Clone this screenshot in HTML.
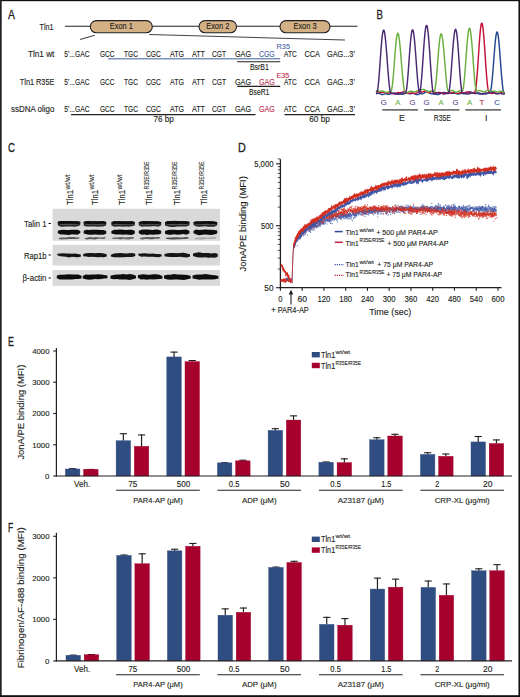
<!DOCTYPE html>
<html><head><meta charset="utf-8"><style>
html,body{margin:0;padding:0;background:#fff;}
svg{display:block;}
text{font-family:"Liberation Sans",sans-serif;}
</style></head><body>
<svg width="520" height="697" viewBox="0 0 520 697">
<rect x="0" y="0" width="520" height="697" fill="#fff"/>
<text x="8.10" y="18.50" font-size="12.5" text-anchor="start" fill="#231f20" stroke="#231f20" stroke-width="0.3" textLength="6.90" lengthAdjust="spacingAndGlyphs" >A</text>
<text x="376.40" y="18.60" font-size="12" text-anchor="start" fill="#231f20" stroke="#231f20" stroke-width="0.3" textLength="6.40" lengthAdjust="spacingAndGlyphs" >B</text>
<text x="8.00" y="152.40" font-size="12.5" text-anchor="start" fill="#231f20" stroke="#231f20" stroke-width="0.3" textLength="7.00" lengthAdjust="spacingAndGlyphs" >C</text>
<text x="238.00" y="151.50" font-size="12" text-anchor="start" fill="#231f20" stroke="#231f20" stroke-width="0.3" textLength="7.80" lengthAdjust="spacingAndGlyphs" >D</text>
<text x="8.00" y="346.30" font-size="12" text-anchor="start" fill="#231f20" stroke="#231f20" stroke-width="0.3" textLength="5.80" lengthAdjust="spacingAndGlyphs" >E</text>
<text x="8.10" y="531.60" font-size="12" text-anchor="start" fill="#231f20" stroke="#231f20" stroke-width="0.35" textLength="5.20" lengthAdjust="spacingAndGlyphs" >F</text>
<text x="53.50" y="29.50" font-size="8.7" text-anchor="end" fill="#231f20" stroke="#231f20" stroke-width="0.13" textLength="14.00" lengthAdjust="spacingAndGlyphs" >Tln1</text>
<line x1="65.00" y1="26.30" x2="357.50" y2="26.30" stroke="#231f20" stroke-width="1.1" />
<rect x="90.3" y="20.6" width="62.000000000000014" height="12.2" rx="6.1" fill="#d4b185" stroke="#231f20" stroke-width="1.1"/>
<text x="121.30" y="29.40" font-size="8.6" text-anchor="middle" fill="#231f20" stroke="#231f20" stroke-width="0.13" textLength="23.00" lengthAdjust="spacingAndGlyphs" >Exon 1</text>
<rect x="199" y="20.6" width="37.5" height="12.2" rx="6.1" fill="#d4b185" stroke="#231f20" stroke-width="1.1"/>
<text x="217.75" y="29.40" font-size="8.6" text-anchor="middle" fill="#231f20" stroke="#231f20" stroke-width="0.13" textLength="23.00" lengthAdjust="spacingAndGlyphs" >Exon 2</text>
<rect x="280" y="20.6" width="50" height="12.2" rx="6.1" fill="#d4b185" stroke="#231f20" stroke-width="1.1"/>
<text x="305.00" y="29.40" font-size="8.6" text-anchor="middle" fill="#231f20" stroke="#231f20" stroke-width="0.13" textLength="23.00" lengthAdjust="spacingAndGlyphs" >Exon 3</text>
<line x1="80.00" y1="39.50" x2="94.80" y2="35.20" stroke="#444" stroke-width="1.1" />
<line x1="149.20" y1="34.50" x2="345.00" y2="40.00" stroke="#444" stroke-width="1.1" />
<text x="54.40" y="57.10" font-size="8.7" text-anchor="end" fill="#231f20" stroke="#231f20" stroke-width="0.13" textLength="26.50" lengthAdjust="spacingAndGlyphs" >Tln1 wt</text>
<text x="54.40" y="84.60" font-size="8.7" text-anchor="end" fill="#231f20" stroke="#231f20" stroke-width="0.13" textLength="34.60" lengthAdjust="spacingAndGlyphs" >Tln1 R35E</text>
<text x="54.40" y="112.30" font-size="8.7" text-anchor="end" fill="#231f20" stroke="#231f20" stroke-width="0.13" textLength="43.40" lengthAdjust="spacingAndGlyphs" >ssDNA oligo</text>
<text x="64.20" y="57.10" font-size="8.7" text-anchor="start" fill="#231f20" stroke="#231f20" stroke-width="0.13" textLength="25.30" lengthAdjust="spacingAndGlyphs" >5&#8217;...GAC</text>
<text x="100.00" y="57.10" font-size="8.7" text-anchor="start" fill="#231f20" stroke="#231f20" stroke-width="0.13" textLength="14.50" lengthAdjust="spacingAndGlyphs" >GCC</text>
<text x="124.00" y="57.10" font-size="8.7" text-anchor="start" fill="#231f20" stroke="#231f20" stroke-width="0.13" textLength="14.00" lengthAdjust="spacingAndGlyphs" >TGC</text>
<text x="146.00" y="57.10" font-size="8.7" text-anchor="start" fill="#231f20" stroke="#231f20" stroke-width="0.13" textLength="15.00" lengthAdjust="spacingAndGlyphs" >CGC</text>
<text x="170.00" y="57.10" font-size="8.7" text-anchor="start" fill="#231f20" stroke="#231f20" stroke-width="0.13" textLength="14.00" lengthAdjust="spacingAndGlyphs" >ATG</text>
<text x="192.00" y="57.10" font-size="8.7" text-anchor="start" fill="#231f20" stroke="#231f20" stroke-width="0.13" textLength="13.00" lengthAdjust="spacingAndGlyphs" >ATT</text>
<text x="212.00" y="57.10" font-size="8.7" text-anchor="start" fill="#231f20" stroke="#231f20" stroke-width="0.13" textLength="14.00" lengthAdjust="spacingAndGlyphs" >CGT</text>
<text x="234.90" y="57.10" font-size="8.7" text-anchor="start" fill="#231f20" stroke="#231f20" stroke-width="0.13" textLength="16.20" lengthAdjust="spacingAndGlyphs" >GAG</text>
<text x="258.90" y="57.10" font-size="8.7" text-anchor="start" fill="#4a6aa5" stroke="#4a6aa5" stroke-width="0.13" textLength="15.90" lengthAdjust="spacingAndGlyphs" >CGG</text>
<text x="284.10" y="57.10" font-size="8.7" text-anchor="start" fill="#231f20" stroke="#231f20" stroke-width="0.13" textLength="12.60" lengthAdjust="spacingAndGlyphs" >ATC</text>
<text x="304.50" y="57.10" font-size="8.7" text-anchor="start" fill="#231f20" stroke="#231f20" stroke-width="0.13" textLength="15.50" lengthAdjust="spacingAndGlyphs" >CCA</text>
<text x="327.00" y="57.10" font-size="8.7" text-anchor="start" fill="#231f20" stroke="#231f20" stroke-width="0.13" textLength="28.00" lengthAdjust="spacingAndGlyphs" >GAG...3&#8217;</text>
<text x="64.20" y="84.60" font-size="8.7" text-anchor="start" fill="#231f20" stroke="#231f20" stroke-width="0.13" textLength="25.30" lengthAdjust="spacingAndGlyphs" >5&#8217;...GAC</text>
<text x="100.00" y="84.60" font-size="8.7" text-anchor="start" fill="#231f20" stroke="#231f20" stroke-width="0.13" textLength="14.50" lengthAdjust="spacingAndGlyphs" >GCC</text>
<text x="124.00" y="84.60" font-size="8.7" text-anchor="start" fill="#231f20" stroke="#231f20" stroke-width="0.13" textLength="14.00" lengthAdjust="spacingAndGlyphs" >TGC</text>
<text x="146.00" y="84.60" font-size="8.7" text-anchor="start" fill="#231f20" stroke="#231f20" stroke-width="0.13" textLength="15.00" lengthAdjust="spacingAndGlyphs" >CGC</text>
<text x="170.00" y="84.60" font-size="8.7" text-anchor="start" fill="#231f20" stroke="#231f20" stroke-width="0.13" textLength="14.00" lengthAdjust="spacingAndGlyphs" >ATG</text>
<text x="192.00" y="84.60" font-size="8.7" text-anchor="start" fill="#231f20" stroke="#231f20" stroke-width="0.13" textLength="13.00" lengthAdjust="spacingAndGlyphs" >ATT</text>
<text x="212.00" y="84.60" font-size="8.7" text-anchor="start" fill="#231f20" stroke="#231f20" stroke-width="0.13" textLength="14.00" lengthAdjust="spacingAndGlyphs" >CGT</text>
<text x="234.90" y="84.60" font-size="8.7" text-anchor="start" fill="#231f20" stroke="#231f20" stroke-width="0.13" textLength="16.20" lengthAdjust="spacingAndGlyphs" >GAG</text>
<text x="258.90" y="84.60" font-size="8.7" text-anchor="start" fill="#c0304f" stroke="#c0304f" stroke-width="0.13" textLength="15.90" lengthAdjust="spacingAndGlyphs" >GAG</text>
<text x="284.10" y="84.60" font-size="8.7" text-anchor="start" fill="#231f20" stroke="#231f20" stroke-width="0.13" textLength="12.60" lengthAdjust="spacingAndGlyphs" >ATC</text>
<text x="304.50" y="84.60" font-size="8.7" text-anchor="start" fill="#231f20" stroke="#231f20" stroke-width="0.13" textLength="15.50" lengthAdjust="spacingAndGlyphs" >CCA</text>
<text x="327.00" y="84.60" font-size="8.7" text-anchor="start" fill="#231f20" stroke="#231f20" stroke-width="0.13" textLength="28.00" lengthAdjust="spacingAndGlyphs" >GAG...3&#8217;</text>
<text x="64.20" y="112.30" font-size="8.7" text-anchor="start" fill="#231f20" stroke="#231f20" stroke-width="0.13" textLength="25.30" lengthAdjust="spacingAndGlyphs" >5&#8217;...GAC</text>
<text x="100.00" y="112.30" font-size="8.7" text-anchor="start" fill="#231f20" stroke="#231f20" stroke-width="0.13" textLength="14.50" lengthAdjust="spacingAndGlyphs" >GCC</text>
<text x="124.00" y="112.30" font-size="8.7" text-anchor="start" fill="#231f20" stroke="#231f20" stroke-width="0.13" textLength="14.00" lengthAdjust="spacingAndGlyphs" >TGC</text>
<text x="146.00" y="112.30" font-size="8.7" text-anchor="start" fill="#231f20" stroke="#231f20" stroke-width="0.13" textLength="15.00" lengthAdjust="spacingAndGlyphs" >CGC</text>
<text x="170.00" y="112.30" font-size="8.7" text-anchor="start" fill="#231f20" stroke="#231f20" stroke-width="0.13" textLength="14.00" lengthAdjust="spacingAndGlyphs" >ATG</text>
<text x="192.00" y="112.30" font-size="8.7" text-anchor="start" fill="#231f20" stroke="#231f20" stroke-width="0.13" textLength="13.00" lengthAdjust="spacingAndGlyphs" >ATT</text>
<text x="212.00" y="112.30" font-size="8.7" text-anchor="start" fill="#231f20" stroke="#231f20" stroke-width="0.13" textLength="14.00" lengthAdjust="spacingAndGlyphs" >CGT</text>
<text x="234.90" y="112.30" font-size="8.7" text-anchor="start" fill="#231f20" stroke="#231f20" stroke-width="0.13" textLength="16.20" lengthAdjust="spacingAndGlyphs" >GAG</text>
<text x="258.90" y="112.30" font-size="8.7" text-anchor="start" fill="#c0304f" stroke="#c0304f" stroke-width="0.13" textLength="15.90" lengthAdjust="spacingAndGlyphs" >GAG</text>
<text x="284.10" y="112.30" font-size="8.7" text-anchor="start" fill="#231f20" stroke="#231f20" stroke-width="0.13" textLength="12.60" lengthAdjust="spacingAndGlyphs" >ATC</text>
<text x="304.50" y="112.30" font-size="8.7" text-anchor="start" fill="#231f20" stroke="#231f20" stroke-width="0.13" textLength="15.50" lengthAdjust="spacingAndGlyphs" >CCA</text>
<text x="327.00" y="112.30" font-size="8.7" text-anchor="start" fill="#231f20" stroke="#231f20" stroke-width="0.13" textLength="28.00" lengthAdjust="spacingAndGlyphs" >GAG...3&#8217;</text>
<text x="276.60" y="49.40" font-size="7.8" text-anchor="start" fill="#4a6aa5" stroke="#4a6aa5" stroke-width="0.13" textLength="13.40" lengthAdjust="spacingAndGlyphs" >R35</text>
<text x="276.60" y="77.80" font-size="7.8" text-anchor="start" fill="#c0304f" stroke="#c0304f" stroke-width="0.13" textLength="12.60" lengthAdjust="spacingAndGlyphs" >E35</text>
<line x1="108.00" y1="58.70" x2="280.20" y2="58.70" stroke="#7d92bb" stroke-width="1.4" />
<line x1="237.20" y1="61.70" x2="280.20" y2="61.70" stroke="#231f20" stroke-width="1.1" />
<text x="249.90" y="70.10" font-size="8.7" text-anchor="start" fill="#231f20" stroke="#231f20" stroke-width="0.13" textLength="18.90" lengthAdjust="spacingAndGlyphs" >BsrB1</text>
<line x1="237.20" y1="86.40" x2="280.20" y2="86.40" stroke="#231f20" stroke-width="1.1" />
<text x="249.10" y="94.60" font-size="8.7" text-anchor="start" fill="#231f20" stroke="#231f20" stroke-width="0.13" textLength="20.20" lengthAdjust="spacingAndGlyphs" >BseR1</text>
<line x1="71.10" y1="114.50" x2="255.50" y2="114.50" stroke="#231f20" stroke-width="1.25" />
<line x1="284.50" y1="114.50" x2="355.00" y2="114.50" stroke="#231f20" stroke-width="1.25" />
<text x="153.50" y="122.00" font-size="8.7" text-anchor="start" fill="#231f20" stroke="#231f20" stroke-width="0.13" textLength="20.20" lengthAdjust="spacingAndGlyphs" >76 bp</text>
<text x="309.20" y="122.00" font-size="8.7" text-anchor="start" fill="#231f20" stroke="#231f20" stroke-width="0.13" textLength="20.60" lengthAdjust="spacingAndGlyphs" >60 bp</text>
<polyline points="376.0,93.80 376.4,93.65 376.8,93.50 377.2,93.36 377.6,93.26 378.0,93.20 378.4,93.21 378.8,93.28 379.2,93.40 379.6,93.58 380.0,93.78 380.4,93.99 380.8,94.19 381.2,94.36 381.6,94.48 382.0,94.54 382.4,94.53 382.8,94.47 383.2,94.37 383.6,94.24 384.0,94.09 384.4,93.96 384.8,93.86 385.2,93.80 385.6,93.79 386.0,93.83 386.4,93.91 386.8,94.02 387.2,94.14 387.6,94.25 388.0,94.34 388.4,94.38 388.8,94.37 389.2,94.30 389.6,94.17 390.0,94.01 390.4,93.81 390.8,93.61 391.2,93.42 391.6,93.26 392.0,93.16 392.4,93.12 392.8,93.14 393.2,93.22 393.6,93.35 394.0,93.52 394.4,93.70 394.8,93.87 395.2,94.02 395.6,94.12 396.0,94.17 396.4,94.16 396.8,94.11 397.2,94.02 397.6,93.92 398.0,93.81 398.4,93.71 398.8,93.65 399.2,93.64 399.6,93.67 400.0,93.75 400.4,93.87 400.8,94.01 401.2,94.14 401.6,94.26 402.0,94.33 402.4,94.35 402.8,94.30 403.2,94.18 403.6,93.99 404.0,93.76 404.4,93.50 404.8,93.24 405.2,92.99 405.6,92.80 406.0,92.66 406.4,92.60 406.8,92.62 407.2,92.70 407.6,92.85 408.0,93.03 408.4,93.23 408.8,93.42 409.2,93.58 409.6,93.69 410.0,93.75 410.4,93.75 410.8,93.70 411.2,93.61 411.6,93.50 412.0,93.40 412.4,93.32 412.8,93.27 413.2,93.28 413.6,93.35 414.0,93.47 414.4,93.64 414.8,93.84 415.2,94.06 415.6,94.26 416.0,94.43 416.4,94.55 416.8,94.62 417.2,94.62 417.6,94.56 418.0,94.45 418.4,94.30 418.8,94.13 419.2,93.97 419.6,93.83 420.0,93.72 420.4,93.65 420.8,93.63 421.2,93.63 421.6,93.66 422.0,93.69 422.4,93.69 422.8,93.66 423.2,93.57 423.6,93.41 424.0,93.18 424.4,92.89 424.8,92.55 425.2,92.20 425.6,91.85 426.0,91.54 426.4,91.30 426.8,91.15 427.2,91.11 427.6,91.18 428.0,91.35 428.4,91.62 428.8,91.95 429.2,92.32 429.6,92.70 430.0,93.05 430.4,93.35 430.8,93.58 431.2,93.75 431.6,93.83 432.0,93.86 432.4,93.84 432.8,93.79 433.2,93.74 433.6,93.70 434.0,93.69 434.4,93.73 434.8,93.81 435.2,93.93 435.6,94.08 436.0,94.24 436.4,94.39 436.8,94.51 437.2,94.59 437.6,94.61 438.0,94.56 438.4,94.46 438.8,94.30 439.2,94.11 439.6,93.89 440.0,93.69 440.4,93.51 440.8,93.37 441.2,93.29 441.6,93.27 442.0,93.30 442.4,93.39 442.8,93.51 443.2,93.64 443.6,93.77 444.0,93.87 444.4,93.93 444.8,93.93 445.2,93.87 445.6,93.76 446.0,93.59 446.4,93.40 446.8,93.19 447.2,93.00 447.6,92.82 448.0,92.69 448.4,92.61 448.8,92.58 449.2,92.62 449.6,92.70 450.0,92.81 450.4,92.95 450.8,93.08 451.2,93.21 451.6,93.31 452.0,93.37 452.4,93.40 452.8,93.40 453.2,93.36 453.6,93.32 454.0,93.27 454.4,93.24 454.8,93.24 455.2,93.27 455.6,93.35 456.0,93.45 456.4,93.59 456.8,93.74 457.2,93.88 457.6,94.00 458.0,94.09 458.4,94.12 458.8,94.10 459.2,94.03 459.6,93.90 460.0,93.75 460.4,93.57 460.8,93.40 461.2,93.26 461.6,93.15 462.0,93.10 462.4,93.12 462.8,93.19 463.2,93.30 463.6,93.45 464.0,93.61 464.4,93.75 464.8,93.85 465.2,93.89 465.6,93.85 466.0,93.74 466.4,93.54 466.8,93.28 467.2,92.97 467.6,92.65 468.0,92.33 468.4,92.05 468.8,91.83 469.2,91.70 469.6,91.66 470.0,91.72 470.4,91.86 470.8,92.08 471.2,92.33 471.6,92.60 472.0,92.86 472.4,93.08 472.8,93.25 473.2,93.35 473.6,93.39 474.0,93.37 474.4,93.30 474.8,93.22 475.2,93.14 475.6,93.08 476.0,93.05 476.4,93.07 476.8,93.14 477.2,93.26 477.6,93.41 478.0,93.58 478.4,93.74 478.8,93.88 479.2,93.99 479.6,94.05 480.0,94.05 480.4,94.01 480.8,93.92 481.2,93.81 481.6,93.69 482.0,93.58 482.4,93.50 482.8,93.45 483.2,93.45 483.6,93.50 484.0,93.58 484.4,93.68 484.8,93.80 485.2,93.89 485.6,93.95 486.0,93.96 486.4,93.90 486.8,93.78 487.2,93.61 487.6,93.39 488.0,93.14 488.4,92.89 488.8,92.67 489.2,92.49 489.6,92.39 490.0,92.21 490.4,91.48 490.8,90.07 491.2,87.93 491.6,85.08 492.0,81.56 492.4,77.42 492.8,72.78 493.2,67.76 493.6,62.50 494.0,57.18 494.4,51.95 494.8,47.01 495.2,42.53 495.6,38.67 496.0,35.58 496.4,33.38 496.8,32.14 497.2,31.93 497.6,32.74 498.0,34.55 498.4,37.30 498.8,40.87 499.2,45.14 499.6,49.95 500.0,55.14 500.4,60.52 500.8,65.92 501.2,71.18 501.6,76.12 502.0,80.62 502.4,84.56 502.8,87.84 503.2,90.42 503.6,92.25 504.0,93.36 504.4,93.79 504.8,93.86" fill="none" stroke="#24498f" stroke-width="1.45" stroke-linejoin="round"/>
<polyline points="376.0,91.80 376.4,91.60 376.8,91.46 377.2,91.40 377.6,91.41 378.0,91.50 378.4,91.65 378.8,91.84 379.2,92.05 379.6,92.25 380.0,92.41 380.4,92.53 380.8,92.59 381.2,92.60 381.6,92.55 382.0,92.47 382.4,92.36 382.8,92.26 383.2,92.19 383.6,92.15 384.0,92.16 384.4,92.22 384.8,92.33 385.2,92.47 385.6,92.64 386.0,92.81 386.4,92.96 386.8,93.08 387.2,93.15 387.6,93.17 388.0,93.14 388.4,93.07 388.8,92.97 389.2,92.86 389.6,92.76 390.0,92.68 390.4,92.65 390.8,92.67 391.2,92.74 391.6,92.87 392.0,93.03 392.4,93.22 392.8,93.41 393.2,93.58 393.6,93.71 394.0,93.78 394.4,93.80 394.8,93.74 395.2,93.63 395.6,93.47 396.0,93.28 396.4,93.08 396.8,92.89 397.2,92.73 397.6,92.61 398.0,92.54 398.4,92.52 398.8,92.55 399.2,92.60 399.6,92.66 400.0,92.71 400.4,92.73 400.8,92.71 401.2,92.64 401.6,92.52 402.0,92.35 402.4,92.15 402.8,91.93 403.2,91.73 403.6,91.56 404.0,91.45 404.4,91.41 404.8,91.45 405.2,91.57 405.6,91.77 406.0,92.02 406.4,92.31 406.8,92.60 407.2,92.88 407.6,93.12 408.0,93.31 408.4,93.42 408.8,93.47 409.2,93.44 409.6,93.37 410.0,93.26 410.4,93.14 410.8,93.02 411.2,92.94 411.6,92.89 412.0,92.88 412.4,92.93 412.8,93.02 413.2,93.13 413.6,93.25 414.0,93.36 414.4,93.44 414.8,93.48 415.2,93.46 415.6,93.39 416.0,93.25 416.4,93.07 416.8,92.86 417.2,92.64 417.6,92.43 418.0,92.24 418.4,92.10 418.8,92.00 419.2,91.95 419.6,91.95 420.0,91.98 420.4,92.02 420.8,92.06 421.2,92.09 421.6,92.08 422.0,92.03 422.4,91.94 422.8,91.82 423.2,91.68 423.6,91.53 424.0,91.40 424.4,91.30 424.8,91.26 425.2,91.28 425.6,91.37 426.0,91.53 426.4,91.73 426.8,91.97 427.2,92.22 427.6,92.45 428.0,92.64 428.4,92.77 428.8,92.81 429.2,92.77 429.6,92.65 430.0,92.45 430.4,92.21 430.8,91.94 431.2,91.67 431.6,91.44 432.0,91.26 432.4,91.17 432.8,91.15 433.2,91.22 433.6,91.37 434.0,91.58 434.4,91.83 434.8,92.08 435.2,92.32 435.6,92.52 436.0,92.67 436.4,92.76 436.8,92.78 437.2,92.75 437.6,92.67 438.0,92.57 438.4,92.48 438.8,92.40 439.2,92.36 439.6,92.38 440.0,92.45 440.4,92.58 440.8,92.75 441.2,92.96 441.6,93.17 442.0,93.37 442.4,93.54 442.8,93.66 443.2,93.72 443.6,93.72 444.0,93.65 444.4,93.54 444.8,93.39 445.2,93.24 445.6,93.08 446.0,92.96 446.4,92.87 446.8,92.83 447.2,92.85 447.6,92.91 448.0,93.00 448.4,93.11 448.8,93.22 449.2,93.31 449.6,93.36 450.0,93.36 450.4,93.30 450.8,93.19 451.2,93.04 451.6,92.86 452.0,92.66 452.4,92.48 452.8,92.34 453.2,92.24 453.6,92.20 454.0,92.23 454.4,92.32 454.8,92.46 455.2,92.64 455.6,92.83 456.0,93.02 456.4,93.18 456.8,93.30 457.2,93.36 457.6,93.37 458.0,93.32 458.4,93.23 458.8,93.11 459.2,92.98 459.6,92.85 460.0,92.75 460.4,92.68 460.8,92.65 461.2,92.67 461.6,92.72 462.0,92.79 462.4,92.87 462.8,92.95 463.2,93.00 463.6,93.00 464.0,92.97 464.4,92.88 464.8,92.75 465.2,92.59 465.6,92.41 466.0,92.24 466.4,92.08 466.8,91.97 467.2,91.91 467.6,91.90 468.0,91.96 468.4,92.07 468.8,92.23 469.2,92.41 469.6,92.60 470.0,92.78 470.4,92.92 470.8,93.02 471.2,93.06 471.6,93.05 472.0,92.99 472.4,92.89 472.8,92.77 473.2,92.66 473.6,92.56 474.0,92.51 474.4,92.51 474.8,92.25 475.2,91.27 475.6,89.47 476.0,86.81 476.4,83.32 476.8,79.06 477.2,74.13 477.6,68.65 478.0,62.77 478.4,56.68 478.8,50.58 479.2,44.65 479.6,39.10 480.0,34.14 480.4,29.93 480.8,26.63 481.2,24.35 481.6,23.19 482.0,23.18 482.4,24.32 482.8,26.56 483.2,29.81 483.6,33.95 484.0,38.84 484.4,44.29 484.8,50.12 485.2,56.13 485.6,62.13 486.0,67.94 486.4,73.38 486.8,78.30 487.2,82.59 487.6,86.15 488.0,88.90 488.4,90.83 488.8,91.94 489.2,92.34 489.6,92.49 490.0,92.67 490.4,92.87 490.8,93.08 491.2,93.25 491.6,93.39 492.0,93.48 492.4,93.51 492.8,93.48 493.2,93.40 493.6,93.29 494.0,93.17 494.4,93.05 494.8,92.96 495.2,92.90 495.6,92.90 496.0,92.94 496.4,93.03 496.8,93.15 497.2,93.29 497.6,93.42 498.0,93.53 498.4,93.60 498.8,93.62 499.2,93.58 499.6,93.47 500.0,93.32 500.4,93.13 500.8,92.92 501.2,92.71 501.6,92.53 502.0,92.39 502.4,92.30 502.8,92.28 503.2,92.32 503.6,92.42 504.0,92.55 504.4,92.71 504.8,92.86" fill="none" stroke="#c5113a" stroke-width="1.45" stroke-linejoin="round"/>
<polyline points="376.0,90.66 376.4,90.64 376.8,90.67 377.2,90.75 377.6,90.85 378.0,90.96 378.4,91.06 378.8,91.13 379.2,91.17 379.6,91.18 380.0,91.15 380.4,91.10 380.8,91.05 381.2,90.99 381.6,90.97 382.0,90.98 382.4,91.04 382.8,91.15 383.2,91.30 383.6,91.50 384.0,91.73 384.4,91.95 384.8,92.17 385.2,92.34 385.6,92.47 386.0,92.53 386.4,92.53 386.8,92.47 387.2,92.35 387.6,92.20 388.0,92.04 388.4,91.88 388.8,91.75 389.2,91.66 389.6,91.61 390.0,91.62 390.4,91.68 390.8,91.63 391.2,91.01 391.6,89.66 392.0,87.55 392.4,84.69 392.8,81.12 393.2,76.93 393.6,72.24 394.0,67.19 394.4,61.95 394.8,56.69 395.2,51.60 395.6,46.85 396.0,42.62 396.4,39.04 396.8,36.25 397.2,34.33 397.6,33.33 398.0,33.28 398.4,34.16 398.8,35.94 399.2,38.54 399.6,41.86 400.0,45.78 400.4,50.19 400.8,54.93 401.2,59.86 401.6,64.84 402.0,69.73 402.4,74.38 402.8,78.69 403.2,82.52 403.6,85.79 404.0,88.42 404.4,90.35 404.8,91.58 405.2,92.14 405.6,92.29 406.0,92.41 406.4,92.48 406.8,92.49 407.2,92.44 407.6,92.33 408.0,92.17 408.4,91.97 408.8,91.76 409.2,91.55 409.6,91.37 410.0,91.24 410.4,91.16 410.8,91.15 411.2,91.19 411.6,91.28 412.0,91.41 412.4,91.55 412.8,91.69 413.2,91.80 413.6,91.87 414.0,91.89 414.4,91.86 414.8,91.77 415.2,91.64 415.6,91.48 416.0,91.30 416.4,91.12 416.8,90.96 417.2,90.83 417.6,90.72 418.0,90.64 418.4,90.58 418.8,90.53 419.2,90.47 419.6,90.41 420.0,90.32 420.4,90.21 420.8,90.07 421.2,89.91 421.6,89.74 422.0,89.59 422.4,89.46 422.8,89.38 423.2,89.36 423.6,89.40 424.0,89.51 424.4,89.70 424.8,89.95 425.2,90.24 425.6,90.55 426.0,90.87 426.4,91.17 426.8,91.43 427.2,91.62 427.6,91.75 428.0,91.80 428.4,91.78 428.8,91.70 429.2,91.57 429.6,91.42 430.0,91.27 430.4,91.15 430.8,91.06 431.2,91.03 431.6,91.06 432.0,91.15 432.4,91.30 432.8,91.49 433.2,91.69 433.6,91.90 434.0,92.02 434.4,91.60 434.8,90.41 435.2,88.41 435.6,85.63 436.0,82.13 436.4,77.99 436.8,73.35 437.2,68.37 437.6,63.21 438.0,58.03 438.4,53.03 438.8,48.34 439.2,44.14 439.6,40.53 440.0,37.64 440.4,35.53 440.8,34.27 441.2,33.88 441.6,34.36 442.0,35.69 442.4,37.82 442.8,40.69 443.2,44.22 443.6,48.30 444.0,52.81 444.4,57.61 444.8,62.58 445.2,67.55 445.6,72.37 446.0,76.90 446.4,81.00 446.8,84.53 447.2,87.40 447.6,89.52 448.0,90.87 448.4,91.47 448.8,91.50 449.2,91.42 449.6,91.28 450.0,91.11 450.4,90.92 450.8,90.74 451.2,90.59 451.6,90.49 452.0,90.45 452.4,90.50 452.8,90.62 453.2,90.81 453.6,91.05 454.0,91.32 454.4,91.59 454.8,91.84 455.2,92.04 455.6,92.17 456.0,92.23 456.4,92.20 456.8,92.10 457.2,91.94 457.6,91.74 458.0,91.52 458.4,91.31 458.8,91.11 459.2,90.96 459.6,90.86 460.0,90.81 460.4,90.81 460.8,90.86 461.2,90.93 461.6,91.01 462.0,91.09 462.4,91.00 462.8,90.21 463.2,88.61 463.6,86.15 464.0,82.87 464.4,78.86 464.8,74.23 465.2,69.12 465.6,63.70 466.0,58.15 466.4,52.64 466.8,47.36 467.2,42.48 467.6,38.13 468.0,34.46 468.4,31.57 468.8,29.55 469.2,28.43 469.6,28.26 470.0,29.04 470.4,30.73 470.8,33.28 471.2,36.63 471.6,40.66 472.0,45.26 472.4,50.30 472.8,55.62 473.2,61.06 473.6,66.45 474.0,71.63 474.4,76.44 474.8,80.72 475.2,84.35 475.6,87.23 476.0,89.30 476.4,90.54 476.8,90.99 477.2,90.99 477.6,90.94 478.0,90.87 478.4,90.79 478.8,90.71 479.2,90.65 479.6,90.62 480.0,90.63 480.4,90.70 480.8,90.81 481.2,90.97 481.6,91.15 482.0,91.35 482.4,91.54 482.8,91.70 483.2,91.80 483.6,91.85 484.0,91.83 484.4,91.74 484.8,91.58 485.2,91.38 485.6,91.15 486.0,90.91 486.4,90.70 486.8,90.52 487.2,90.40 487.6,90.34 488.0,90.36 488.4,90.44 488.8,90.58 489.2,90.75 489.6,90.93 490.0,91.11 490.4,91.27 490.8,91.38 491.2,91.44 491.6,91.45 492.0,91.42 492.4,91.35 492.8,91.27 493.2,91.19 493.6,91.12 494.0,91.09 494.4,91.10 494.8,91.16 495.2,91.26 495.6,91.38 496.0,91.53 496.4,91.66 496.8,91.78 497.2,91.86 497.6,91.90 498.0,91.88 498.4,91.81 498.8,91.71 499.2,91.58 499.6,91.44 500.0,91.32 500.4,91.23 500.8,91.20 501.2,91.22 501.6,91.30 502.0,91.43 502.4,91.61 502.8,91.82 503.2,92.03 503.6,92.22 504.0,92.38 504.4,92.49 504.8,92.53" fill="none" stroke="#6aaf3d" stroke-width="1.45" stroke-linejoin="round"/>
<polyline points="376.0,93.31 376.4,93.51 376.8,93.25 377.2,92.20 377.6,90.29 378.0,87.51 378.4,83.92 378.8,79.60 379.2,74.69 379.6,69.34 380.0,63.73 380.4,58.05 380.8,52.48 381.2,47.23 381.6,42.45 382.0,38.30 382.4,34.90 382.8,32.37 383.2,30.76 383.6,30.11 384.0,30.43 384.4,31.70 384.8,33.87 385.2,36.86 385.6,40.59 386.0,44.94 386.4,49.77 386.8,54.96 387.2,60.33 387.6,65.75 388.0,71.04 388.4,76.05 388.8,80.63 389.2,84.64 389.6,87.98 390.0,90.55 390.4,92.31 390.8,93.26 391.2,93.52 391.6,93.59 392.0,93.60 392.4,93.56 392.8,93.49 393.2,93.38 393.6,93.27 394.0,93.18 394.4,93.11 394.8,93.09 395.2,93.11 395.6,93.20 396.0,93.33 396.4,93.50 396.8,93.68 397.2,93.86 397.6,94.02 398.0,94.13 398.4,94.19 398.8,94.18 399.2,94.11 399.6,93.98 400.0,93.81 400.4,93.62 400.8,93.42 401.2,93.24 401.6,93.10 402.0,93.00 402.4,92.96 402.8,92.98 403.2,93.05 403.6,93.15 404.0,93.26 404.4,93.38 404.8,93.47 405.2,93.52 405.6,93.24 406.0,92.19 406.4,90.29 406.8,87.53 407.2,83.98 407.6,79.72 408.0,74.89 408.4,69.63 408.8,64.12 409.2,58.54 409.6,53.05 410.0,47.83 410.4,43.05 410.8,38.84 411.2,35.32 411.6,32.61 412.0,30.77 412.4,29.85 412.8,29.88 413.2,30.86 413.6,32.76 414.0,35.53 414.4,39.09 414.8,43.33 415.2,48.14 415.6,53.35 416.0,58.82 416.4,64.37 416.8,69.83 417.2,75.01 417.6,79.76 418.0,83.91 418.4,87.36 418.8,90.00 419.2,91.80 419.6,92.73 420.0,91.56 420.4,89.51 420.8,86.56 421.2,82.78 421.6,78.27 422.0,73.15 422.4,67.59 422.8,61.76 423.2,55.84 423.6,50.02 424.0,44.49 424.4,39.40 424.8,34.92 425.2,31.18 425.6,28.29 426.0,26.33 426.4,25.36 426.8,25.41 427.2,26.49 427.6,28.55 428.0,31.55 428.4,35.40 428.8,40.00 429.2,45.21 429.6,50.87 430.0,56.80 430.4,62.83 430.8,68.77 431.2,74.41 431.6,79.58 432.0,84.12 432.4,87.89 432.8,90.80 433.2,92.78 433.6,93.85 434.0,94.08 434.4,93.95 434.8,93.77 435.2,93.57 435.6,93.36 436.0,93.17 436.4,93.01 436.8,92.90 437.2,92.85 437.6,92.85 438.0,92.91 438.4,93.01 438.8,93.14 439.2,93.26 439.6,93.37 440.0,93.45 440.4,93.47 440.8,93.45 441.2,93.37 441.6,93.25 442.0,93.10 442.4,92.94 442.8,92.78 443.2,92.66 443.6,92.57 444.0,92.54 444.4,92.56 444.8,92.64 445.2,92.77 445.6,92.92 446.0,93.09 446.4,93.26 446.8,93.40 447.2,93.51 447.6,93.56 448.0,93.57 448.4,93.38 448.8,92.49 449.2,90.78 449.6,88.25 450.0,84.95 450.4,80.94 450.8,76.35 451.2,71.32 451.6,65.98 452.0,60.49 452.4,55.03 452.8,49.75 453.2,44.80 453.6,40.33 454.0,36.48 454.4,33.37 454.8,31.08 455.2,29.71 455.6,29.30 456.0,29.88 456.4,31.44 456.8,33.95 457.2,37.34 457.6,41.50 458.0,46.31 458.4,51.62 458.8,57.25 459.2,63.01 459.6,68.71 460.0,74.15 460.4,79.16 460.8,83.58 461.2,87.27 461.6,90.15 462.0,92.16 462.4,93.31 462.8,93.67 463.2,93.57 463.6,93.45 464.0,93.35 464.4,93.29 464.8,93.27 465.2,93.29 465.6,93.37 466.0,93.49 466.4,93.63 466.8,93.78 467.2,93.92 467.6,94.03 468.0,94.08 468.4,94.08 468.8,94.01 469.2,93.88 469.6,93.71 470.0,93.51 470.4,93.30 470.8,93.10 471.2,92.93 471.6,92.81 472.0,92.75 472.4,92.75 472.8,92.80 473.2,92.91 473.6,93.05 474.0,93.19 474.4,93.33 474.8,93.44 475.2,93.50 475.6,93.52 476.0,93.49 476.4,93.41 476.8,93.31 477.2,93.19 477.6,93.07 478.0,92.99 478.4,92.94 478.8,92.95 479.2,93.02 479.6,93.14 480.0,93.30 480.4,93.50 480.8,93.70 481.2,93.89 481.6,94.04 482.0,94.14 482.4,94.18 482.8,94.16 483.2,94.07 483.6,93.92 484.0,93.74 484.4,93.54 484.8,93.34 485.2,93.17 485.6,93.03 486.0,92.93 486.4,92.88 486.8,92.88 487.2,92.91 487.6,92.96 488.0,93.01 488.4,93.05 488.8,93.07 489.2,93.04 489.6,92.98 490.0,92.88 490.4,92.76 490.8,92.62 491.2,92.48 491.6,92.36 492.0,92.29 492.4,92.26 492.8,92.30 493.2,92.40 493.6,92.56 494.0,92.77 494.4,93.00 494.8,93.24 495.2,93.47 495.6,93.67 496.0,93.81 496.4,93.90 496.8,93.92 497.2,93.89 497.6,93.81 498.0,93.69 498.4,93.57 498.8,93.45 499.2,93.36 499.6,93.31 500.0,93.30 500.4,93.35 500.8,93.44 501.2,93.56 501.6,93.70 502.0,93.82 502.4,93.92 502.8,93.98 503.2,93.98 503.6,93.92 504.0,93.81 504.4,93.64 504.8,93.44" fill="none" stroke="#4b2873" stroke-width="1.45" stroke-linejoin="round"/>
<text x="383.70" y="104.50" font-size="7.8" text-anchor="middle" fill="#6b4a93" stroke="#6b4a93" stroke-width="0.13" >G</text>
<text x="397.90" y="104.50" font-size="7.8" text-anchor="middle" fill="#72b44c" stroke="#72b44c" stroke-width="0.13" >A</text>
<text x="412.60" y="104.50" font-size="7.8" text-anchor="middle" fill="#6b4a93" stroke="#6b4a93" stroke-width="0.13" >G</text>
<text x="426.60" y="104.50" font-size="7.8" text-anchor="middle" fill="#6b4a93" stroke="#6b4a93" stroke-width="0.13" >G</text>
<text x="441.20" y="104.50" font-size="7.8" text-anchor="middle" fill="#72b44c" stroke="#72b44c" stroke-width="0.13" >A</text>
<text x="455.50" y="104.50" font-size="7.8" text-anchor="middle" fill="#6b4a93" stroke="#6b4a93" stroke-width="0.13" >G</text>
<text x="469.50" y="104.50" font-size="7.8" text-anchor="middle" fill="#72b44c" stroke="#72b44c" stroke-width="0.13" >A</text>
<text x="481.80" y="104.50" font-size="7.8" text-anchor="middle" fill="#b8304e" stroke="#b8304e" stroke-width="0.13" >T</text>
<text x="497.10" y="104.50" font-size="7.8" text-anchor="middle" fill="#43609e" stroke="#43609e" stroke-width="0.13" >C</text>
<line x1="382.30" y1="109.80" x2="417.90" y2="109.80" stroke="#707070" stroke-width="1.7" />
<line x1="424.10" y1="109.80" x2="459.50" y2="109.80" stroke="#707070" stroke-width="1.7" />
<line x1="465.40" y1="109.80" x2="500.90" y2="109.80" stroke="#707070" stroke-width="1.7" />
<text x="401.90" y="120.80" font-size="8.8" text-anchor="middle" fill="#231f20" stroke="#231f20" stroke-width="0.12" >E</text>
<text x="442.30" y="120.80" font-size="8.8" text-anchor="middle" fill="#231f20" stroke="#231f20" stroke-width="0.12" textLength="17.20" lengthAdjust="spacingAndGlyphs" >R35E</text>
<text x="486.20" y="120.80" font-size="8.8" text-anchor="middle" fill="#231f20" stroke="#231f20" stroke-width="0.12" >I</text>
<g transform="translate(73,205) rotate(-90)">
<text x="0.00" y="0.00" font-size="9.2" text-anchor="start" fill="#231f20" stroke="#231f20" stroke-width="0.13" textLength="15.00" lengthAdjust="spacingAndGlyphs" >Tln1</text>
<text x="15.60" y="-3.30" font-size="7.0" text-anchor="start" fill="#231f20" stroke="#231f20" stroke-width="0.08" textLength="15.00" lengthAdjust="spacingAndGlyphs" >wt/wt</text>
</g>
<g transform="translate(97.5,205) rotate(-90)">
<text x="0.00" y="0.00" font-size="9.2" text-anchor="start" fill="#231f20" stroke="#231f20" stroke-width="0.13" textLength="15.00" lengthAdjust="spacingAndGlyphs" >Tln1</text>
<text x="15.60" y="-3.30" font-size="7.0" text-anchor="start" fill="#231f20" stroke="#231f20" stroke-width="0.08" textLength="15.00" lengthAdjust="spacingAndGlyphs" >wt/wt</text>
</g>
<g transform="translate(125.4,205) rotate(-90)">
<text x="0.00" y="0.00" font-size="9.2" text-anchor="start" fill="#231f20" stroke="#231f20" stroke-width="0.13" textLength="15.00" lengthAdjust="spacingAndGlyphs" >Tln1</text>
<text x="15.60" y="-3.30" font-size="7.0" text-anchor="start" fill="#231f20" stroke="#231f20" stroke-width="0.08" textLength="15.00" lengthAdjust="spacingAndGlyphs" >wt/wt</text>
</g>
<g transform="translate(152.3,205) rotate(-90)">
<text x="0.00" y="0.00" font-size="9.2" text-anchor="start" fill="#231f20" stroke="#231f20" stroke-width="0.13" textLength="15.00" lengthAdjust="spacingAndGlyphs" >Tln1</text>
<text x="15.60" y="-3.30" font-size="7.0" text-anchor="start" fill="#231f20" stroke="#231f20" stroke-width="0.08" textLength="28.00" lengthAdjust="spacingAndGlyphs" >R35E/R35E</text>
</g>
<g transform="translate(179.9,205) rotate(-90)">
<text x="0.00" y="0.00" font-size="9.2" text-anchor="start" fill="#231f20" stroke="#231f20" stroke-width="0.13" textLength="15.00" lengthAdjust="spacingAndGlyphs" >Tln1</text>
<text x="15.60" y="-3.30" font-size="7.0" text-anchor="start" fill="#231f20" stroke="#231f20" stroke-width="0.08" textLength="28.00" lengthAdjust="spacingAndGlyphs" >R35E/R35E</text>
</g>
<g transform="translate(207.3,205) rotate(-90)">
<text x="0.00" y="0.00" font-size="9.2" text-anchor="start" fill="#231f20" stroke="#231f20" stroke-width="0.13" textLength="15.00" lengthAdjust="spacingAndGlyphs" >Tln1</text>
<text x="15.60" y="-3.30" font-size="7.0" text-anchor="start" fill="#231f20" stroke="#231f20" stroke-width="0.08" textLength="28.00" lengthAdjust="spacingAndGlyphs" >R35E/R35E</text>
</g>
<text x="46.50" y="226.50" font-size="8.7" text-anchor="end" fill="#231f20" stroke="#231f20" stroke-width="0.13" textLength="22.50" lengthAdjust="spacingAndGlyphs" >Talin 1</text>
<text x="46.50" y="258.50" font-size="8.7" text-anchor="end" fill="#231f20" stroke="#231f20" stroke-width="0.13" textLength="22.50" lengthAdjust="spacingAndGlyphs" >Rap1b</text>
<text x="46.50" y="281.00" font-size="8.7" text-anchor="end" fill="#231f20" stroke="#231f20" stroke-width="0.13" textLength="24.00" lengthAdjust="spacingAndGlyphs" >&#946;-actin</text>
<line x1="48.50" y1="223.50" x2="51.00" y2="223.50" stroke="#231f20" stroke-width="1" />
<line x1="48.50" y1="255.00" x2="51.00" y2="255.00" stroke="#231f20" stroke-width="1" />
<line x1="48.50" y1="278.00" x2="51.00" y2="278.00" stroke="#231f20" stroke-width="1" />
<rect x="52.60" y="208.80" width="167.40" height="32.00" fill="#d9d9d9" />
<rect x="52.60" y="244.80" width="167.40" height="20.70" fill="#d9d9d9" />
<rect x="52.60" y="270.00" width="167.40" height="15.80" fill="#d9d9d9" />
<defs><filter id="bl" x="-20%" y="-80%" width="140%" height="260%"><feGaussianBlur stdDeviation="0.55"/></filter></defs>
<g filter="url(#bl)">
<polygon points="57.8,222.4 60.6,221.3 63.4,221.1 66.2,221.0 69.0,221.1 71.9,221.0 74.7,221.2 77.5,221.5 80.3,222.3 80.3,225.3 77.5,226.3 74.7,226.8 71.9,226.6 69.0,226.4 66.2,226.6 63.4,226.7 60.6,226.7 57.8,225.2" fill="#2a2a2a" opacity="1.0"/>
<polygon points="57.8,221.6 60.6,221.1 63.4,221.0 66.2,221.3 69.0,221.1 71.9,221.3 74.7,221.3 77.5,221.3 80.3,221.5 80.3,223.2 77.5,224.1 74.7,223.8 71.9,223.8 69.0,223.8 66.2,223.7 63.4,223.9 60.6,223.9 57.8,223.2" fill="#0e0e0e" opacity="1.0"/>
<polygon points="59.3,224.3 61.7,224.2 64.2,224.1 66.6,224.1 69.0,224.2 71.5,224.2 73.9,224.0 76.4,224.2 78.8,224.4 78.8,224.8 76.4,224.9 73.9,224.7 71.5,224.9 69.0,225.1 66.6,224.8 64.2,224.9 61.7,224.9 59.3,224.5" fill="#5a5a5a" opacity="1.0"/>
<polygon points="57.8,230.8 60.6,230.0 63.4,229.8 66.2,229.9 69.0,230.1 71.9,229.7 74.7,229.8 77.5,229.7 80.3,230.9 80.3,233.1 77.5,234.7 74.7,234.4 71.9,234.3 69.0,234.9 66.2,234.8 63.4,234.6 60.6,234.5 57.8,233.3" fill="#0e0e0e" opacity="1.0"/>
<polygon points="58.8,237.9 61.4,237.5 63.9,237.6 66.5,237.4 69.0,237.1 71.6,237.1 74.2,237.0 76.7,237.4 79.3,237.3 79.3,238.6 76.7,239.1 74.2,239.0 71.6,239.1 69.0,239.0 66.5,239.2 63.9,239.3 61.4,239.4 58.8,239.0" fill="#5a5a5a" opacity="1.0"/>
<polygon points="57.3,253.8 60.2,253.4 63.2,253.2 66.1,253.6 69.0,253.5 72.0,253.8 74.9,253.5 77.9,254.1 80.8,254.4 80.8,256.7 77.9,257.2 74.9,257.0 72.0,256.8 69.0,257.4 66.1,256.8 63.2,256.5 60.2,256.3 57.3,255.2" fill="#141414" opacity="1.0"/>
<polygon points="56.8,275.6 59.9,274.7 63.0,274.7 66.1,274.6 69.2,274.3 72.2,274.5 75.3,274.5 78.4,274.5 81.5,275.7 81.5,278.5 78.4,279.0 75.3,279.1 72.2,279.5 69.2,279.4 66.1,279.5 63.0,279.5 59.9,279.5 56.8,278.2" fill="#101010" opacity="1.0"/>
<polygon points="83.7,221.9 86.5,221.4 89.3,220.8 92.1,221.4 95.0,221.0 97.8,221.4 100.6,221.2 103.4,220.9 106.2,222.7 106.2,225.2 103.4,226.6 100.6,226.5 97.8,226.8 95.0,226.4 92.1,226.6 89.3,226.5 86.5,226.6 83.7,225.7" fill="#2a2a2a" opacity="1.0"/>
<polygon points="83.7,221.8 86.5,221.1 89.3,221.5 92.1,221.3 95.0,221.4 97.8,221.3 100.6,221.2 103.4,221.3 106.2,221.8 106.2,223.4 103.4,223.7 100.6,223.8 97.8,224.1 95.0,223.8 92.1,223.7 89.3,223.9 86.5,223.8 83.7,223.3" fill="#0e0e0e" opacity="1.0"/>
<polygon points="85.2,224.4 87.6,224.0 90.1,224.1 92.5,224.1 95.0,224.0 97.4,224.2 99.8,224.1 102.3,224.2 104.7,224.2 104.7,224.7 102.3,224.9 99.8,224.8 97.4,225.0 95.0,224.7 92.5,224.7 90.1,224.8 87.6,224.8 85.2,224.7" fill="#5a5a5a" opacity="1.0"/>
<polygon points="83.7,230.8 86.5,229.7 89.3,229.9 92.1,229.7 95.0,229.8 97.8,229.8 100.6,230.1 103.4,229.9 106.2,231.0 106.2,233.7 103.4,234.8 100.6,234.8 97.8,234.7 95.0,234.6 92.1,234.8 89.3,234.8 86.5,234.3 83.7,233.4" fill="#0e0e0e" opacity="1.0"/>
<polygon points="84.7,237.9 87.3,237.8 89.8,237.1 92.4,237.4 95.0,237.3 97.5,237.3 100.1,237.4 102.6,237.4 105.2,237.1 105.2,238.5 102.6,238.9 100.1,238.6 97.5,238.8 95.0,239.4 92.4,239.3 89.8,239.1 87.3,239.5 84.7,238.7" fill="#555555" opacity="1.0"/>
<polygon points="83.2,254.0 86.1,253.3 89.1,253.0 92.0,252.9 95.0,253.3 97.9,253.1 100.8,253.0 103.8,253.6 106.7,254.3 106.7,256.5 103.8,257.2 100.8,257.0 97.9,257.2 95.0,256.9 92.0,256.8 89.1,256.9 86.1,256.6 83.2,256.2" fill="#141414" opacity="1.0"/>
<polygon points="82.7,276.1 85.8,274.4 88.9,274.7 92.0,274.5 95.1,274.5 98.1,274.2 101.2,274.4 104.3,274.9 107.4,275.6 107.4,278.3 104.3,278.5 101.2,279.1 98.1,279.3 95.1,279.0 92.0,279.5 88.9,279.8 85.8,279.2 82.7,278.4" fill="#101010" opacity="1.0"/>
<polygon points="111.4,222.7 114.3,221.2 117.2,220.9 120.2,221.0 123.1,221.4 126.0,221.2 129.0,221.2 131.9,221.2 134.8,222.4 134.8,225.4 131.9,226.3 129.0,226.8 126.0,226.4 123.1,226.7 120.2,226.4 117.2,226.6 114.3,226.7 111.4,225.6" fill="#2a2a2a" opacity="1.0"/>
<polygon points="111.4,221.9 114.3,221.1 117.2,221.6 120.2,221.5 123.1,221.2 126.0,221.4 129.0,221.4 131.9,220.9 134.8,221.9 134.8,223.5 131.9,223.9 129.0,224.0 126.0,224.1 123.1,223.9 120.2,223.9 117.2,223.7 114.3,223.9 111.4,223.3" fill="#0e0e0e" opacity="1.0"/>
<polygon points="112.9,224.3 115.5,224.1 118.0,224.0 120.6,224.3 123.1,224.2 125.7,224.2 128.2,224.2 130.8,224.2 133.3,224.3 133.3,224.9 130.8,224.8 128.2,224.8 125.7,224.8 123.1,224.9 120.6,225.0 118.0,224.9 115.5,224.8 112.9,224.7" fill="#5a5a5a" opacity="1.0"/>
<polygon points="111.4,231.0 114.3,229.8 117.2,229.7 120.2,229.6 123.1,229.8 126.0,230.0 129.0,229.7 131.9,229.8 134.8,230.8 134.8,233.5 131.9,234.9 129.0,234.7 126.0,234.4 123.1,234.8 120.2,234.4 117.2,234.5 114.3,234.2 111.4,233.5" fill="#0e0e0e" opacity="1.0"/>
<polygon points="112.4,237.8 115.1,237.5 117.8,237.3 120.4,237.1 123.1,237.3 125.8,237.5 128.5,237.0 131.1,237.0 133.8,237.1 133.8,238.6 131.1,238.9 128.5,239.4 125.8,239.3 123.1,239.0 120.4,239.5 117.8,239.1 115.1,239.1 112.4,239.1" fill="#6a6a6a" opacity="1.0"/>
<polygon points="110.9,254.8 114.0,253.5 117.0,253.2 120.1,253.0 123.1,253.2 126.2,253.5 129.2,253.3 132.2,252.9 135.3,253.7 135.3,256.0 132.2,256.9 129.2,257.1 126.2,257.1 123.1,257.3 120.1,257.3 117.0,257.3 114.0,257.3 110.9,256.4" fill="#141414" opacity="1.0"/>
<polygon points="110.4,275.7 113.6,275.1 116.8,274.6 120.0,274.5 123.2,274.1 126.4,274.6 129.6,274.1 132.8,274.4 136.0,275.8 136.0,278.2 132.8,279.3 129.6,280.0 126.4,279.6 123.2,279.4 120.0,279.4 116.8,279.1 113.6,279.2 110.4,278.5" fill="#101010" opacity="1.0"/>
<polygon points="138.8,222.2 141.6,221.2 144.4,221.2 147.2,220.9 150.0,221.2 152.8,220.9 155.6,221.4 158.4,221.4 161.2,222.7 161.2,225.3 158.4,226.8 155.6,226.3 152.8,226.3 150.0,226.5 147.2,226.5 144.4,226.6 141.6,226.7 138.8,225.3" fill="#2a2a2a" opacity="1.0"/>
<polygon points="138.8,221.9 141.6,221.5 144.4,221.0 147.2,221.2 150.0,221.3 152.8,221.4 155.6,221.2 158.4,221.5 161.2,221.9 161.2,223.3 158.4,224.1 155.6,224.0 152.8,224.1 150.0,223.6 147.2,224.0 144.4,224.0 141.6,223.8 138.8,223.1" fill="#0e0e0e" opacity="1.0"/>
<polygon points="140.3,224.3 142.7,224.0 145.2,224.4 147.6,224.1 150.0,224.3 152.4,224.1 154.8,224.2 157.3,224.0 159.7,224.3 159.7,224.6 157.3,224.8 154.8,224.8 152.4,224.8 150.0,224.7 147.6,224.9 145.2,225.0 142.7,224.7 140.3,224.8" fill="#5a5a5a" opacity="1.0"/>
<polygon points="138.8,230.7 141.6,229.7 144.4,229.6 147.2,229.5 150.0,229.8 152.8,230.0 155.6,229.5 158.4,229.8 161.2,230.7 161.2,233.6 158.4,234.4 155.6,234.5 152.8,234.7 150.0,234.4 147.2,234.9 144.4,234.5 141.6,234.8 138.8,233.3" fill="#0e0e0e" opacity="1.0"/>
<polygon points="139.8,237.9 142.4,237.6 144.9,237.3 147.4,237.1 150.0,237.2 152.6,237.1 155.1,237.2 157.6,236.9 160.2,237.3 160.2,238.3 157.6,238.7 155.1,238.7 152.6,239.3 150.0,239.2 147.4,238.9 144.9,239.1 142.4,239.5 139.8,238.7" fill="#5a5a5a" opacity="1.0"/>
<polygon points="138.3,253.7 141.2,253.6 144.2,253.3 147.1,253.4 150.0,253.8 152.9,253.6 155.8,254.0 158.8,253.9 161.7,254.5 161.7,256.2 158.8,257.3 155.8,256.9 152.9,256.8 150.0,256.7 147.1,256.7 144.2,256.4 141.2,256.7 138.3,255.2" fill="#141414" opacity="1.0"/>
<polygon points="137.8,275.3 140.9,274.5 143.9,274.2 147.0,274.7 150.1,274.7 153.2,274.3 156.2,274.2 159.3,274.7 162.4,275.9 162.4,278.7 159.3,279.0 156.2,279.2 153.2,279.4 150.1,279.3 147.0,279.7 143.9,279.3 140.9,279.4 137.8,277.8" fill="#101010" opacity="1.0"/>
<polygon points="165.0,222.6 168.1,221.1 171.1,221.0 174.2,220.8 177.2,221.1 180.3,221.2 183.4,221.2 186.4,221.2 189.5,222.2 189.5,225.2 186.4,226.5 183.4,226.6 180.3,226.4 177.2,226.6 174.2,227.0 171.1,226.9 168.1,226.6 165.0,225.4" fill="#2a2a2a" opacity="1.0"/>
<polygon points="165.0,221.9 168.1,221.1 171.1,221.4 174.2,221.3 177.2,221.3 180.3,221.3 183.4,221.2 186.4,221.2 189.5,221.8 189.5,223.0 186.4,223.9 183.4,223.8 180.3,223.7 177.2,223.9 174.2,223.7 171.1,223.9 168.1,223.9 165.0,223.2" fill="#0e0e0e" opacity="1.0"/>
<polygon points="166.5,224.3 169.2,224.2 171.9,224.1 174.6,224.1 177.2,224.1 179.9,224.1 182.6,224.1 185.3,224.1 188.0,224.3 188.0,224.7 185.3,224.9 182.6,224.7 179.9,224.9 177.2,224.8 174.6,224.8 171.9,224.9 169.2,224.9 166.5,224.6" fill="#5a5a5a" opacity="1.0"/>
<polygon points="165.0,230.9 168.1,229.9 171.1,229.7 174.2,229.7 177.2,229.9 180.3,229.9 183.4,229.8 186.4,229.5 189.5,231.0 189.5,233.2 186.4,234.7 183.4,234.0 180.3,234.6 177.2,234.8 174.2,234.3 171.1,234.7 168.1,234.8 165.0,233.8" fill="#0e0e0e" opacity="1.0"/>
<polygon points="166.0,237.7 168.8,237.4 171.6,237.6 174.4,237.2 177.2,237.3 180.1,237.5 182.9,237.4 185.7,237.0 188.5,237.3 188.5,238.6 185.7,238.9 182.9,238.9 180.1,239.3 177.2,239.2 174.4,239.4 171.6,239.4 168.8,239.2 166.0,238.8" fill="#505050" opacity="1.0"/>
<polygon points="164.5,254.0 167.7,253.3 170.9,253.1 174.1,253.0 177.2,253.2 180.4,252.9 183.6,252.8 186.8,253.4 190.0,254.2 190.0,256.6 186.8,257.5 183.6,257.3 180.4,256.8 177.2,257.1 174.1,257.1 170.9,257.1 167.7,256.7 164.5,256.3" fill="#141414" opacity="1.0"/>
<polygon points="164.0,275.5 167.3,274.7 170.7,274.7 174.0,273.9 177.3,274.5 180.7,274.6 184.0,274.7 187.4,275.1 190.7,275.9 190.7,278.4 187.4,279.3 184.0,279.9 180.7,279.7 177.3,279.5 174.0,279.4 170.7,279.7 167.3,279.4 164.0,278.4" fill="#101010" opacity="1.0"/>
<polygon points="193.5,222.5 196.5,221.5 199.4,221.2 202.4,221.5 205.3,221.0 208.3,221.2 211.3,221.2 214.2,221.4 217.2,222.6 217.2,225.3 214.2,226.7 211.3,226.7 208.3,226.8 205.3,226.3 202.4,226.5 199.4,226.7 196.5,226.4 193.5,225.1" fill="#2a2a2a" opacity="1.0"/>
<polygon points="193.5,222.0 196.5,221.3 199.4,221.5 202.4,221.2 205.3,221.2 208.3,221.3 211.3,221.2 214.2,221.4 217.2,221.9 217.2,223.6 214.2,224.2 211.3,224.1 208.3,223.8 205.3,223.8 202.4,224.0 199.4,223.8 196.5,223.9 193.5,223.2" fill="#0e0e0e" opacity="1.0"/>
<polygon points="195.0,224.3 197.6,224.2 200.2,224.3 202.8,224.1 205.3,224.1 207.9,224.2 210.5,224.2 213.1,224.1 215.7,224.1 215.7,224.6 213.1,224.9 210.5,224.8 207.9,224.9 205.3,224.9 202.8,224.8 200.2,224.8 197.6,224.9 195.0,224.5" fill="#5a5a5a" opacity="1.0"/>
<polygon points="193.5,230.8 196.5,229.6 199.4,230.0 202.4,229.8 205.3,229.6 208.3,229.7 211.3,229.8 214.2,230.0 217.2,230.5 217.2,233.4 214.2,234.5 211.3,235.1 208.3,234.8 205.3,234.6 202.4,234.8 199.4,235.2 196.5,234.5 193.5,233.3" fill="#0e0e0e" opacity="1.0"/>
<polygon points="194.5,238.2 197.2,237.6 199.9,237.5 202.6,237.2 205.3,237.6 208.1,237.5 210.8,237.2 213.5,237.2 216.2,236.9 216.2,238.4 213.5,238.7 210.8,239.1 208.1,238.8 205.3,239.1 202.6,239.4 199.9,239.4 197.2,239.3 194.5,239.2" fill="#a8a8a8" opacity="1.0"/>
<polygon points="193.0,253.5 196.1,252.7 199.2,252.2 202.3,253.0 205.3,252.9 208.4,253.1 211.5,253.4 214.6,253.1 217.7,253.7 217.7,256.7 214.6,257.7 211.5,257.4 208.4,257.7 205.3,257.2 202.3,257.6 199.2,257.4 196.1,257.0 193.0,256.1" fill="#141414" opacity="1.0"/>
<polygon points="192.5,275.6 195.7,274.7 199.0,274.4 202.2,274.4 205.4,274.1 208.7,274.5 211.9,274.9 215.2,275.2 218.4,275.9 218.4,278.4 215.2,279.2 211.9,279.5 208.7,279.4 205.4,279.5 202.2,279.5 199.0,279.8 195.7,279.1 192.5,278.5" fill="#101010" opacity="1.0"/>
</g>
<line x1="280.40" y1="159.20" x2="280.40" y2="288.40" stroke="#231f20" stroke-width="1.3" />
<line x1="279.80" y1="287.70" x2="501.50" y2="287.70" stroke="#231f20" stroke-width="1.3" />
<line x1="276.00" y1="163.80" x2="280.40" y2="163.80" stroke="#231f20" stroke-width="1.1" />
<text x="273.50" y="166.70" font-size="8.4" text-anchor="end" fill="#231f20" stroke="#231f20" stroke-width="0.13" textLength="19.30" lengthAdjust="spacingAndGlyphs" >5,000</text>
<line x1="276.00" y1="225.75" x2="280.40" y2="225.75" stroke="#231f20" stroke-width="1.1" />
<text x="273.50" y="228.65" font-size="8.4" text-anchor="end" fill="#231f20" stroke="#231f20" stroke-width="0.13" textLength="12.50" lengthAdjust="spacingAndGlyphs" >500</text>
<line x1="276.00" y1="287.70" x2="280.40" y2="287.70" stroke="#231f20" stroke-width="1.1" />
<text x="273.50" y="290.60" font-size="8.4" text-anchor="end" fill="#231f20" stroke="#231f20" stroke-width="0.13" textLength="9.20" lengthAdjust="spacingAndGlyphs" >50</text>
<line x1="277.80" y1="269.05" x2="280.40" y2="269.05" stroke="#231f20" stroke-width="0.8" />
<line x1="277.80" y1="258.14" x2="280.40" y2="258.14" stroke="#231f20" stroke-width="0.8" />
<line x1="277.80" y1="250.40" x2="280.40" y2="250.40" stroke="#231f20" stroke-width="0.8" />
<line x1="277.80" y1="244.40" x2="280.40" y2="244.40" stroke="#231f20" stroke-width="0.8" />
<line x1="277.80" y1="239.49" x2="280.40" y2="239.49" stroke="#231f20" stroke-width="0.8" />
<line x1="277.80" y1="235.35" x2="280.40" y2="235.35" stroke="#231f20" stroke-width="0.8" />
<line x1="277.80" y1="231.75" x2="280.40" y2="231.75" stroke="#231f20" stroke-width="0.8" />
<line x1="277.80" y1="228.58" x2="280.40" y2="228.58" stroke="#231f20" stroke-width="0.8" />
<line x1="277.80" y1="207.10" x2="280.40" y2="207.10" stroke="#231f20" stroke-width="0.8" />
<line x1="277.80" y1="196.19" x2="280.40" y2="196.19" stroke="#231f20" stroke-width="0.8" />
<line x1="277.80" y1="188.45" x2="280.40" y2="188.45" stroke="#231f20" stroke-width="0.8" />
<line x1="277.80" y1="182.45" x2="280.40" y2="182.45" stroke="#231f20" stroke-width="0.8" />
<line x1="277.80" y1="177.54" x2="280.40" y2="177.54" stroke="#231f20" stroke-width="0.8" />
<line x1="277.80" y1="173.40" x2="280.40" y2="173.40" stroke="#231f20" stroke-width="0.8" />
<line x1="277.80" y1="169.80" x2="280.40" y2="169.80" stroke="#231f20" stroke-width="0.8" />
<line x1="277.80" y1="166.63" x2="280.40" y2="166.63" stroke="#231f20" stroke-width="0.8" />
<line x1="277.80" y1="158.89" x2="280.40" y2="158.89" stroke="#231f20" stroke-width="0.8" />
<line x1="280.40" y1="287.70" x2="280.40" y2="290.70" stroke="#231f20" stroke-width="1.1" />
<text x="280.40" y="302.10" font-size="8.4" text-anchor="middle" fill="#231f20" stroke="#231f20" stroke-width="0.13" textLength="4.20" lengthAdjust="spacingAndGlyphs" >0</text>
<line x1="302.16" y1="287.70" x2="302.16" y2="290.70" stroke="#231f20" stroke-width="1.1" />
<text x="302.16" y="302.10" font-size="8.4" text-anchor="middle" fill="#231f20" stroke="#231f20" stroke-width="0.13" textLength="9.50" lengthAdjust="spacingAndGlyphs" >60</text>
<line x1="323.92" y1="287.70" x2="323.92" y2="290.70" stroke="#231f20" stroke-width="1.1" />
<text x="323.92" y="302.10" font-size="8.4" text-anchor="middle" fill="#231f20" stroke="#231f20" stroke-width="0.13" textLength="12.90" lengthAdjust="spacingAndGlyphs" >120</text>
<line x1="345.68" y1="287.70" x2="345.68" y2="290.70" stroke="#231f20" stroke-width="1.1" />
<text x="345.68" y="302.10" font-size="8.4" text-anchor="middle" fill="#231f20" stroke="#231f20" stroke-width="0.13" textLength="12.90" lengthAdjust="spacingAndGlyphs" >180</text>
<line x1="367.44" y1="287.70" x2="367.44" y2="290.70" stroke="#231f20" stroke-width="1.1" />
<text x="367.44" y="302.10" font-size="8.4" text-anchor="middle" fill="#231f20" stroke="#231f20" stroke-width="0.13" textLength="12.90" lengthAdjust="spacingAndGlyphs" >240</text>
<line x1="389.20" y1="287.70" x2="389.20" y2="290.70" stroke="#231f20" stroke-width="1.1" />
<text x="389.20" y="302.10" font-size="8.4" text-anchor="middle" fill="#231f20" stroke="#231f20" stroke-width="0.13" textLength="12.90" lengthAdjust="spacingAndGlyphs" >300</text>
<line x1="410.96" y1="287.70" x2="410.96" y2="290.70" stroke="#231f20" stroke-width="1.1" />
<text x="410.96" y="302.10" font-size="8.4" text-anchor="middle" fill="#231f20" stroke="#231f20" stroke-width="0.13" textLength="12.90" lengthAdjust="spacingAndGlyphs" >360</text>
<line x1="432.72" y1="287.70" x2="432.72" y2="290.70" stroke="#231f20" stroke-width="1.1" />
<text x="432.72" y="302.10" font-size="8.4" text-anchor="middle" fill="#231f20" stroke="#231f20" stroke-width="0.13" textLength="12.90" lengthAdjust="spacingAndGlyphs" >420</text>
<line x1="454.48" y1="287.70" x2="454.48" y2="290.70" stroke="#231f20" stroke-width="1.1" />
<text x="454.48" y="302.10" font-size="8.4" text-anchor="middle" fill="#231f20" stroke="#231f20" stroke-width="0.13" textLength="12.90" lengthAdjust="spacingAndGlyphs" >480</text>
<line x1="476.24" y1="287.70" x2="476.24" y2="290.70" stroke="#231f20" stroke-width="1.1" />
<text x="476.24" y="302.10" font-size="8.4" text-anchor="middle" fill="#231f20" stroke="#231f20" stroke-width="0.13" textLength="12.90" lengthAdjust="spacingAndGlyphs" >540</text>
<line x1="498.00" y1="287.70" x2="498.00" y2="290.70" stroke="#231f20" stroke-width="1.1" />
<text x="498.00" y="302.10" font-size="8.4" text-anchor="middle" fill="#231f20" stroke="#231f20" stroke-width="0.13" textLength="12.90" lengthAdjust="spacingAndGlyphs" >600</text>
<text x="390.20" y="315.40" font-size="9.3" text-anchor="middle" fill="#231f20" stroke="#231f20" stroke-width="0.13" textLength="42.10" lengthAdjust="spacingAndGlyphs" >Time (sec)</text>
<g transform="translate(245.9,271.5) rotate(-90)">
<text x="0.00" y="0.00" font-size="9.2" text-anchor="start" fill="#231f20" stroke="#231f20" stroke-width="0.13" textLength="95.40" lengthAdjust="spacingAndGlyphs" >JonA/PE binding (MFI)</text>
</g>
<line x1="291.00" y1="292.50" x2="291.00" y2="304.60" stroke="#231f20" stroke-width="1.1" />
<path d="M288.7,294.5 L291,289.8 L293.3,294.5 Z" fill="#231f20"/>
<text x="271.30" y="313.30" font-size="8.4" text-anchor="start" fill="#231f20" stroke="#231f20" stroke-width="0.13" textLength="37.50" lengthAdjust="spacingAndGlyphs" >+ PAR4-AP</text>
<polyline points="293.6,247.2 294.1,245.8 294.6,247.6 295.1,243.3 295.6,241.9 296.1,241.8 296.6,241.0 297.1,237.7 297.6,238.1 298.1,238.8 298.6,237.2 299.1,236.3 299.6,237.5 300.1,233.9 300.6,234.4 301.1,233.1 301.6,235.3 302.1,230.4 302.6,231.7 303.1,231.5 303.6,232.8 304.1,232.4 304.6,233.1 305.1,229.0 305.6,231.7 306.1,230.1 306.6,229.4 307.1,230.7 307.6,228.5 308.1,226.8 308.6,228.7 309.1,227.0 309.6,227.8 310.1,228.9 310.6,228.5 311.1,229.9 311.6,227.4 312.1,225.4 312.6,226.1 313.1,225.7 313.6,225.0 314.1,226.9 314.6,225.3 315.1,223.3 315.6,226.5 316.1,225.2 316.6,225.6 317.1,225.0 317.6,225.4 318.1,224.4 318.6,225.6 319.1,224.3 319.6,224.0 320.1,223.7 320.6,221.0 321.1,222.4 321.6,222.1 322.1,222.4 322.6,220.1 323.1,223.8 323.6,221.5 324.1,219.6 324.6,218.7 325.1,220.4 325.6,220.4 326.1,219.4 326.6,220.3 327.1,219.1 327.6,220.5 328.1,218.6 328.6,219.3 329.1,220.5 329.6,222.3 330.1,217.5 330.6,218.1 331.1,217.4 331.6,219.3 332.1,216.7 332.6,217.4 333.1,217.8 333.6,216.4 334.1,216.3 334.6,216.8 335.1,214.5 335.6,215.3 336.1,216.5 336.6,217.1 337.1,216.5 337.6,214.4 338.1,216.0 338.6,217.5 339.1,217.1 339.6,216.2 340.1,215.0 340.6,216.9 341.1,215.2 341.6,214.4 342.1,214.7 342.6,217.6 343.1,215.9 343.6,217.0 344.1,214.8 344.6,216.6 345.1,214.5 345.6,215.0 346.1,218.3 346.6,216.0 347.1,214.3 347.6,214.8 348.1,215.2 348.6,216.3 349.1,214.0 349.6,212.3 350.1,214.1 350.6,214.4 351.1,214.4 351.6,215.9 352.1,214.5 352.6,215.1 353.1,212.5 353.6,214.9 354.1,216.4 354.6,214.6 355.1,213.8 355.6,213.6 356.1,215.6 356.6,212.0 357.1,213.0 357.6,213.6 358.1,213.9 358.6,212.3 359.1,213.1 359.6,212.3 360.1,212.7 360.6,212.3 361.1,210.9 361.6,212.3 362.1,213.3 362.6,210.8 363.1,211.7 363.6,212.8 364.1,210.5 364.6,212.0 365.1,210.3 365.6,213.1 366.1,214.6 366.6,214.2 367.1,211.2 367.6,212.4 368.1,211.5 368.6,211.4 369.1,213.3 369.6,209.5 370.1,212.5 370.6,211.0 371.1,212.9 371.6,211.2 372.1,210.1 372.6,211.3 373.1,211.8 373.6,210.8 374.1,211.4 374.6,210.0 375.1,207.9 375.6,211.8 376.1,211.5 376.6,210.7 377.1,210.5 377.6,211.8 378.1,209.8 378.6,209.4 379.1,210.0 379.6,211.8 380.1,208.4 380.6,211.7 381.1,209.3 381.6,208.6 382.1,211.6 382.6,209.8 383.1,208.2 383.6,209.4 384.1,211.1 384.6,211.4 385.1,209.2 385.6,210.3 386.1,210.6 386.6,208.8 387.1,210.1 387.6,209.6 388.1,208.9 388.6,208.9 389.1,209.6 389.6,209.5 390.1,208.7 390.6,208.9 391.1,210.8 391.6,209.6 392.1,210.5 392.6,210.9 393.1,210.0 393.6,212.2 394.1,208.1 394.6,210.2 395.1,208.8 395.6,211.6 396.1,211.3 396.6,206.6 397.1,207.8 397.6,209.9 398.1,210.1 398.6,210.0 399.1,208.9 399.6,209.6 400.1,209.8 400.6,208.9 401.1,210.3 401.6,206.0 402.1,209.8 402.6,207.6 403.1,210.2 403.6,208.6 404.1,207.7 404.6,209.4 405.1,207.7 405.6,207.7 406.1,206.8 406.6,208.8 407.1,209.5 407.6,210.1 408.1,208.6 408.6,210.1 409.1,208.8 409.6,208.6 410.1,209.5 410.6,210.1 411.1,208.3 411.6,208.4 412.1,208.5 412.6,208.8 413.1,207.5 413.6,210.0 414.1,208.1 414.6,209.3 415.1,207.6 415.6,209.1 416.1,209.1 416.6,208.1 417.1,211.2 417.6,209.1 418.1,210.9 418.6,209.8 419.1,207.7 419.6,208.1 420.1,209.1 420.6,208.6 421.1,208.6 421.6,208.2 422.1,206.2 422.6,208.2 423.1,205.7 423.6,209.0 424.1,207.6 424.6,207.6 425.1,208.2 425.6,208.9 426.1,206.6 426.6,206.2 427.1,207.1 427.6,205.9 428.1,207.2 428.6,210.6 429.1,207.1 429.6,209.3 430.1,206.7 430.6,208.9 431.1,208.1 431.6,208.4 432.1,209.2 432.6,210.8 433.1,208.8 433.6,208.7 434.1,207.2 434.6,209.3 435.1,208.2 435.6,209.6 436.1,208.4 436.6,210.8 437.1,205.9 437.6,208.1 438.1,209.6 438.6,208.0 439.1,207.5 439.6,208.2 440.1,206.7 440.6,208.7 441.1,211.7 441.6,210.0 442.1,207.1 442.6,207.4 443.1,208.0 443.6,209.8 444.1,207.4 444.6,207.6 445.1,209.7 445.6,209.6 446.1,208.0 446.6,207.1 447.1,206.5 447.6,207.6 448.1,205.6 448.6,209.5 449.1,207.7 449.6,209.2 450.1,211.0 450.6,210.1 451.1,207.0 451.6,209.7 452.1,210.0 452.6,207.6 453.1,207.3 453.6,208.4 454.1,206.5 454.6,210.5 455.1,205.4 455.6,207.1 456.1,208.2 456.6,208.3 457.1,208.8 457.6,208.9 458.1,208.3 458.6,210.0 459.1,205.8 459.6,208.6 460.1,207.7 460.6,208.8 461.1,208.9 461.6,207.4 462.1,207.8 462.6,209.6 463.1,209.1 463.6,207.7 464.1,211.3 464.6,211.6 465.1,206.7 465.6,209.0 466.1,211.9 466.6,209.7 467.1,208.9 467.6,208.4 468.1,207.9 468.6,208.4 469.1,207.9 469.6,209.6 470.1,208.2 470.6,208.1 471.1,207.1 471.6,208.6 472.1,207.5 472.6,208.5 473.1,210.1 473.6,209.2 474.1,209.4 474.6,209.2 475.1,208.8 475.6,208.6 476.1,208.4 476.6,209.8 477.1,207.4 477.6,210.5 478.1,208.8 478.6,207.8 479.1,208.2 479.6,207.9 480.1,209.0 480.6,207.9 481.1,210.3 481.6,207.8 482.1,205.9 482.6,207.9 483.1,206.3 483.6,208.8 484.1,210.3 484.6,209.7 485.1,207.2 485.6,207.9 486.1,211.2 486.6,209.4 487.1,209.0 487.6,210.3 488.1,212.2 488.6,210.7 489.1,209.2 489.6,209.5 490.1,209.8 490.6,208.2 491.1,207.7 491.6,209.1 492.1,207.8 492.6,209.0 493.1,209.2 493.6,212.2 494.1,208.0 494.6,209.0 495.1,208.9 495.6,209.7 496.1,210.5" fill="none" stroke="#3e56a8" stroke-width="0.9" opacity="0.8"/>
<polyline points="293.6,247.8 294.1,244.9 294.6,242.0 295.1,241.9 295.6,243.1 296.1,241.2 296.6,238.5 297.1,238.6 297.6,238.4 298.1,238.4 298.6,235.9 299.1,235.7 299.6,232.5 300.1,233.0 300.6,236.9 301.1,230.3 301.6,232.8 302.1,233.3 302.6,232.0 303.1,230.9 303.6,231.8 304.1,231.6 304.6,231.2 305.1,228.0 305.6,230.5 306.1,229.1 306.6,229.4 307.1,230.4 307.6,230.8 308.1,230.9 308.6,228.4 309.1,230.4 309.6,230.6 310.1,230.2 310.6,230.4 311.1,227.6 311.6,227.3 312.1,228.7 312.6,224.9 313.1,227.2 313.6,225.8 314.1,225.8 314.6,223.3 315.1,224.4 315.6,225.6 316.1,226.8 316.6,226.7 317.1,224.7 317.6,224.3 318.1,223.0 318.6,224.7 319.1,223.4 319.6,224.5 320.1,226.0 320.6,222.9 321.1,220.3 321.6,221.0 322.1,219.8 322.6,220.0 323.1,223.7 323.6,221.8 324.1,218.7 324.6,222.0 325.1,222.8 325.6,220.0 326.1,219.3 326.6,219.6 327.1,220.4 327.6,220.8 328.1,221.5 328.6,221.3 329.1,221.1 329.6,221.2 330.1,219.9 330.6,216.2 331.1,218.3 331.6,218.8 332.1,217.5 332.6,219.5 333.1,217.3 333.6,216.2 334.1,219.9 334.6,218.5 335.1,217.6 335.6,218.6 336.1,218.7 336.6,217.5 337.1,212.9 337.6,215.6 338.1,215.8 338.6,214.9 339.1,216.7 339.6,218.2 340.1,215.4 340.6,214.2 341.1,219.2 341.6,215.2 342.1,213.8 342.6,216.1 343.1,216.3 343.6,214.4 344.1,216.7 344.6,214.6 345.1,213.8 345.6,215.5 346.1,216.3 346.6,214.0 347.1,215.5 347.6,214.7 348.1,219.3 348.6,213.6 349.1,216.8 349.6,214.4 350.1,214.2 350.6,215.5 351.1,215.7 351.6,216.2 352.1,214.6 352.6,213.0 353.1,213.0 353.6,214.6 354.1,214.6 354.6,215.9 355.1,214.2 355.6,215.1 356.1,215.7 356.6,213.5 357.1,210.7 357.6,211.1 358.1,210.6 358.6,215.4 359.1,211.4 359.6,214.6 360.1,213.5 360.6,215.2 361.1,214.0 361.6,212.1 362.1,211.9 362.6,212.2 363.1,212.3 363.6,211.1 364.1,211.8 364.6,214.4 365.1,209.0 365.6,212.1 366.1,210.1 366.6,211.8 367.1,212.8 367.6,211.3 368.1,212.6 368.6,208.8 369.1,213.0 369.6,210.2 370.1,212.1 370.6,211.4 371.1,206.9 371.6,209.8 372.1,211.3 372.6,213.4 373.1,211.3 373.6,211.2 374.1,208.5 374.6,213.0 375.1,213.5 375.6,210.6 376.1,210.2 376.6,207.9 377.1,211.9 377.6,214.7 378.1,211.5 378.6,212.3 379.1,211.1 379.6,208.6 380.1,212.3 380.6,208.2 381.1,209.8 381.6,210.5 382.1,211.4 382.6,210.6 383.1,210.5 383.6,208.7 384.1,207.8 384.6,209.9 385.1,208.6 385.6,207.6 386.1,207.7 386.6,208.9 387.1,206.7 387.6,207.4 388.1,206.9 388.6,209.8 389.1,210.2 389.6,212.7 390.1,207.0 390.6,208.3 391.1,210.8 391.6,209.0 392.1,208.8 392.6,212.0 393.1,208.7 393.6,207.4 394.1,207.1 394.6,209.7 395.1,209.7 395.6,207.0 396.1,207.6 396.6,210.0 397.1,210.0 397.6,208.0 398.1,210.1 398.6,210.0 399.1,206.2 399.6,208.5 400.1,209.7 400.6,208.1 401.1,205.5 401.6,208.5 402.1,210.1 402.6,211.5 403.1,205.4 403.6,213.1 404.1,207.1 404.6,210.4 405.1,210.8 405.6,210.4 406.1,209.1 406.6,207.0 407.1,209.8 407.6,207.7 408.1,204.8 408.6,213.3 409.1,209.9 409.6,211.7 410.1,207.3 410.6,211.1 411.1,211.3 411.6,211.2 412.1,208.7 412.6,206.8 413.1,208.4 413.6,205.2 414.1,205.9 414.6,208.8 415.1,207.1 415.6,208.4 416.1,208.5 416.6,211.7 417.1,210.7 417.6,208.5 418.1,210.5 418.6,207.3 419.1,208.0 419.6,210.0 420.1,206.6 420.6,208.1 421.1,206.4 421.6,208.7 422.1,211.2 422.6,207.3 423.1,208.9 423.6,207.1 424.1,206.7 424.6,206.5 425.1,210.8 425.6,212.3 426.1,209.3 426.6,207.4 427.1,209.6 427.6,208.0 428.1,209.8 428.6,209.0 429.1,208.9 429.6,209.5 430.1,207.6 430.6,207.9 431.1,205.7 431.6,207.8 432.1,206.2 432.6,208.3 433.1,207.0 433.6,208.7 434.1,209.2 434.6,206.2 435.1,207.2 435.6,207.0 436.1,209.7 436.6,211.2 437.1,209.9 437.6,207.9 438.1,210.8 438.6,206.1 439.1,210.9 439.6,207.5 440.1,204.1 440.6,212.7 441.1,211.0 441.6,206.9 442.1,208.8 442.6,208.2 443.1,208.7 443.6,206.1 444.1,207.4 444.6,209.3 445.1,208.9 445.6,210.4 446.1,208.6 446.6,212.3 447.1,207.4 447.6,208.9 448.1,205.5 448.6,206.5 449.1,210.7 449.6,207.0 450.1,209.4 450.6,208.4 451.1,206.9 451.6,208.0 452.1,207.7 452.6,207.8 453.1,209.7 453.6,209.6 454.1,207.6 454.6,207.1 455.1,209.0 455.6,208.4 456.1,210.2 456.6,212.8 457.1,209.9 457.6,208.5 458.1,208.3 458.6,207.2 459.1,207.1 459.6,207.0 460.1,207.9 460.6,207.9 461.1,209.8 461.6,208.0 462.1,208.3 462.6,206.7 463.1,211.2 463.6,209.4 464.1,211.5 464.6,209.9 465.1,211.0 465.6,208.2 466.1,209.8 466.6,213.0 467.1,206.7 467.6,210.5 468.1,211.4 468.6,209.3 469.1,209.9 469.6,210.7 470.1,207.6 470.6,209.3 471.1,207.3 471.6,207.6 472.1,207.7 472.6,208.5 473.1,209.0 473.6,209.5 474.1,206.4 474.6,212.0 475.1,210.6 475.6,209.9 476.1,208.2 476.6,208.6 477.1,209.7 477.6,209.5 478.1,206.0 478.6,210.0 479.1,213.6 479.6,205.8 480.1,210.5 480.6,209.4 481.1,208.7 481.6,211.1 482.1,206.9 482.6,209.1 483.1,211.3 483.6,208.6 484.1,208.2 484.6,209.1 485.1,208.2 485.6,211.5 486.1,207.4 486.6,210.4 487.1,206.9 487.6,210.1 488.1,208.8 488.6,204.7 489.1,209.0 489.6,207.3 490.1,208.3 490.6,211.6 491.1,207.2 491.6,207.3 492.1,211.4 492.6,209.3 493.1,211.6 493.6,209.7 494.1,207.7 494.6,209.0 495.1,211.2 495.6,210.7 496.1,209.2" fill="none" stroke="#3e56a8" stroke-width="0.8" opacity="0.6"/>
<path d="M448.5,204.5h1.1v1.1h-1.1zM398.8,207.8h1.1v1.1h-1.1zM328.3,215.6h1.1v1.1h-1.1zM339.3,216.4h1.1v1.1h-1.1zM372.0,211.0h1.1v1.1h-1.1zM362.4,209.0h1.1v1.1h-1.1zM308.2,230.7h1.1v1.1h-1.1zM377.5,212.1h1.1v1.1h-1.1zM386.0,209.9h1.1v1.1h-1.1zM353.6,217.0h1.1v1.1h-1.1zM373.1,214.4h1.1v1.1h-1.1zM362.6,209.8h1.1v1.1h-1.1zM371.6,213.0h1.1v1.1h-1.1zM420.1,209.4h1.1v1.1h-1.1zM395.7,209.9h1.1v1.1h-1.1zM335.6,218.9h1.1v1.1h-1.1zM455.4,207.2h1.1v1.1h-1.1zM398.9,207.9h1.1v1.1h-1.1zM387.9,208.0h1.1v1.1h-1.1zM439.0,207.1h1.1v1.1h-1.1zM446.8,208.3h1.1v1.1h-1.1zM466.2,205.9h1.1v1.1h-1.1zM458.7,206.6h1.1v1.1h-1.1zM430.1,209.6h1.1v1.1h-1.1zM440.6,208.4h1.1v1.1h-1.1zM327.5,220.5h1.1v1.1h-1.1zM436.2,204.9h1.1v1.1h-1.1zM347.0,213.5h1.1v1.1h-1.1zM347.7,213.8h1.1v1.1h-1.1zM320.1,223.3h1.1v1.1h-1.1zM375.6,209.5h1.1v1.1h-1.1zM300.0,236.7h1.1v1.1h-1.1zM427.7,208.4h1.1v1.1h-1.1zM446.0,208.5h1.1v1.1h-1.1zM451.5,208.6h1.1v1.1h-1.1zM321.8,223.6h1.1v1.1h-1.1zM424.5,207.6h1.1v1.1h-1.1zM464.1,210.7h1.1v1.1h-1.1zM303.2,233.0h1.1v1.1h-1.1zM334.8,217.7h1.1v1.1h-1.1zM349.7,214.6h1.1v1.1h-1.1zM388.6,210.5h1.1v1.1h-1.1zM330.5,220.6h1.1v1.1h-1.1zM404.0,210.7h1.1v1.1h-1.1zM365.0,212.5h1.1v1.1h-1.1zM427.3,210.2h1.1v1.1h-1.1zM402.5,209.2h1.1v1.1h-1.1zM433.6,210.9h1.1v1.1h-1.1zM345.4,215.2h1.1v1.1h-1.1zM437.8,204.6h1.1v1.1h-1.1zM443.3,211.1h1.1v1.1h-1.1zM440.8,208.7h1.1v1.1h-1.1zM309.7,226.4h1.1v1.1h-1.1zM485.7,208.6h1.1v1.1h-1.1zM411.7,207.0h1.1v1.1h-1.1zM350.6,218.3h1.1v1.1h-1.1zM383.0,210.9h1.1v1.1h-1.1zM399.8,206.0h1.1v1.1h-1.1zM399.8,210.0h1.1v1.1h-1.1zM345.7,214.4h1.1v1.1h-1.1zM349.1,218.3h1.1v1.1h-1.1zM368.9,209.3h1.1v1.1h-1.1zM452.6,204.3h1.1v1.1h-1.1zM383.7,210.0h1.1v1.1h-1.1zM303.7,231.1h1.1v1.1h-1.1zM386.7,208.9h1.1v1.1h-1.1zM336.4,212.9h1.1v1.1h-1.1zM298.5,237.8h1.1v1.1h-1.1zM491.9,212.3h1.1v1.1h-1.1zM354.9,209.9h1.1v1.1h-1.1zM403.8,211.1h1.1v1.1h-1.1zM367.8,210.3h1.1v1.1h-1.1zM306.7,234.7h1.1v1.1h-1.1zM476.6,209.6h1.1v1.1h-1.1zM483.6,208.5h1.1v1.1h-1.1zM333.4,219.9h1.1v1.1h-1.1zM379.8,211.2h1.1v1.1h-1.1zM370.9,209.9h1.1v1.1h-1.1zM329.5,220.4h1.1v1.1h-1.1zM428.7,207.5h1.1v1.1h-1.1zM452.8,205.1h1.1v1.1h-1.1zM448.3,212.4h1.1v1.1h-1.1zM431.4,207.8h1.1v1.1h-1.1zM299.5,234.4h1.1v1.1h-1.1zM342.0,216.4h1.1v1.1h-1.1zM399.2,206.1h1.1v1.1h-1.1zM436.9,205.9h1.1v1.1h-1.1zM373.5,209.9h1.1v1.1h-1.1zM386.1,208.7h1.1v1.1h-1.1zM464.6,208.8h1.1v1.1h-1.1zM300.7,236.3h1.1v1.1h-1.1zM349.9,213.6h1.1v1.1h-1.1zM354.1,214.6h1.1v1.1h-1.1zM495.1,210.3h1.1v1.1h-1.1zM341.6,213.8h1.1v1.1h-1.1zM305.4,231.3h1.1v1.1h-1.1zM379.5,208.4h1.1v1.1h-1.1zM426.2,210.5h1.1v1.1h-1.1zM326.8,220.9h1.1v1.1h-1.1zM464.4,208.6h1.1v1.1h-1.1zM335.4,214.7h1.1v1.1h-1.1zM437.2,208.7h1.1v1.1h-1.1zM328.4,218.0h1.1v1.1h-1.1zM472.8,210.1h1.1v1.1h-1.1zM336.4,216.7h1.1v1.1h-1.1zM442.6,207.0h1.1v1.1h-1.1zM464.2,210.4h1.1v1.1h-1.1zM347.1,216.3h1.1v1.1h-1.1zM314.6,225.0h1.1v1.1h-1.1zM413.5,210.9h1.1v1.1h-1.1zM396.1,208.6h1.1v1.1h-1.1zM392.1,208.7h1.1v1.1h-1.1zM452.7,208.8h1.1v1.1h-1.1zM388.9,208.1h1.1v1.1h-1.1zM395.7,208.3h1.1v1.1h-1.1zM393.7,208.9h1.1v1.1h-1.1zM387.1,212.5h1.1v1.1h-1.1zM377.3,213.3h1.1v1.1h-1.1zM328.3,219.0h1.1v1.1h-1.1zM355.2,216.6h1.1v1.1h-1.1zM349.1,214.5h1.1v1.1h-1.1zM345.8,215.9h1.1v1.1h-1.1zM453.0,210.2h1.1v1.1h-1.1zM318.9,224.4h1.1v1.1h-1.1zM337.2,221.4h1.1v1.1h-1.1zM401.5,209.4h1.1v1.1h-1.1zM358.7,210.5h1.1v1.1h-1.1zM344.2,217.9h1.1v1.1h-1.1zM370.9,210.3h1.1v1.1h-1.1zM396.7,208.5h1.1v1.1h-1.1zM431.2,202.8h1.1v1.1h-1.1zM490.9,211.0h1.1v1.1h-1.1zM467.0,210.2h1.1v1.1h-1.1zM382.2,211.5h1.1v1.1h-1.1zM386.6,211.5h1.1v1.1h-1.1zM379.4,213.5h1.1v1.1h-1.1zM343.9,215.4h1.1v1.1h-1.1zM486.8,210.7h1.1v1.1h-1.1zM309.8,227.2h1.1v1.1h-1.1zM337.1,216.1h1.1v1.1h-1.1zM428.7,210.5h1.1v1.1h-1.1zM414.2,209.4h1.1v1.1h-1.1zM351.9,211.6h1.1v1.1h-1.1zM483.9,209.6h1.1v1.1h-1.1zM378.1,210.0h1.1v1.1h-1.1zM415.5,207.1h1.1v1.1h-1.1zM314.3,227.1h1.1v1.1h-1.1zM474.6,208.0h1.1v1.1h-1.1zM316.7,222.1h1.1v1.1h-1.1zM375.0,208.5h1.1v1.1h-1.1zM473.6,212.1h1.1v1.1h-1.1zM485.5,206.0h1.1v1.1h-1.1zM477.2,209.2h1.1v1.1h-1.1zM461.9,209.8h1.1v1.1h-1.1zM342.8,216.9h1.1v1.1h-1.1zM302.4,230.4h1.1v1.1h-1.1zM386.6,209.1h1.1v1.1h-1.1zM308.7,229.4h1.1v1.1h-1.1zM488.6,210.5h1.1v1.1h-1.1zM297.6,237.0h1.1v1.1h-1.1zM361.3,210.1h1.1v1.1h-1.1zM336.8,218.8h1.1v1.1h-1.1zM298.7,238.7h1.1v1.1h-1.1zM396.1,209.8h1.1v1.1h-1.1zM311.2,226.6h1.1v1.1h-1.1zM476.4,209.5h1.1v1.1h-1.1zM433.9,208.7h1.1v1.1h-1.1zM370.2,212.7h1.1v1.1h-1.1zM464.7,206.2h1.1v1.1h-1.1zM455.8,208.8h1.1v1.1h-1.1zM361.5,212.0h1.1v1.1h-1.1zM465.9,206.5h1.1v1.1h-1.1zM482.3,209.3h1.1v1.1h-1.1zM420.3,208.6h1.1v1.1h-1.1zM366.5,210.8h1.1v1.1h-1.1zM476.6,209.5h1.1v1.1h-1.1zM485.0,206.2h1.1v1.1h-1.1zM365.6,211.6h1.1v1.1h-1.1zM313.3,227.6h1.1v1.1h-1.1zM470.0,209.2h1.1v1.1h-1.1zM429.3,210.5h1.1v1.1h-1.1zM342.5,213.4h1.1v1.1h-1.1zM409.7,205.9h1.1v1.1h-1.1zM357.8,213.4h1.1v1.1h-1.1zM480.3,209.7h1.1v1.1h-1.1zM364.6,215.8h1.1v1.1h-1.1zM335.3,218.4h1.1v1.1h-1.1zM304.7,229.6h1.1v1.1h-1.1zM364.7,213.3h1.1v1.1h-1.1zM494.4,207.5h1.1v1.1h-1.1zM339.8,213.4h1.1v1.1h-1.1zM387.8,214.5h1.1v1.1h-1.1zM490.9,209.7h1.1v1.1h-1.1zM297.3,240.1h1.1v1.1h-1.1zM355.2,214.6h1.1v1.1h-1.1zM460.6,212.0h1.1v1.1h-1.1zM315.2,226.4h1.1v1.1h-1.1zM482.1,211.2h1.1v1.1h-1.1zM463.3,206.7h1.1v1.1h-1.1zM324.7,218.3h1.1v1.1h-1.1zM414.8,211.4h1.1v1.1h-1.1zM407.4,211.6h1.1v1.1h-1.1zM435.1,209.5h1.1v1.1h-1.1zM357.5,213.5h1.1v1.1h-1.1zM373.0,211.2h1.1v1.1h-1.1zM344.3,214.1h1.1v1.1h-1.1zM354.5,216.6h1.1v1.1h-1.1zM331.2,219.7h1.1v1.1h-1.1zM477.3,209.7h1.1v1.1h-1.1zM473.9,209.4h1.1v1.1h-1.1zM368.2,213.3h1.1v1.1h-1.1zM435.0,209.5h1.1v1.1h-1.1zM394.3,210.6h1.1v1.1h-1.1zM352.3,211.8h1.1v1.1h-1.1zM366.1,212.6h1.1v1.1h-1.1zM489.5,213.2h1.1v1.1h-1.1zM364.5,210.8h1.1v1.1h-1.1zM412.0,208.5h1.1v1.1h-1.1zM485.5,210.6h1.1v1.1h-1.1zM355.7,215.2h1.1v1.1h-1.1zM458.2,209.8h1.1v1.1h-1.1zM318.9,220.8h1.1v1.1h-1.1zM443.0,209.5h1.1v1.1h-1.1zM457.7,206.3h1.1v1.1h-1.1zM463.9,207.0h1.1v1.1h-1.1zM491.5,210.1h1.1v1.1h-1.1zM438.5,207.9h1.1v1.1h-1.1zM491.9,210.6h1.1v1.1h-1.1zM351.8,220.1h1.1v1.1h-1.1zM400.6,210.5h1.1v1.1h-1.1zM338.9,217.8h1.1v1.1h-1.1zM312.7,225.3h1.1v1.1h-1.1zM384.0,208.6h1.1v1.1h-1.1zM440.3,206.5h1.1v1.1h-1.1zM452.1,207.5h1.1v1.1h-1.1zM299.4,233.6h1.1v1.1h-1.1zM484.9,207.7h1.1v1.1h-1.1zM345.6,214.8h1.1v1.1h-1.1zM354.6,211.7h1.1v1.1h-1.1zM462.9,205.9h1.1v1.1h-1.1zM475.3,206.2h1.1v1.1h-1.1zM443.7,209.4h1.1v1.1h-1.1zM362.7,212.2h1.1v1.1h-1.1zM388.8,211.5h1.1v1.1h-1.1zM463.3,210.6h1.1v1.1h-1.1zM367.6,210.8h1.1v1.1h-1.1zM457.5,209.8h1.1v1.1h-1.1zM452.8,205.8h1.1v1.1h-1.1zM390.0,213.8h1.1v1.1h-1.1zM475.8,211.0h1.1v1.1h-1.1zM373.1,210.4h1.1v1.1h-1.1zM446.4,206.3h1.1v1.1h-1.1zM424.3,209.2h1.1v1.1h-1.1zM362.4,208.6h1.1v1.1h-1.1zM402.6,207.4h1.1v1.1h-1.1zM417.5,210.0h1.1v1.1h-1.1zM403.6,209.0h1.1v1.1h-1.1zM318.2,223.3h1.1v1.1h-1.1zM494.8,211.0h1.1v1.1h-1.1zM489.8,207.0h1.1v1.1h-1.1zM303.5,232.5h1.1v1.1h-1.1zM485.3,208.0h1.1v1.1h-1.1zM402.6,207.3h1.1v1.1h-1.1zM321.2,223.5h1.1v1.1h-1.1zM460.5,206.7h1.1v1.1h-1.1zM382.8,213.6h1.1v1.1h-1.1zM439.0,207.4h1.1v1.1h-1.1zM461.9,212.4h1.1v1.1h-1.1zM403.9,206.8h1.1v1.1h-1.1zM306.0,231.7h1.1v1.1h-1.1zM460.9,206.3h1.1v1.1h-1.1zM435.2,206.0h1.1v1.1h-1.1zM478.5,209.1h1.1v1.1h-1.1zM350.2,215.7h1.1v1.1h-1.1zM453.4,206.1h1.1v1.1h-1.1zM471.1,210.9h1.1v1.1h-1.1zM367.2,210.0h1.1v1.1h-1.1zM378.2,210.6h1.1v1.1h-1.1zM363.0,212.8h1.1v1.1h-1.1zM297.1,240.2h1.1v1.1h-1.1zM342.4,212.3h1.1v1.1h-1.1zM362.5,215.2h1.1v1.1h-1.1zM317.7,225.6h1.1v1.1h-1.1zM449.5,207.7h1.1v1.1h-1.1zM381.6,208.1h1.1v1.1h-1.1zM409.9,205.5h1.1v1.1h-1.1zM353.1,211.3h1.1v1.1h-1.1zM368.2,212.4h1.1v1.1h-1.1zM447.1,207.9h1.1v1.1h-1.1zM390.2,207.3h1.1v1.1h-1.1zM415.6,207.6h1.1v1.1h-1.1zM380.7,213.1h1.1v1.1h-1.1zM407.7,208.2h1.1v1.1h-1.1zM475.9,207.6h1.1v1.1h-1.1zM349.6,217.1h1.1v1.1h-1.1zM400.1,209.9h1.1v1.1h-1.1zM433.8,208.6h1.1v1.1h-1.1zM313.4,225.6h1.1v1.1h-1.1zM488.9,206.1h1.1v1.1h-1.1zM396.0,206.9h1.1v1.1h-1.1zM345.2,214.3h1.1v1.1h-1.1zM448.5,208.1h1.1v1.1h-1.1zM459.5,209.3h1.1v1.1h-1.1zM422.4,209.6h1.1v1.1h-1.1zM479.7,209.2h1.1v1.1h-1.1zM313.8,226.9h1.1v1.1h-1.1zM401.8,207.0h1.1v1.1h-1.1zM444.9,204.4h1.1v1.1h-1.1zM479.8,207.8h1.1v1.1h-1.1zM424.6,206.7h1.1v1.1h-1.1zM416.8,207.4h1.1v1.1h-1.1zM373.8,210.2h1.1v1.1h-1.1zM410.6,206.4h1.1v1.1h-1.1zM407.2,206.7h1.1v1.1h-1.1zM477.5,208.6h1.1v1.1h-1.1zM461.8,208.8h1.1v1.1h-1.1zM443.8,207.3h1.1v1.1h-1.1zM481.2,209.8h1.1v1.1h-1.1zM309.3,228.4h1.1v1.1h-1.1zM450.3,206.6h1.1v1.1h-1.1zM389.0,209.6h1.1v1.1h-1.1zM446.7,212.1h1.1v1.1h-1.1zM355.4,212.2h1.1v1.1h-1.1zM389.7,211.7h1.1v1.1h-1.1zM461.3,211.2h1.1v1.1h-1.1zM303.1,235.1h1.1v1.1h-1.1zM354.4,212.1h1.1v1.1h-1.1zM393.9,213.1h1.1v1.1h-1.1zM466.7,208.9h1.1v1.1h-1.1zM350.1,214.0h1.1v1.1h-1.1zM461.0,208.2h1.1v1.1h-1.1zM345.0,216.4h1.1v1.1h-1.1zM356.8,213.3h1.1v1.1h-1.1zM407.0,208.5h1.1v1.1h-1.1zM427.1,210.9h1.1v1.1h-1.1zM472.5,207.3h1.1v1.1h-1.1zM472.3,206.7h1.1v1.1h-1.1zM346.2,216.6h1.1v1.1h-1.1zM445.5,209.9h1.1v1.1h-1.1zM423.3,210.6h1.1v1.1h-1.1zM373.4,208.8h1.1v1.1h-1.1zM451.6,210.6h1.1v1.1h-1.1zM476.0,209.7h1.1v1.1h-1.1zM392.1,212.7h1.1v1.1h-1.1zM479.7,206.4h1.1v1.1h-1.1zM321.6,222.8h1.1v1.1h-1.1zM329.3,218.6h1.1v1.1h-1.1zM449.2,205.5h1.1v1.1h-1.1zM357.3,211.7h1.1v1.1h-1.1zM413.4,210.8h1.1v1.1h-1.1zM395.7,208.3h1.1v1.1h-1.1zM325.2,219.3h1.1v1.1h-1.1zM447.2,210.2h1.1v1.1h-1.1zM444.7,210.4h1.1v1.1h-1.1zM325.1,222.6h1.1v1.1h-1.1zM348.1,213.3h1.1v1.1h-1.1zM456.5,208.4h1.1v1.1h-1.1zM478.9,210.8h1.1v1.1h-1.1zM470.5,207.4h1.1v1.1h-1.1zM396.6,207.7h1.1v1.1h-1.1zM369.7,212.8h1.1v1.1h-1.1zM385.3,212.7h1.1v1.1h-1.1zM331.4,216.2h1.1v1.1h-1.1zM395.4,204.2h1.1v1.1h-1.1zM342.3,213.0h1.1v1.1h-1.1zM328.5,217.5h1.1v1.1h-1.1zM372.3,210.7h1.1v1.1h-1.1zM308.8,230.3h1.1v1.1h-1.1zM390.3,209.1h1.1v1.1h-1.1zM435.6,207.2h1.1v1.1h-1.1zM426.6,208.8h1.1v1.1h-1.1zM491.5,207.2h1.1v1.1h-1.1zM473.6,208.6h1.1v1.1h-1.1zM423.1,207.3h1.1v1.1h-1.1zM476.0,213.8h1.1v1.1h-1.1zM385.1,211.3h1.1v1.1h-1.1zM456.2,207.0h1.1v1.1h-1.1zM353.0,212.0h1.1v1.1h-1.1zM401.6,208.1h1.1v1.1h-1.1zM492.5,206.0h1.1v1.1h-1.1zM416.1,207.2h1.1v1.1h-1.1zM397.6,207.7h1.1v1.1h-1.1zM453.9,210.2h1.1v1.1h-1.1zM358.6,212.0h1.1v1.1h-1.1zM462.6,207.1h1.1v1.1h-1.1zM299.7,232.7h1.1v1.1h-1.1zM343.8,213.3h1.1v1.1h-1.1zM331.5,218.2h1.1v1.1h-1.1zM347.6,214.5h1.1v1.1h-1.1zM485.6,211.1h1.1v1.1h-1.1zM300.8,232.9h1.1v1.1h-1.1zM355.9,215.4h1.1v1.1h-1.1zM411.2,209.2h1.1v1.1h-1.1zM437.0,208.5h1.1v1.1h-1.1zM451.1,204.7h1.1v1.1h-1.1zM372.8,208.4h1.1v1.1h-1.1zM340.1,217.6h1.1v1.1h-1.1zM466.9,211.3h1.1v1.1h-1.1zM320.5,223.4h1.1v1.1h-1.1zM309.0,230.4h1.1v1.1h-1.1zM342.4,215.0h1.1v1.1h-1.1zM394.8,208.5h1.1v1.1h-1.1zM484.9,207.7h1.1v1.1h-1.1zM442.1,210.4h1.1v1.1h-1.1zM409.1,209.4h1.1v1.1h-1.1zM400.5,208.5h1.1v1.1h-1.1zM435.0,207.9h1.1v1.1h-1.1zM421.6,209.6h1.1v1.1h-1.1zM363.4,212.6h1.1v1.1h-1.1zM314.6,224.5h1.1v1.1h-1.1zM336.3,220.2h1.1v1.1h-1.1zM452.9,209.0h1.1v1.1h-1.1zM423.2,208.6h1.1v1.1h-1.1zM455.8,211.4h1.1v1.1h-1.1zM304.9,233.1h1.1v1.1h-1.1zM476.6,208.6h1.1v1.1h-1.1zM372.6,211.9h1.1v1.1h-1.1zM481.7,206.8h1.1v1.1h-1.1zM415.2,207.4h1.1v1.1h-1.1zM405.7,204.6h1.1v1.1h-1.1zM460.0,210.9h1.1v1.1h-1.1zM421.4,204.9h1.1v1.1h-1.1zM431.3,209.8h1.1v1.1h-1.1zM327.6,218.2h1.1v1.1h-1.1zM417.2,206.8h1.1v1.1h-1.1zM367.5,211.1h1.1v1.1h-1.1zM311.2,228.4h1.1v1.1h-1.1zM322.7,223.0h1.1v1.1h-1.1zM392.2,212.7h1.1v1.1h-1.1zM348.6,215.4h1.1v1.1h-1.1zM449.4,210.2h1.1v1.1h-1.1zM320.5,221.8h1.1v1.1h-1.1zM298.8,237.9h1.1v1.1h-1.1zM495.9,209.5h1.1v1.1h-1.1zM358.8,211.9h1.1v1.1h-1.1zM398.2,208.9h1.1v1.1h-1.1zM338.1,216.4h1.1v1.1h-1.1zM337.9,217.0h1.1v1.1h-1.1zM376.7,211.3h1.1v1.1h-1.1zM454.4,207.6h1.1v1.1h-1.1zM303.8,230.4h1.1v1.1h-1.1zM463.9,210.0h1.1v1.1h-1.1zM494.5,205.9h1.1v1.1h-1.1zM408.1,207.6h1.1v1.1h-1.1zM368.2,214.3h1.1v1.1h-1.1zM342.9,210.5h1.1v1.1h-1.1zM332.7,216.7h1.1v1.1h-1.1zM360.8,213.7h1.1v1.1h-1.1zM466.8,205.5h1.1v1.1h-1.1zM296.7,244.9h1.1v1.1h-1.1zM453.6,203.6h1.1v1.1h-1.1zM429.8,211.2h1.1v1.1h-1.1zM299.8,238.1h1.1v1.1h-1.1zM309.9,230.2h1.1v1.1h-1.1zM443.4,208.1h1.1v1.1h-1.1zM431.0,209.2h1.1v1.1h-1.1zM358.9,211.1h1.1v1.1h-1.1zM468.7,210.2h1.1v1.1h-1.1zM338.1,214.4h1.1v1.1h-1.1zM381.6,209.5h1.1v1.1h-1.1zM319.1,225.7h1.1v1.1h-1.1zM425.5,206.4h1.1v1.1h-1.1zM313.4,226.0h1.1v1.1h-1.1zM332.0,218.5h1.1v1.1h-1.1zM449.7,206.0h1.1v1.1h-1.1zM396.3,211.3h1.1v1.1h-1.1zM428.7,209.1h1.1v1.1h-1.1zM443.2,205.6h1.1v1.1h-1.1zM417.6,208.5h1.1v1.1h-1.1zM335.7,215.7h1.1v1.1h-1.1zM436.0,207.3h1.1v1.1h-1.1zM319.2,223.8h1.1v1.1h-1.1zM350.1,213.1h1.1v1.1h-1.1zM385.9,211.6h1.1v1.1h-1.1zM318.9,222.5h1.1v1.1h-1.1zM317.3,226.6h1.1v1.1h-1.1zM426.8,208.4h1.1v1.1h-1.1zM444.8,210.1h1.1v1.1h-1.1zM370.3,210.1h1.1v1.1h-1.1zM374.2,209.8h1.1v1.1h-1.1zM337.6,214.5h1.1v1.1h-1.1zM400.6,210.1h1.1v1.1h-1.1zM412.4,210.5h1.1v1.1h-1.1zM483.2,212.9h1.1v1.1h-1.1zM304.1,234.0h1.1v1.1h-1.1zM478.2,209.3h1.1v1.1h-1.1zM494.6,208.7h1.1v1.1h-1.1zM365.4,212.4h1.1v1.1h-1.1zM441.5,208.5h1.1v1.1h-1.1zM461.4,211.4h1.1v1.1h-1.1zM426.6,210.3h1.1v1.1h-1.1zM353.9,212.2h1.1v1.1h-1.1zM420.9,207.3h1.1v1.1h-1.1zM471.8,211.3h1.1v1.1h-1.1zM317.5,225.2h1.1v1.1h-1.1zM392.2,208.9h1.1v1.1h-1.1zM300.5,236.6h1.1v1.1h-1.1zM465.4,207.9h1.1v1.1h-1.1zM452.1,208.0h1.1v1.1h-1.1zM305.2,230.1h1.1v1.1h-1.1zM445.5,204.8h1.1v1.1h-1.1zM434.7,210.1h1.1v1.1h-1.1zM321.3,220.2h1.1v1.1h-1.1zM401.3,207.9h1.1v1.1h-1.1zM434.2,207.1h1.1v1.1h-1.1zM363.3,213.4h1.1v1.1h-1.1zM397.0,209.0h1.1v1.1h-1.1zM491.7,209.1h1.1v1.1h-1.1zM423.5,205.3h1.1v1.1h-1.1zM396.6,208.9h1.1v1.1h-1.1zM309.2,226.1h1.1v1.1h-1.1zM320.3,223.7h1.1v1.1h-1.1zM466.6,209.3h1.1v1.1h-1.1zM444.9,208.5h1.1v1.1h-1.1zM463.4,212.5h1.1v1.1h-1.1zM411.9,209.7h1.1v1.1h-1.1zM411.5,209.9h1.1v1.1h-1.1zM402.4,209.2h1.1v1.1h-1.1zM443.4,208.1h1.1v1.1h-1.1zM362.2,214.0h1.1v1.1h-1.1zM395.6,211.2h1.1v1.1h-1.1zM390.2,207.0h1.1v1.1h-1.1zM428.7,210.5h1.1v1.1h-1.1zM339.4,217.3h1.1v1.1h-1.1zM301.0,235.7h1.1v1.1h-1.1zM313.8,227.4h1.1v1.1h-1.1zM331.9,215.8h1.1v1.1h-1.1zM467.9,206.4h1.1v1.1h-1.1zM439.7,212.0h1.1v1.1h-1.1zM446.4,209.0h1.1v1.1h-1.1zM385.1,207.1h1.1v1.1h-1.1zM316.6,225.8h1.1v1.1h-1.1zM389.3,208.8h1.1v1.1h-1.1zM469.0,205.2h1.1v1.1h-1.1zM398.1,204.7h1.1v1.1h-1.1zM422.7,205.5h1.1v1.1h-1.1zM371.0,211.6h1.1v1.1h-1.1zM326.1,220.3h1.1v1.1h-1.1zM421.6,208.1h1.1v1.1h-1.1zM393.2,209.8h1.1v1.1h-1.1zM365.3,212.8h1.1v1.1h-1.1zM347.8,210.8h1.1v1.1h-1.1zM435.5,207.9h1.1v1.1h-1.1zM359.7,211.0h1.1v1.1h-1.1zM411.5,206.4h1.1v1.1h-1.1zM348.1,213.7h1.1v1.1h-1.1zM447.1,208.3h1.1v1.1h-1.1zM371.2,210.5h1.1v1.1h-1.1zM391.9,206.6h1.1v1.1h-1.1zM482.0,207.9h1.1v1.1h-1.1zM440.0,212.3h1.1v1.1h-1.1zM443.6,206.5h1.1v1.1h-1.1zM364.0,208.7h1.1v1.1h-1.1zM464.5,209.1h1.1v1.1h-1.1zM373.3,211.9h1.1v1.1h-1.1zM494.2,210.0h1.1v1.1h-1.1zM475.6,206.6h1.1v1.1h-1.1zM428.2,210.4h1.1v1.1h-1.1zM462.7,207.1h1.1v1.1h-1.1zM405.1,206.7h1.1v1.1h-1.1zM443.0,207.4h1.1v1.1h-1.1zM321.0,222.5h1.1v1.1h-1.1zM494.2,210.5h1.1v1.1h-1.1zM456.4,209.7h1.1v1.1h-1.1zM324.6,220.9h1.1v1.1h-1.1zM344.6,217.1h1.1v1.1h-1.1zM411.3,208.9h1.1v1.1h-1.1zM448.9,210.2h1.1v1.1h-1.1zM325.8,217.8h1.1v1.1h-1.1zM488.6,206.0h1.1v1.1h-1.1zM365.4,213.2h1.1v1.1h-1.1zM495.5,206.5h1.1v1.1h-1.1zM446.9,207.9h1.1v1.1h-1.1zM393.3,209.1h1.1v1.1h-1.1zM368.7,210.4h1.1v1.1h-1.1zM315.3,224.9h1.1v1.1h-1.1zM313.6,229.3h1.1v1.1h-1.1zM422.2,203.7h1.1v1.1h-1.1zM451.1,210.2h1.1v1.1h-1.1zM478.0,213.1h1.1v1.1h-1.1zM369.2,211.3h1.1v1.1h-1.1zM484.0,208.9h1.1v1.1h-1.1zM355.5,214.8h1.1v1.1h-1.1zM484.4,212.4h1.1v1.1h-1.1zM480.2,206.6h1.1v1.1h-1.1zM327.1,220.1h1.1v1.1h-1.1zM468.6,208.3h1.1v1.1h-1.1zM437.1,209.6h1.1v1.1h-1.1zM436.8,208.8h1.1v1.1h-1.1zM464.5,209.9h1.1v1.1h-1.1zM403.6,208.1h1.1v1.1h-1.1zM397.6,209.2h1.1v1.1h-1.1zM369.6,209.9h1.1v1.1h-1.1zM469.5,207.4h1.1v1.1h-1.1zM476.7,208.5h1.1v1.1h-1.1zM328.2,219.3h1.1v1.1h-1.1zM450.8,206.3h1.1v1.1h-1.1zM351.2,217.2h1.1v1.1h-1.1zM332.9,217.7h1.1v1.1h-1.1zM335.5,214.5h1.1v1.1h-1.1zM410.9,210.8h1.1v1.1h-1.1zM352.1,212.7h1.1v1.1h-1.1zM344.6,216.3h1.1v1.1h-1.1zM315.7,225.5h1.1v1.1h-1.1zM361.1,212.8h1.1v1.1h-1.1zM451.2,208.9h1.1v1.1h-1.1zM300.3,233.5h1.1v1.1h-1.1zM392.8,209.4h1.1v1.1h-1.1zM416.9,212.5h1.1v1.1h-1.1zM305.9,226.3h1.1v1.1h-1.1zM354.9,213.7h1.1v1.1h-1.1zM477.7,209.6h1.1v1.1h-1.1zM495.4,207.2h1.1v1.1h-1.1zM466.5,206.0h1.1v1.1h-1.1zM330.0,223.0h1.1v1.1h-1.1zM449.2,207.8h1.1v1.1h-1.1zM386.4,213.6h1.1v1.1h-1.1zM330.2,219.8h1.1v1.1h-1.1zM392.4,209.5h1.1v1.1h-1.1zM481.0,209.7h1.1v1.1h-1.1zM471.9,209.9h1.1v1.1h-1.1zM374.5,212.9h1.1v1.1h-1.1zM308.7,230.0h1.1v1.1h-1.1zM476.6,209.0h1.1v1.1h-1.1zM493.8,209.5h1.1v1.1h-1.1zM398.5,211.6h1.1v1.1h-1.1zM341.2,217.5h1.1v1.1h-1.1zM405.0,207.0h1.1v1.1h-1.1zM435.6,207.3h1.1v1.1h-1.1zM392.7,209.9h1.1v1.1h-1.1zM366.7,210.3h1.1v1.1h-1.1zM345.7,214.5h1.1v1.1h-1.1zM355.5,211.6h1.1v1.1h-1.1zM306.0,230.1h1.1v1.1h-1.1zM347.1,215.7h1.1v1.1h-1.1zM487.1,210.9h1.1v1.1h-1.1zM297.6,238.3h1.1v1.1h-1.1zM441.9,212.5h1.1v1.1h-1.1zM454.2,208.4h1.1v1.1h-1.1zM377.1,216.5h1.1v1.1h-1.1zM415.3,210.5h1.1v1.1h-1.1zM340.3,217.1h1.1v1.1h-1.1zM429.9,207.6h1.1v1.1h-1.1zM437.9,203.1h1.1v1.1h-1.1zM443.3,208.2h1.1v1.1h-1.1zM394.6,209.5h1.1v1.1h-1.1zM490.6,212.7h1.1v1.1h-1.1zM469.7,206.0h1.1v1.1h-1.1zM410.8,212.4h1.1v1.1h-1.1zM432.8,208.0h1.1v1.1h-1.1zM351.1,215.6h1.1v1.1h-1.1zM485.2,204.1h1.1v1.1h-1.1zM425.4,208.8h1.1v1.1h-1.1zM475.4,208.1h1.1v1.1h-1.1zM353.9,215.1h1.1v1.1h-1.1zM493.0,209.3h1.1v1.1h-1.1zM317.1,222.7h1.1v1.1h-1.1zM402.3,210.7h1.1v1.1h-1.1zM318.1,225.6h1.1v1.1h-1.1zM334.1,218.7h1.1v1.1h-1.1zM449.2,210.4h1.1v1.1h-1.1zM309.3,231.0h1.1v1.1h-1.1zM372.7,210.8h1.1v1.1h-1.1zM334.4,214.9h1.1v1.1h-1.1zM466.5,206.0h1.1v1.1h-1.1zM312.5,229.7h1.1v1.1h-1.1zM363.5,213.3h1.1v1.1h-1.1zM467.7,208.8h1.1v1.1h-1.1zM433.7,207.7h1.1v1.1h-1.1zM437.0,208.6h1.1v1.1h-1.1zM494.7,209.2h1.1v1.1h-1.1zM300.7,233.5h1.1v1.1h-1.1zM429.3,207.2h1.1v1.1h-1.1zM445.4,212.6h1.1v1.1h-1.1zM446.0,209.0h1.1v1.1h-1.1zM439.2,207.4h1.1v1.1h-1.1zM310.5,225.7h1.1v1.1h-1.1zM312.8,225.6h1.1v1.1h-1.1zM450.9,209.9h1.1v1.1h-1.1zM418.7,210.0h1.1v1.1h-1.1zM348.7,214.3h1.1v1.1h-1.1zM297.9,238.0h1.1v1.1h-1.1zM403.0,208.3h1.1v1.1h-1.1zM314.1,224.2h1.1v1.1h-1.1zM446.1,211.0h1.1v1.1h-1.1zM364.3,212.5h1.1v1.1h-1.1zM457.9,213.3h1.1v1.1h-1.1zM315.2,224.4h1.1v1.1h-1.1zM395.0,208.9h1.1v1.1h-1.1zM316.0,227.1h1.1v1.1h-1.1zM452.5,208.1h1.1v1.1h-1.1zM408.3,206.2h1.1v1.1h-1.1zM343.1,213.8h1.1v1.1h-1.1zM489.1,209.2h1.1v1.1h-1.1zM432.7,209.2h1.1v1.1h-1.1zM363.4,211.8h1.1v1.1h-1.1zM467.5,210.6h1.1v1.1h-1.1zM372.2,212.8h1.1v1.1h-1.1zM485.0,209.5h1.1v1.1h-1.1zM355.6,213.5h1.1v1.1h-1.1zM493.4,208.6h1.1v1.1h-1.1zM308.5,230.3h1.1v1.1h-1.1zM443.3,210.3h1.1v1.1h-1.1zM354.4,213.8h1.1v1.1h-1.1zM381.0,211.0h1.1v1.1h-1.1zM423.6,207.9h1.1v1.1h-1.1zM305.2,228.3h1.1v1.1h-1.1zM340.8,214.1h1.1v1.1h-1.1zM316.9,226.4h1.1v1.1h-1.1zM444.3,209.4h1.1v1.1h-1.1zM340.4,219.1h1.1v1.1h-1.1zM395.9,209.2h1.1v1.1h-1.1zM361.9,213.9h1.1v1.1h-1.1zM343.3,218.1h1.1v1.1h-1.1zM483.5,210.8h1.1v1.1h-1.1zM397.8,207.9h1.1v1.1h-1.1zM426.4,208.2h1.1v1.1h-1.1zM437.2,208.7h1.1v1.1h-1.1zM460.6,206.7h1.1v1.1h-1.1zM348.8,215.6h1.1v1.1h-1.1zM311.8,229.5h1.1v1.1h-1.1zM389.7,208.6h1.1v1.1h-1.1zM330.1,222.6h1.1v1.1h-1.1zM300.1,234.3h1.1v1.1h-1.1zM480.4,208.4h1.1v1.1h-1.1zM421.6,208.1h1.1v1.1h-1.1zM379.1,208.9h1.1v1.1h-1.1zM323.4,222.3h1.1v1.1h-1.1zM448.6,208.6h1.1v1.1h-1.1zM402.9,212.1h1.1v1.1h-1.1zM330.9,219.7h1.1v1.1h-1.1zM492.9,210.1h1.1v1.1h-1.1zM486.6,208.5h1.1v1.1h-1.1zM481.9,206.2h1.1v1.1h-1.1zM461.7,208.4h1.1v1.1h-1.1zM402.6,207.3h1.1v1.1h-1.1zM356.2,215.1h1.1v1.1h-1.1zM426.7,208.5h1.1v1.1h-1.1zM326.3,223.4h1.1v1.1h-1.1zM419.7,210.0h1.1v1.1h-1.1zM309.2,230.5h1.1v1.1h-1.1zM298.7,237.1h1.1v1.1h-1.1zM439.5,208.9h1.1v1.1h-1.1zM364.7,213.0h1.1v1.1h-1.1zM435.8,210.3h1.1v1.1h-1.1zM452.4,207.2h1.1v1.1h-1.1zM463.5,209.5h1.1v1.1h-1.1zM419.5,213.6h1.1v1.1h-1.1zM465.8,208.5h1.1v1.1h-1.1zM428.1,208.0h1.1v1.1h-1.1zM481.9,207.5h1.1v1.1h-1.1zM475.8,206.0h1.1v1.1h-1.1zM304.7,233.5h1.1v1.1h-1.1zM349.7,214.6h1.1v1.1h-1.1zM374.0,211.3h1.1v1.1h-1.1zM346.6,218.5h1.1v1.1h-1.1zM331.5,223.1h1.1v1.1h-1.1zM471.1,207.0h1.1v1.1h-1.1zM301.0,235.9h1.1v1.1h-1.1zM332.5,219.2h1.1v1.1h-1.1zM448.4,209.3h1.1v1.1h-1.1zM340.8,216.9h1.1v1.1h-1.1zM347.8,214.8h1.1v1.1h-1.1zM490.0,212.0h1.1v1.1h-1.1zM448.9,209.7h1.1v1.1h-1.1zM386.0,210.4h1.1v1.1h-1.1zM323.3,223.9h1.1v1.1h-1.1zM349.9,216.2h1.1v1.1h-1.1zM492.7,210.0h1.1v1.1h-1.1zM454.6,209.2h1.1v1.1h-1.1zM310.0,231.8h1.1v1.1h-1.1zM437.7,209.5h1.1v1.1h-1.1zM371.4,210.9h1.1v1.1h-1.1zM440.3,206.9h1.1v1.1h-1.1zM355.2,212.8h1.1v1.1h-1.1zM322.1,220.1h1.1v1.1h-1.1zM299.9,235.2h1.1v1.1h-1.1zM355.3,214.0h1.1v1.1h-1.1zM468.5,204.8h1.1v1.1h-1.1zM474.7,208.8h1.1v1.1h-1.1zM433.0,209.7h1.1v1.1h-1.1zM446.0,208.8h1.1v1.1h-1.1zM335.0,215.5h1.1v1.1h-1.1zM367.0,213.9h1.1v1.1h-1.1zM476.3,207.4h1.1v1.1h-1.1zM493.7,206.8h1.1v1.1h-1.1zM384.8,207.7h1.1v1.1h-1.1zM451.6,208.5h1.1v1.1h-1.1zM483.2,210.7h1.1v1.1h-1.1zM495.9,211.4h1.1v1.1h-1.1zM355.3,213.9h1.1v1.1h-1.1zM427.1,206.2h1.1v1.1h-1.1zM374.2,209.5h1.1v1.1h-1.1zM389.2,207.8h1.1v1.1h-1.1zM388.6,209.2h1.1v1.1h-1.1zM351.8,210.8h1.1v1.1h-1.1zM299.8,235.4h1.1v1.1h-1.1zM449.7,209.8h1.1v1.1h-1.1zM435.5,208.2h1.1v1.1h-1.1zM464.5,209.5h1.1v1.1h-1.1zM326.7,218.3h1.1v1.1h-1.1zM343.5,212.8h1.1v1.1h-1.1zM415.5,207.4h1.1v1.1h-1.1zM483.8,211.1h1.1v1.1h-1.1zM390.6,211.4h1.1v1.1h-1.1zM336.3,216.1h1.1v1.1h-1.1zM415.2,210.9h1.1v1.1h-1.1zM488.0,208.4h1.1v1.1h-1.1zM470.0,211.5h1.1v1.1h-1.1zM476.2,209.7h1.1v1.1h-1.1zM378.3,209.5h1.1v1.1h-1.1zM348.6,216.2h1.1v1.1h-1.1zM470.6,207.2h1.1v1.1h-1.1zM454.0,206.8h1.1v1.1h-1.1zM466.7,205.9h1.1v1.1h-1.1zM374.4,211.2h1.1v1.1h-1.1zM353.4,213.8h1.1v1.1h-1.1zM344.2,215.3h1.1v1.1h-1.1zM470.6,207.9h1.1v1.1h-1.1zM480.3,211.6h1.1v1.1h-1.1zM369.6,210.4h1.1v1.1h-1.1zM471.3,207.3h1.1v1.1h-1.1zM372.5,213.3h1.1v1.1h-1.1zM385.8,212.4h1.1v1.1h-1.1zM409.6,209.4h1.1v1.1h-1.1zM340.4,212.8h1.1v1.1h-1.1zM349.6,213.4h1.1v1.1h-1.1zM349.5,215.7h1.1v1.1h-1.1zM348.1,214.8h1.1v1.1h-1.1zM399.4,212.0h1.1v1.1h-1.1zM316.2,222.7h1.1v1.1h-1.1zM452.5,209.8h1.1v1.1h-1.1zM331.0,217.3h1.1v1.1h-1.1zM385.0,212.3h1.1v1.1h-1.1zM424.7,208.4h1.1v1.1h-1.1zM323.7,223.3h1.1v1.1h-1.1zM378.0,209.1h1.1v1.1h-1.1zM408.9,206.1h1.1v1.1h-1.1zM406.3,206.7h1.1v1.1h-1.1zM475.0,207.6h1.1v1.1h-1.1zM453.4,206.6h1.1v1.1h-1.1zM320.2,225.4h1.1v1.1h-1.1zM463.1,211.1h1.1v1.1h-1.1zM406.2,209.4h1.1v1.1h-1.1zM432.0,206.5h1.1v1.1h-1.1zM328.1,219.3h1.1v1.1h-1.1zM390.6,208.1h1.1v1.1h-1.1zM436.3,211.3h1.1v1.1h-1.1zM455.9,209.2h1.1v1.1h-1.1zM457.6,209.5h1.1v1.1h-1.1zM339.5,215.5h1.1v1.1h-1.1zM463.0,204.8h1.1v1.1h-1.1zM410.0,207.3h1.1v1.1h-1.1zM430.1,206.4h1.1v1.1h-1.1zM466.7,209.3h1.1v1.1h-1.1zM377.3,210.6h1.1v1.1h-1.1zM480.4,207.3h1.1v1.1h-1.1zM472.7,208.0h1.1v1.1h-1.1zM458.0,211.5h1.1v1.1h-1.1zM372.2,209.1h1.1v1.1h-1.1zM401.9,207.2h1.1v1.1h-1.1zM330.7,218.2h1.1v1.1h-1.1zM448.3,207.2h1.1v1.1h-1.1zM474.6,207.9h1.1v1.1h-1.1zM328.2,220.5h1.1v1.1h-1.1zM445.3,211.8h1.1v1.1h-1.1zM435.2,205.1h1.1v1.1h-1.1zM303.3,232.0h1.1v1.1h-1.1zM479.8,208.9h1.1v1.1h-1.1zM392.1,209.2h1.1v1.1h-1.1zM350.0,214.1h1.1v1.1h-1.1zM302.1,232.3h1.1v1.1h-1.1zM452.8,210.4h1.1v1.1h-1.1zM363.7,211.0h1.1v1.1h-1.1zM399.0,208.8h1.1v1.1h-1.1zM335.0,217.3h1.1v1.1h-1.1zM417.7,208.8h1.1v1.1h-1.1zM375.6,210.3h1.1v1.1h-1.1zM457.7,210.5h1.1v1.1h-1.1zM429.6,208.5h1.1v1.1h-1.1zM440.7,208.8h1.1v1.1h-1.1zM346.4,215.0h1.1v1.1h-1.1zM308.8,227.2h1.1v1.1h-1.1zM472.4,207.1h1.1v1.1h-1.1zM483.6,206.9h1.1v1.1h-1.1zM425.0,208.9h1.1v1.1h-1.1zM480.8,207.5h1.1v1.1h-1.1zM437.6,206.5h1.1v1.1h-1.1zM417.5,209.1h1.1v1.1h-1.1zM380.0,211.2h1.1v1.1h-1.1zM367.3,208.1h1.1v1.1h-1.1zM394.2,212.4h1.1v1.1h-1.1zM340.6,216.1h1.1v1.1h-1.1zM381.7,209.8h1.1v1.1h-1.1zM397.8,211.1h1.1v1.1h-1.1zM302.3,233.0h1.1v1.1h-1.1zM374.9,209.5h1.1v1.1h-1.1zM353.0,218.1h1.1v1.1h-1.1zM423.1,206.5h1.1v1.1h-1.1zM458.8,208.4h1.1v1.1h-1.1z" fill="#3e56a8" opacity="0.75"/>
<polyline points="293.6,248.5 294.1,243.6 294.6,243.2 295.1,242.5 295.6,243.9 296.1,238.3 296.6,238.2 297.1,238.1 297.6,236.4 298.1,234.0 298.6,235.3 299.1,234.2 299.6,234.0 300.1,234.3 300.6,233.6 301.1,232.3 301.6,231.7 302.1,229.4 302.6,230.2 303.1,230.2 303.6,229.0 304.1,229.3 304.6,227.7 305.1,230.4 305.6,230.8 306.1,227.2 306.6,227.9 307.1,226.7 307.6,228.3 308.1,226.9 308.6,226.2 309.1,225.4 309.6,225.6 310.1,223.8 310.6,225.7 311.1,223.6 311.6,225.0 312.1,224.2 312.6,225.1 313.1,223.4 313.6,224.5 314.1,221.7 314.6,223.4 315.1,222.1 315.6,222.4 316.1,222.0 316.6,222.8 317.1,218.7 317.6,221.5 318.1,218.8 318.6,222.1 319.1,217.7 319.6,218.6 320.1,217.5 320.6,221.5 321.1,217.5 321.6,219.0 322.1,217.9 322.6,216.0 323.1,217.7 323.6,218.7 324.1,217.4 324.6,218.7 325.1,216.8 325.6,217.1 326.1,216.4 326.6,217.2 327.1,219.0 327.6,216.8 328.1,216.4 328.6,215.2 329.1,214.9 329.6,217.6 330.1,214.1 330.6,214.2 331.1,215.1 331.6,214.5 332.1,217.5 332.6,211.7 333.1,215.1 333.6,215.5 334.1,212.9 334.6,213.4 335.1,214.7 335.6,216.1 336.1,212.6 336.6,211.6 337.1,214.8 337.6,215.4 338.1,212.8 338.6,210.2 339.1,214.9 339.6,212.6 340.1,214.1 340.6,212.5 341.1,211.9 341.6,211.7 342.1,214.0 342.6,213.8 343.1,209.1 343.6,210.5 344.1,213.9 344.6,211.0 345.1,209.5 345.6,211.2 346.1,210.9 346.6,210.8 347.1,210.2 347.6,210.3 348.1,210.0 348.6,210.9 349.1,209.3 349.6,209.9 350.1,210.0 350.6,211.8 351.1,210.5 351.6,209.8 352.1,210.6 352.6,210.4 353.1,211.2 353.6,210.4 354.1,212.0 354.6,211.3 355.1,209.4 355.6,208.9 356.1,210.5 356.6,210.0 357.1,209.1 357.6,207.2 358.1,206.7 358.6,209.5 359.1,210.0 359.6,210.0 360.1,207.2 360.6,210.2 361.1,208.1 361.6,209.2 362.1,209.2 362.6,207.6 363.1,207.9 363.6,205.9 364.1,207.4 364.6,206.2 365.1,209.1 365.6,208.6 366.1,209.7 366.6,209.0 367.1,207.7 367.6,209.0 368.1,208.0 368.6,209.3 369.1,208.9 369.6,207.2 370.1,208.5 370.6,208.6 371.1,208.1 371.6,209.7 372.1,210.7 372.6,208.0 373.1,208.1 373.6,205.6 374.1,208.4 374.6,208.0 375.1,205.7 375.6,208.9 376.1,209.3 376.6,207.6 377.1,208.1 377.6,207.3 378.1,209.6 378.6,206.6 379.1,208.2 379.6,211.1 380.1,208.7 380.6,209.2 381.1,208.4 381.6,207.1 382.1,208.6 382.6,209.2 383.1,207.3 383.6,209.1 384.1,210.3 384.6,210.1 385.1,206.6 385.6,207.4 386.1,206.6 386.6,210.1 387.1,209.5 387.6,209.6 388.1,207.6 388.6,207.2 389.1,208.9 389.6,208.9 390.1,207.7 390.6,209.0 391.1,209.6 391.6,209.1 392.1,207.5 392.6,206.1 393.1,208.5 393.6,209.1 394.1,208.5 394.6,208.3 395.1,208.0 395.6,209.8 396.1,208.8 396.6,209.1 397.1,207.7 397.6,208.1 398.1,209.2 398.6,207.7 399.1,207.3 399.6,208.6 400.1,210.6 400.6,209.3 401.1,210.9 401.6,208.9 402.1,208.7 402.6,207.3 403.1,208.3 403.6,211.0 404.1,209.6 404.6,210.1 405.1,210.1 405.6,209.2 406.1,209.0 406.6,209.4 407.1,210.1 407.6,209.9 408.1,210.0 408.6,209.5 409.1,208.4 409.6,209.1 410.1,208.2 410.6,210.8 411.1,206.8 411.6,209.2 412.1,212.7 412.6,209.1 413.1,208.1 413.6,209.6 414.1,211.4 414.6,209.5 415.1,210.5 415.6,209.9 416.1,209.3 416.6,213.9 417.1,210.0 417.6,209.2 418.1,209.3 418.6,210.5 419.1,210.6 419.6,211.1 420.1,210.3 420.6,208.3 421.1,210.9 421.6,209.8 422.1,209.9 422.6,208.4 423.1,209.6 423.6,209.4 424.1,210.3 424.6,208.5 425.1,210.5 425.6,210.7 426.1,209.1 426.6,209.8 427.1,209.5 427.6,211.8 428.1,207.4 428.6,210.3 429.1,208.6 429.6,210.2 430.1,211.9 430.6,210.0 431.1,211.1 431.6,209.8 432.1,213.5 432.6,212.2 433.1,212.5 433.6,209.3 434.1,209.7 434.6,212.5 435.1,210.9 435.6,210.9 436.1,211.7 436.6,209.6 437.1,212.3 437.6,211.4 438.1,212.0 438.6,210.6 439.1,212.1 439.6,210.6 440.1,212.8 440.6,213.0 441.1,212.8 441.6,212.3 442.1,212.5 442.6,208.2 443.1,212.9 443.6,211.5 444.1,212.0 444.6,211.5 445.1,210.1 445.6,211.3 446.1,212.9 446.6,213.9 447.1,211.3 447.6,211.0 448.1,214.1 448.6,211.1 449.1,214.9 449.6,212.3 450.1,211.2 450.6,213.6 451.1,214.6 451.6,210.6 452.1,214.5 452.6,212.1 453.1,214.5 453.6,212.1 454.1,210.6 454.6,213.3 455.1,213.9 455.6,215.4 456.1,215.0 456.6,213.7 457.1,212.5 457.6,212.2 458.1,212.5 458.6,211.8 459.1,212.6 459.6,209.7 460.1,213.2 460.6,213.0 461.1,216.4 461.6,214.1 462.1,212.5 462.6,213.9 463.1,211.6 463.6,212.4 464.1,210.8 464.6,215.1 465.1,214.1 465.6,211.8 466.1,213.3 466.6,214.6 467.1,214.1 467.6,213.9 468.1,212.4 468.6,212.7 469.1,213.6 469.6,214.7 470.1,212.5 470.6,212.1 471.1,215.1 471.6,212.4 472.1,215.1 472.6,214.0 473.1,214.9 473.6,216.0 474.1,214.7 474.6,214.8 475.1,212.7 475.6,213.0 476.1,214.7 476.6,215.9 477.1,215.8 477.6,217.0 478.1,214.4 478.6,214.3 479.1,215.4 479.6,214.1 480.1,214.0 480.6,212.8 481.1,215.4 481.6,212.8 482.1,214.9 482.6,212.4 483.1,215.7 483.6,212.9 484.1,215.4 484.6,212.2 485.1,213.8 485.6,215.9 486.1,213.3 486.6,214.5 487.1,213.8 487.6,211.4 488.1,214.9 488.6,215.0 489.1,213.1 489.6,215.3 490.1,213.5 490.6,213.3 491.1,214.6 491.6,213.7 492.1,217.6 492.6,212.6 493.1,215.6 493.6,216.0 494.1,212.1 494.6,212.5 495.1,215.5 495.6,214.1 496.1,215.3" fill="none" stroke="#d22d1e" stroke-width="0.9" opacity="0.8"/>
<polyline points="293.6,249.2 294.1,244.4 294.6,241.6 295.1,237.6 295.6,241.1 296.1,238.0 296.6,238.8 297.1,237.6 297.6,234.1 298.1,238.3 298.6,236.5 299.1,235.5 299.6,231.6 300.1,232.2 300.6,231.4 301.1,231.1 301.6,229.5 302.1,231.5 302.6,230.8 303.1,230.5 303.6,228.7 304.1,231.2 304.6,229.1 305.1,224.0 305.6,227.0 306.1,227.6 306.6,228.9 307.1,226.5 307.6,226.3 308.1,225.3 308.6,227.1 309.1,225.0 309.6,224.5 310.1,223.9 310.6,225.7 311.1,223.7 311.6,221.6 312.1,225.0 312.6,222.6 313.1,224.0 313.6,223.8 314.1,224.8 314.6,224.3 315.1,221.5 315.6,221.9 316.1,219.8 316.6,224.3 317.1,222.0 317.6,223.3 318.1,220.3 318.6,217.2 319.1,222.7 319.6,220.1 320.1,219.9 320.6,219.5 321.1,220.2 321.6,219.7 322.1,216.1 322.6,220.1 323.1,217.3 323.6,217.1 324.1,220.4 324.6,218.9 325.1,216.7 325.6,214.1 326.1,217.1 326.6,217.6 327.1,216.4 327.6,214.4 328.1,214.9 328.6,214.0 329.1,216.2 329.6,217.0 330.1,217.2 330.6,214.2 331.1,215.6 331.6,216.0 332.1,214.1 332.6,214.6 333.1,218.1 333.6,214.9 334.1,215.8 334.6,213.6 335.1,214.2 335.6,211.2 336.1,213.8 336.6,215.6 337.1,216.9 337.6,215.3 338.1,214.4 338.6,213.2 339.1,212.0 339.6,212.6 340.1,213.7 340.6,211.3 341.1,213.9 341.6,210.7 342.1,209.3 342.6,210.4 343.1,209.2 343.6,209.5 344.1,213.4 344.6,211.1 345.1,211.7 345.6,213.0 346.1,213.1 346.6,210.1 347.1,212.9 347.6,211.3 348.1,210.6 348.6,211.2 349.1,208.1 349.6,209.0 350.1,210.0 350.6,211.1 351.1,209.5 351.6,209.8 352.1,211.5 352.6,212.1 353.1,211.0 353.6,211.7 354.1,209.0 354.6,209.1 355.1,210.0 355.6,208.9 356.1,208.6 356.6,211.9 357.1,208.9 357.6,207.6 358.1,209.9 358.6,212.0 359.1,209.1 359.6,210.9 360.1,208.2 360.6,208.0 361.1,207.7 361.6,208.5 362.1,211.6 362.6,206.8 363.1,211.2 363.6,207.0 364.1,208.2 364.6,209.9 365.1,209.5 365.6,209.0 366.1,205.9 366.6,209.1 367.1,206.9 367.6,212.6 368.1,208.2 368.6,208.8 369.1,206.7 369.6,207.7 370.1,206.4 370.6,210.1 371.1,208.1 371.6,209.4 372.1,207.4 372.6,207.7 373.1,210.6 373.6,207.0 374.1,205.6 374.6,209.2 375.1,206.7 375.6,207.8 376.1,210.0 376.6,207.2 377.1,210.0 377.6,207.5 378.1,211.0 378.6,210.7 379.1,207.8 379.6,208.2 380.1,207.3 380.6,208.9 381.1,210.5 381.6,206.3 382.1,210.1 382.6,206.5 383.1,207.3 383.6,205.8 384.1,212.0 384.6,208.8 385.1,209.1 385.6,207.6 386.1,210.4 386.6,205.3 387.1,208.8 387.6,212.3 388.1,208.1 388.6,208.8 389.1,209.8 389.6,207.5 390.1,208.8 390.6,210.3 391.1,209.1 391.6,209.4 392.1,208.3 392.6,209.3 393.1,208.9 393.6,211.2 394.1,210.0 394.6,208.5 395.1,205.0 395.6,210.0 396.1,210.1 396.6,207.5 397.1,205.7 397.6,207.1 398.1,210.4 398.6,207.3 399.1,208.2 399.6,209.3 400.1,211.0 400.6,209.0 401.1,208.9 401.6,208.2 402.1,211.7 402.6,210.8 403.1,208.9 403.6,206.9 404.1,207.9 404.6,210.1 405.1,208.0 405.6,210.6 406.1,209.8 406.6,209.7 407.1,210.3 407.6,210.1 408.1,208.0 408.6,208.8 409.1,213.1 409.6,207.5 410.1,208.7 410.6,211.2 411.1,209.2 411.6,208.2 412.1,207.4 412.6,210.4 413.1,211.3 413.6,211.9 414.1,209.8 414.6,211.4 415.1,208.1 415.6,210.1 416.1,208.7 416.6,210.1 417.1,211.1 417.6,211.6 418.1,208.4 418.6,212.0 419.1,209.3 419.6,208.4 420.1,209.8 420.6,207.8 421.1,210.2 421.6,210.7 422.1,209.9 422.6,211.1 423.1,209.8 423.6,210.4 424.1,208.1 424.6,210.5 425.1,209.1 425.6,209.8 426.1,210.4 426.6,210.9 427.1,208.0 427.6,208.1 428.1,210.2 428.6,211.5 429.1,211.3 429.6,212.2 430.1,212.9 430.6,211.6 431.1,210.8 431.6,209.3 432.1,209.4 432.6,210.2 433.1,211.4 433.6,211.4 434.1,211.1 434.6,210.9 435.1,212.2 435.6,211.5 436.1,211.7 436.6,211.8 437.1,210.4 437.6,209.7 438.1,212.2 438.6,212.1 439.1,211.1 439.6,210.8 440.1,215.2 440.6,210.4 441.1,211.3 441.6,212.1 442.1,209.8 442.6,211.9 443.1,214.7 443.6,213.3 444.1,212.9 444.6,212.8 445.1,212.1 445.6,213.5 446.1,211.8 446.6,211.4 447.1,212.3 447.6,213.6 448.1,212.7 448.6,213.3 449.1,209.0 449.6,214.2 450.1,216.1 450.6,214.5 451.1,211.9 451.6,211.1 452.1,212.9 452.6,210.9 453.1,213.7 453.6,211.7 454.1,214.2 454.6,214.8 455.1,209.4 455.6,213.2 456.1,211.6 456.6,210.5 457.1,211.8 457.6,212.5 458.1,214.5 458.6,210.5 459.1,214.6 459.6,216.2 460.1,214.0 460.6,213.9 461.1,213.0 461.6,211.2 462.1,214.0 462.6,213.8 463.1,214.4 463.6,217.3 464.1,214.4 464.6,213.9 465.1,215.8 465.6,211.2 466.1,211.5 466.6,212.8 467.1,212.4 467.6,214.5 468.1,213.0 468.6,216.3 469.1,216.0 469.6,214.8 470.1,213.0 470.6,214.6 471.1,214.9 471.6,212.0 472.1,214.2 472.6,214.8 473.1,214.1 473.6,216.3 474.1,215.7 474.6,212.5 475.1,214.0 475.6,212.5 476.1,214.8 476.6,212.5 477.1,215.4 477.6,214.6 478.1,215.6 478.6,213.8 479.1,211.7 479.6,216.9 480.1,213.8 480.6,216.3 481.1,214.8 481.6,215.2 482.1,217.1 482.6,214.8 483.1,216.5 483.6,211.9 484.1,215.7 484.6,213.9 485.1,214.1 485.6,214.4 486.1,214.9 486.6,217.1 487.1,211.5 487.6,214.5 488.1,213.3 488.6,216.4 489.1,213.8 489.6,215.3 490.1,213.9 490.6,215.6 491.1,216.2 491.6,214.0 492.1,214.7 492.6,212.4 493.1,215.2 493.6,216.1 494.1,213.8 494.6,216.5 495.1,211.4 495.6,211.8 496.1,212.6" fill="none" stroke="#d22d1e" stroke-width="0.8" opacity="0.6"/>
<path d="M383.6,207.7h1.1v1.1h-1.1zM371.5,212.9h1.1v1.1h-1.1zM472.7,214.8h1.1v1.1h-1.1zM322.1,218.2h1.1v1.1h-1.1zM338.2,213.6h1.1v1.1h-1.1zM352.8,211.6h1.1v1.1h-1.1zM308.5,228.3h1.1v1.1h-1.1zM465.2,214.4h1.1v1.1h-1.1zM394.0,211.2h1.1v1.1h-1.1zM416.6,212.7h1.1v1.1h-1.1zM473.5,211.5h1.1v1.1h-1.1zM395.2,208.0h1.1v1.1h-1.1zM351.4,208.3h1.1v1.1h-1.1zM402.5,209.3h1.1v1.1h-1.1zM396.3,211.7h1.1v1.1h-1.1zM355.9,210.7h1.1v1.1h-1.1zM342.5,210.1h1.1v1.1h-1.1zM367.7,208.0h1.1v1.1h-1.1zM443.4,213.8h1.1v1.1h-1.1zM329.1,214.9h1.1v1.1h-1.1zM495.7,214.6h1.1v1.1h-1.1zM343.2,212.4h1.1v1.1h-1.1zM350.7,206.7h1.1v1.1h-1.1zM320.6,220.9h1.1v1.1h-1.1zM374.6,209.2h1.1v1.1h-1.1zM370.6,209.6h1.1v1.1h-1.1zM432.7,209.2h1.1v1.1h-1.1zM475.7,212.5h1.1v1.1h-1.1zM345.7,210.1h1.1v1.1h-1.1zM458.3,213.4h1.1v1.1h-1.1zM357.8,209.3h1.1v1.1h-1.1zM377.5,208.8h1.1v1.1h-1.1zM321.7,222.2h1.1v1.1h-1.1zM475.0,216.4h1.1v1.1h-1.1zM370.8,207.2h1.1v1.1h-1.1zM436.5,210.1h1.1v1.1h-1.1zM301.3,234.9h1.1v1.1h-1.1zM435.8,210.6h1.1v1.1h-1.1zM341.4,215.0h1.1v1.1h-1.1zM386.5,211.8h1.1v1.1h-1.1zM431.1,209.9h1.1v1.1h-1.1zM330.2,215.0h1.1v1.1h-1.1zM401.7,209.2h1.1v1.1h-1.1zM463.6,211.6h1.1v1.1h-1.1zM328.8,214.2h1.1v1.1h-1.1zM389.8,208.0h1.1v1.1h-1.1zM332.9,216.4h1.1v1.1h-1.1zM324.7,216.6h1.1v1.1h-1.1zM394.2,208.5h1.1v1.1h-1.1zM387.6,207.9h1.1v1.1h-1.1zM425.1,207.9h1.1v1.1h-1.1zM468.0,216.3h1.1v1.1h-1.1zM437.7,206.9h1.1v1.1h-1.1zM363.4,207.4h1.1v1.1h-1.1zM393.5,209.9h1.1v1.1h-1.1zM431.1,208.3h1.1v1.1h-1.1zM464.2,214.4h1.1v1.1h-1.1zM432.9,213.4h1.1v1.1h-1.1zM396.8,207.3h1.1v1.1h-1.1zM322.8,218.7h1.1v1.1h-1.1zM470.1,211.5h1.1v1.1h-1.1zM352.4,210.9h1.1v1.1h-1.1zM377.2,208.8h1.1v1.1h-1.1zM473.4,214.2h1.1v1.1h-1.1zM337.6,216.0h1.1v1.1h-1.1zM479.2,215.0h1.1v1.1h-1.1zM341.9,214.8h1.1v1.1h-1.1zM313.5,224.5h1.1v1.1h-1.1zM399.0,206.7h1.1v1.1h-1.1zM455.5,213.2h1.1v1.1h-1.1zM376.7,209.5h1.1v1.1h-1.1zM465.0,210.6h1.1v1.1h-1.1zM375.5,211.1h1.1v1.1h-1.1zM459.4,213.1h1.1v1.1h-1.1zM318.6,221.2h1.1v1.1h-1.1zM352.8,208.1h1.1v1.1h-1.1zM320.6,219.6h1.1v1.1h-1.1zM444.3,212.5h1.1v1.1h-1.1zM390.2,208.2h1.1v1.1h-1.1zM427.4,210.8h1.1v1.1h-1.1zM343.8,207.7h1.1v1.1h-1.1zM443.3,214.4h1.1v1.1h-1.1zM495.1,212.7h1.1v1.1h-1.1zM311.9,220.0h1.1v1.1h-1.1zM359.9,207.1h1.1v1.1h-1.1zM470.3,212.0h1.1v1.1h-1.1zM466.8,214.5h1.1v1.1h-1.1zM470.8,211.9h1.1v1.1h-1.1zM341.4,212.9h1.1v1.1h-1.1zM408.9,207.6h1.1v1.1h-1.1zM313.3,227.6h1.1v1.1h-1.1zM382.4,209.7h1.1v1.1h-1.1zM411.5,213.3h1.1v1.1h-1.1zM347.8,208.8h1.1v1.1h-1.1zM380.6,209.9h1.1v1.1h-1.1zM369.4,206.7h1.1v1.1h-1.1zM313.0,224.6h1.1v1.1h-1.1zM309.7,226.7h1.1v1.1h-1.1zM452.6,209.5h1.1v1.1h-1.1zM296.6,236.2h1.1v1.1h-1.1zM493.7,212.5h1.1v1.1h-1.1zM475.9,211.1h1.1v1.1h-1.1zM494.0,213.3h1.1v1.1h-1.1zM453.5,210.8h1.1v1.1h-1.1zM296.5,235.8h1.1v1.1h-1.1zM319.3,220.4h1.1v1.1h-1.1zM359.9,210.0h1.1v1.1h-1.1zM332.4,212.4h1.1v1.1h-1.1zM308.1,225.3h1.1v1.1h-1.1zM479.9,214.1h1.1v1.1h-1.1zM478.5,213.6h1.1v1.1h-1.1zM449.8,211.0h1.1v1.1h-1.1zM346.7,212.5h1.1v1.1h-1.1zM466.9,215.0h1.1v1.1h-1.1zM460.2,214.3h1.1v1.1h-1.1zM360.9,208.4h1.1v1.1h-1.1zM321.6,222.7h1.1v1.1h-1.1zM323.2,221.4h1.1v1.1h-1.1zM378.0,207.8h1.1v1.1h-1.1zM462.8,213.0h1.1v1.1h-1.1zM311.3,226.7h1.1v1.1h-1.1zM382.2,207.1h1.1v1.1h-1.1zM367.1,209.3h1.1v1.1h-1.1zM474.9,213.9h1.1v1.1h-1.1zM326.7,215.4h1.1v1.1h-1.1zM427.4,210.2h1.1v1.1h-1.1zM360.8,205.9h1.1v1.1h-1.1zM425.6,209.5h1.1v1.1h-1.1zM460.9,209.3h1.1v1.1h-1.1zM461.3,217.4h1.1v1.1h-1.1zM465.5,216.2h1.1v1.1h-1.1zM354.7,211.9h1.1v1.1h-1.1zM351.3,210.6h1.1v1.1h-1.1zM320.6,221.3h1.1v1.1h-1.1zM347.2,213.2h1.1v1.1h-1.1zM319.9,221.7h1.1v1.1h-1.1zM453.2,214.3h1.1v1.1h-1.1zM305.5,226.4h1.1v1.1h-1.1zM334.4,215.1h1.1v1.1h-1.1zM454.4,211.6h1.1v1.1h-1.1zM450.1,210.1h1.1v1.1h-1.1zM491.2,212.4h1.1v1.1h-1.1zM372.9,209.3h1.1v1.1h-1.1zM305.0,230.5h1.1v1.1h-1.1zM458.0,210.3h1.1v1.1h-1.1zM353.4,213.1h1.1v1.1h-1.1zM451.0,215.2h1.1v1.1h-1.1zM299.9,232.4h1.1v1.1h-1.1zM303.0,229.2h1.1v1.1h-1.1zM415.9,209.7h1.1v1.1h-1.1zM433.2,212.9h1.1v1.1h-1.1zM408.7,208.6h1.1v1.1h-1.1zM402.7,207.0h1.1v1.1h-1.1zM415.7,210.5h1.1v1.1h-1.1zM322.3,214.6h1.1v1.1h-1.1zM308.8,226.2h1.1v1.1h-1.1zM366.1,210.7h1.1v1.1h-1.1zM405.8,209.8h1.1v1.1h-1.1zM345.9,212.6h1.1v1.1h-1.1zM331.9,216.0h1.1v1.1h-1.1zM385.5,210.1h1.1v1.1h-1.1zM378.1,208.8h1.1v1.1h-1.1zM349.9,208.7h1.1v1.1h-1.1zM481.9,213.8h1.1v1.1h-1.1zM485.1,214.2h1.1v1.1h-1.1zM305.4,230.6h1.1v1.1h-1.1zM392.3,211.9h1.1v1.1h-1.1zM343.7,212.5h1.1v1.1h-1.1zM363.4,207.2h1.1v1.1h-1.1zM301.7,229.8h1.1v1.1h-1.1zM312.1,223.7h1.1v1.1h-1.1zM302.7,232.9h1.1v1.1h-1.1zM321.2,219.7h1.1v1.1h-1.1zM426.2,210.4h1.1v1.1h-1.1zM311.7,222.7h1.1v1.1h-1.1zM473.6,215.4h1.1v1.1h-1.1zM456.9,213.4h1.1v1.1h-1.1zM350.0,210.1h1.1v1.1h-1.1zM434.6,211.3h1.1v1.1h-1.1zM486.9,217.6h1.1v1.1h-1.1zM319.3,219.8h1.1v1.1h-1.1zM408.3,212.5h1.1v1.1h-1.1zM389.3,211.1h1.1v1.1h-1.1zM358.2,209.2h1.1v1.1h-1.1zM353.7,211.4h1.1v1.1h-1.1zM313.3,223.1h1.1v1.1h-1.1zM425.7,208.9h1.1v1.1h-1.1zM335.6,213.4h1.1v1.1h-1.1zM380.8,206.9h1.1v1.1h-1.1zM482.1,215.2h1.1v1.1h-1.1zM365.8,208.5h1.1v1.1h-1.1zM359.4,210.0h1.1v1.1h-1.1zM483.0,215.8h1.1v1.1h-1.1zM413.0,203.7h1.1v1.1h-1.1zM410.4,210.0h1.1v1.1h-1.1zM340.6,209.1h1.1v1.1h-1.1zM424.6,210.7h1.1v1.1h-1.1zM372.0,206.8h1.1v1.1h-1.1zM405.0,209.4h1.1v1.1h-1.1zM375.7,211.1h1.1v1.1h-1.1zM312.3,220.7h1.1v1.1h-1.1zM472.0,214.0h1.1v1.1h-1.1zM434.7,211.0h1.1v1.1h-1.1zM488.1,210.9h1.1v1.1h-1.1zM357.4,210.4h1.1v1.1h-1.1zM352.4,209.9h1.1v1.1h-1.1zM323.2,217.1h1.1v1.1h-1.1zM357.3,207.8h1.1v1.1h-1.1zM361.2,214.9h1.1v1.1h-1.1zM332.9,214.0h1.1v1.1h-1.1zM349.1,207.0h1.1v1.1h-1.1zM355.0,207.7h1.1v1.1h-1.1zM468.0,212.8h1.1v1.1h-1.1zM385.5,208.0h1.1v1.1h-1.1zM460.4,212.9h1.1v1.1h-1.1zM306.0,225.8h1.1v1.1h-1.1zM333.8,215.5h1.1v1.1h-1.1zM487.0,213.5h1.1v1.1h-1.1zM306.1,225.1h1.1v1.1h-1.1zM309.9,223.7h1.1v1.1h-1.1zM399.9,208.3h1.1v1.1h-1.1zM354.1,211.2h1.1v1.1h-1.1zM334.9,215.1h1.1v1.1h-1.1zM418.1,209.3h1.1v1.1h-1.1zM418.1,210.0h1.1v1.1h-1.1zM333.7,214.9h1.1v1.1h-1.1zM404.1,213.0h1.1v1.1h-1.1zM387.2,207.5h1.1v1.1h-1.1zM465.7,214.2h1.1v1.1h-1.1zM309.7,226.7h1.1v1.1h-1.1zM342.7,210.1h1.1v1.1h-1.1zM409.3,209.7h1.1v1.1h-1.1zM302.7,230.6h1.1v1.1h-1.1zM465.6,212.4h1.1v1.1h-1.1zM490.1,215.6h1.1v1.1h-1.1zM361.8,210.7h1.1v1.1h-1.1zM451.3,214.6h1.1v1.1h-1.1zM345.9,210.7h1.1v1.1h-1.1zM486.1,214.7h1.1v1.1h-1.1zM338.4,217.6h1.1v1.1h-1.1zM297.2,235.0h1.1v1.1h-1.1zM309.7,225.8h1.1v1.1h-1.1zM388.0,210.4h1.1v1.1h-1.1zM303.7,229.8h1.1v1.1h-1.1zM492.6,215.9h1.1v1.1h-1.1zM422.5,210.6h1.1v1.1h-1.1zM410.1,210.9h1.1v1.1h-1.1zM421.6,212.6h1.1v1.1h-1.1zM379.8,208.2h1.1v1.1h-1.1zM473.6,214.1h1.1v1.1h-1.1zM438.9,211.3h1.1v1.1h-1.1zM382.3,207.9h1.1v1.1h-1.1zM353.0,209.8h1.1v1.1h-1.1zM324.9,215.2h1.1v1.1h-1.1zM359.2,210.4h1.1v1.1h-1.1zM366.8,211.7h1.1v1.1h-1.1zM312.1,227.2h1.1v1.1h-1.1zM481.5,216.6h1.1v1.1h-1.1zM347.7,208.9h1.1v1.1h-1.1zM404.3,212.0h1.1v1.1h-1.1zM309.3,224.3h1.1v1.1h-1.1zM406.7,209.1h1.1v1.1h-1.1zM425.5,214.0h1.1v1.1h-1.1zM312.0,222.0h1.1v1.1h-1.1zM491.6,216.2h1.1v1.1h-1.1zM328.7,216.5h1.1v1.1h-1.1zM348.7,210.2h1.1v1.1h-1.1zM443.7,210.2h1.1v1.1h-1.1zM363.5,209.4h1.1v1.1h-1.1zM471.8,212.8h1.1v1.1h-1.1zM343.8,213.6h1.1v1.1h-1.1zM359.0,211.3h1.1v1.1h-1.1zM434.8,208.5h1.1v1.1h-1.1zM468.4,212.5h1.1v1.1h-1.1zM473.2,213.1h1.1v1.1h-1.1zM353.8,207.4h1.1v1.1h-1.1zM402.5,206.9h1.1v1.1h-1.1zM378.4,208.7h1.1v1.1h-1.1zM431.5,210.5h1.1v1.1h-1.1zM341.6,209.1h1.1v1.1h-1.1zM464.2,212.2h1.1v1.1h-1.1zM439.0,212.4h1.1v1.1h-1.1zM331.1,213.0h1.1v1.1h-1.1zM359.0,207.3h1.1v1.1h-1.1zM363.4,211.6h1.1v1.1h-1.1zM482.5,216.7h1.1v1.1h-1.1zM387.4,205.6h1.1v1.1h-1.1zM419.6,207.5h1.1v1.1h-1.1zM482.6,214.9h1.1v1.1h-1.1zM375.5,206.3h1.1v1.1h-1.1zM485.7,213.9h1.1v1.1h-1.1zM354.6,208.7h1.1v1.1h-1.1zM298.6,235.9h1.1v1.1h-1.1zM316.6,216.8h1.1v1.1h-1.1zM434.8,207.0h1.1v1.1h-1.1zM372.5,206.2h1.1v1.1h-1.1zM463.1,215.1h1.1v1.1h-1.1zM402.9,208.8h1.1v1.1h-1.1zM433.5,207.8h1.1v1.1h-1.1zM366.7,209.4h1.1v1.1h-1.1zM413.7,211.0h1.1v1.1h-1.1zM436.0,210.8h1.1v1.1h-1.1zM371.5,207.9h1.1v1.1h-1.1zM394.4,209.7h1.1v1.1h-1.1zM465.1,215.6h1.1v1.1h-1.1zM482.3,214.5h1.1v1.1h-1.1zM366.2,209.5h1.1v1.1h-1.1zM309.4,225.4h1.1v1.1h-1.1zM464.9,212.6h1.1v1.1h-1.1zM385.7,206.9h1.1v1.1h-1.1zM490.3,215.0h1.1v1.1h-1.1zM448.9,211.7h1.1v1.1h-1.1zM369.8,208.0h1.1v1.1h-1.1zM466.5,215.1h1.1v1.1h-1.1zM405.8,210.1h1.1v1.1h-1.1zM439.0,213.1h1.1v1.1h-1.1zM473.4,210.8h1.1v1.1h-1.1zM412.3,210.6h1.1v1.1h-1.1zM485.9,213.3h1.1v1.1h-1.1zM375.9,207.0h1.1v1.1h-1.1zM371.9,206.9h1.1v1.1h-1.1zM424.4,212.7h1.1v1.1h-1.1zM377.2,210.1h1.1v1.1h-1.1zM437.8,210.0h1.1v1.1h-1.1zM402.5,206.9h1.1v1.1h-1.1zM444.8,211.9h1.1v1.1h-1.1zM461.6,212.2h1.1v1.1h-1.1zM409.8,212.6h1.1v1.1h-1.1zM479.3,211.3h1.1v1.1h-1.1zM452.6,209.0h1.1v1.1h-1.1zM467.8,213.0h1.1v1.1h-1.1zM299.9,233.1h1.1v1.1h-1.1zM299.1,234.4h1.1v1.1h-1.1zM423.2,211.8h1.1v1.1h-1.1zM362.8,212.6h1.1v1.1h-1.1zM471.0,213.0h1.1v1.1h-1.1zM374.5,207.5h1.1v1.1h-1.1zM445.1,208.6h1.1v1.1h-1.1zM345.3,211.7h1.1v1.1h-1.1zM422.2,211.9h1.1v1.1h-1.1zM476.6,213.4h1.1v1.1h-1.1zM468.9,215.8h1.1v1.1h-1.1zM369.5,208.6h1.1v1.1h-1.1zM392.6,211.7h1.1v1.1h-1.1zM403.3,209.7h1.1v1.1h-1.1zM365.1,206.5h1.1v1.1h-1.1zM393.0,207.6h1.1v1.1h-1.1zM489.4,211.6h1.1v1.1h-1.1zM472.4,210.4h1.1v1.1h-1.1zM359.1,209.5h1.1v1.1h-1.1zM433.1,212.7h1.1v1.1h-1.1zM486.2,218.1h1.1v1.1h-1.1zM368.6,208.4h1.1v1.1h-1.1zM466.1,212.9h1.1v1.1h-1.1zM455.9,210.6h1.1v1.1h-1.1zM473.8,215.7h1.1v1.1h-1.1zM312.9,224.3h1.1v1.1h-1.1zM481.1,213.0h1.1v1.1h-1.1zM492.7,216.0h1.1v1.1h-1.1zM344.4,212.6h1.1v1.1h-1.1zM422.9,206.8h1.1v1.1h-1.1zM314.1,224.3h1.1v1.1h-1.1zM416.8,210.1h1.1v1.1h-1.1zM438.1,210.6h1.1v1.1h-1.1zM445.5,211.2h1.1v1.1h-1.1zM467.8,216.8h1.1v1.1h-1.1zM354.8,212.5h1.1v1.1h-1.1zM319.2,223.6h1.1v1.1h-1.1zM459.8,210.8h1.1v1.1h-1.1zM301.2,230.5h1.1v1.1h-1.1zM342.7,213.7h1.1v1.1h-1.1zM343.5,209.4h1.1v1.1h-1.1zM451.4,211.1h1.1v1.1h-1.1zM384.6,205.2h1.1v1.1h-1.1zM464.0,216.8h1.1v1.1h-1.1zM429.9,212.8h1.1v1.1h-1.1zM465.0,214.2h1.1v1.1h-1.1zM453.6,213.0h1.1v1.1h-1.1zM472.5,212.9h1.1v1.1h-1.1zM351.4,209.3h1.1v1.1h-1.1zM367.3,209.7h1.1v1.1h-1.1zM422.0,208.9h1.1v1.1h-1.1zM412.9,211.9h1.1v1.1h-1.1zM451.9,211.5h1.1v1.1h-1.1zM458.1,211.2h1.1v1.1h-1.1zM357.1,211.7h1.1v1.1h-1.1zM320.3,219.3h1.1v1.1h-1.1zM444.6,213.0h1.1v1.1h-1.1zM433.8,210.3h1.1v1.1h-1.1zM351.5,205.7h1.1v1.1h-1.1zM307.4,227.9h1.1v1.1h-1.1zM300.6,229.7h1.1v1.1h-1.1zM345.8,213.2h1.1v1.1h-1.1zM350.8,207.2h1.1v1.1h-1.1zM337.6,209.9h1.1v1.1h-1.1zM306.1,228.3h1.1v1.1h-1.1zM330.2,216.3h1.1v1.1h-1.1zM366.2,208.7h1.1v1.1h-1.1zM314.5,220.4h1.1v1.1h-1.1zM337.4,215.1h1.1v1.1h-1.1zM383.8,205.9h1.1v1.1h-1.1zM466.0,212.5h1.1v1.1h-1.1zM470.7,212.1h1.1v1.1h-1.1zM377.2,207.8h1.1v1.1h-1.1zM321.2,220.7h1.1v1.1h-1.1zM350.0,209.0h1.1v1.1h-1.1zM431.3,212.0h1.1v1.1h-1.1zM377.7,209.9h1.1v1.1h-1.1zM410.3,206.2h1.1v1.1h-1.1zM443.7,209.6h1.1v1.1h-1.1zM428.1,209.9h1.1v1.1h-1.1zM468.3,212.4h1.1v1.1h-1.1zM313.2,224.0h1.1v1.1h-1.1zM355.5,205.8h1.1v1.1h-1.1zM302.8,231.6h1.1v1.1h-1.1zM400.5,210.4h1.1v1.1h-1.1zM419.2,209.7h1.1v1.1h-1.1zM346.9,208.2h1.1v1.1h-1.1zM307.1,227.0h1.1v1.1h-1.1zM389.0,207.7h1.1v1.1h-1.1zM329.6,216.8h1.1v1.1h-1.1zM335.0,214.0h1.1v1.1h-1.1zM372.5,209.9h1.1v1.1h-1.1zM485.5,213.5h1.1v1.1h-1.1zM368.2,211.2h1.1v1.1h-1.1zM438.2,207.0h1.1v1.1h-1.1zM370.7,206.6h1.1v1.1h-1.1zM377.3,209.5h1.1v1.1h-1.1zM324.1,214.8h1.1v1.1h-1.1zM333.0,216.1h1.1v1.1h-1.1zM450.5,210.0h1.1v1.1h-1.1zM382.1,208.8h1.1v1.1h-1.1zM353.2,208.0h1.1v1.1h-1.1zM493.9,213.9h1.1v1.1h-1.1zM472.1,214.0h1.1v1.1h-1.1zM349.0,210.2h1.1v1.1h-1.1zM383.1,207.9h1.1v1.1h-1.1zM409.7,213.5h1.1v1.1h-1.1zM329.3,215.8h1.1v1.1h-1.1zM381.7,206.8h1.1v1.1h-1.1zM352.9,211.6h1.1v1.1h-1.1zM458.5,214.5h1.1v1.1h-1.1zM315.0,224.8h1.1v1.1h-1.1zM494.8,218.1h1.1v1.1h-1.1zM343.2,210.0h1.1v1.1h-1.1zM362.4,210.7h1.1v1.1h-1.1zM311.2,226.7h1.1v1.1h-1.1zM479.0,214.0h1.1v1.1h-1.1zM462.0,213.6h1.1v1.1h-1.1zM309.6,219.7h1.1v1.1h-1.1zM401.9,208.0h1.1v1.1h-1.1zM374.3,211.9h1.1v1.1h-1.1zM417.5,206.5h1.1v1.1h-1.1zM363.3,207.6h1.1v1.1h-1.1zM487.7,215.0h1.1v1.1h-1.1zM339.7,213.9h1.1v1.1h-1.1zM460.5,216.1h1.1v1.1h-1.1zM349.7,206.9h1.1v1.1h-1.1zM426.2,210.6h1.1v1.1h-1.1zM381.8,210.3h1.1v1.1h-1.1zM401.4,206.5h1.1v1.1h-1.1zM400.7,208.9h1.1v1.1h-1.1zM421.5,213.8h1.1v1.1h-1.1zM309.6,227.9h1.1v1.1h-1.1zM307.9,227.5h1.1v1.1h-1.1zM490.7,209.6h1.1v1.1h-1.1zM346.7,210.7h1.1v1.1h-1.1zM367.5,209.2h1.1v1.1h-1.1zM344.1,211.0h1.1v1.1h-1.1zM425.5,210.4h1.1v1.1h-1.1zM493.3,220.5h1.1v1.1h-1.1zM376.7,208.1h1.1v1.1h-1.1zM360.4,207.0h1.1v1.1h-1.1zM366.1,209.0h1.1v1.1h-1.1zM301.4,230.9h1.1v1.1h-1.1zM314.0,222.4h1.1v1.1h-1.1zM305.6,227.9h1.1v1.1h-1.1zM360.9,210.3h1.1v1.1h-1.1zM493.4,215.1h1.1v1.1h-1.1zM324.3,215.3h1.1v1.1h-1.1zM406.1,209.0h1.1v1.1h-1.1zM337.5,214.3h1.1v1.1h-1.1zM303.4,228.8h1.1v1.1h-1.1zM463.8,215.4h1.1v1.1h-1.1zM321.5,220.4h1.1v1.1h-1.1zM323.1,216.2h1.1v1.1h-1.1zM459.9,213.6h1.1v1.1h-1.1zM344.9,215.1h1.1v1.1h-1.1zM335.9,216.9h1.1v1.1h-1.1zM485.1,214.2h1.1v1.1h-1.1zM335.0,215.9h1.1v1.1h-1.1zM462.7,211.9h1.1v1.1h-1.1zM357.5,206.4h1.1v1.1h-1.1zM409.4,210.4h1.1v1.1h-1.1zM358.4,209.5h1.1v1.1h-1.1zM364.0,209.6h1.1v1.1h-1.1zM482.9,214.2h1.1v1.1h-1.1zM478.0,214.6h1.1v1.1h-1.1zM331.1,214.3h1.1v1.1h-1.1zM441.2,212.5h1.1v1.1h-1.1zM324.0,219.3h1.1v1.1h-1.1zM356.0,209.3h1.1v1.1h-1.1zM310.2,226.6h1.1v1.1h-1.1zM425.9,207.2h1.1v1.1h-1.1zM441.7,210.2h1.1v1.1h-1.1zM445.6,214.7h1.1v1.1h-1.1zM451.3,215.8h1.1v1.1h-1.1zM375.2,209.0h1.1v1.1h-1.1zM331.5,214.9h1.1v1.1h-1.1zM296.9,235.3h1.1v1.1h-1.1zM384.3,209.4h1.1v1.1h-1.1zM483.1,215.7h1.1v1.1h-1.1zM386.0,205.9h1.1v1.1h-1.1zM419.5,211.1h1.1v1.1h-1.1zM479.8,215.0h1.1v1.1h-1.1zM468.9,214.4h1.1v1.1h-1.1zM444.3,209.7h1.1v1.1h-1.1zM414.8,210.8h1.1v1.1h-1.1zM342.5,209.2h1.1v1.1h-1.1zM446.1,214.8h1.1v1.1h-1.1zM379.7,208.8h1.1v1.1h-1.1zM437.6,209.1h1.1v1.1h-1.1zM340.8,215.0h1.1v1.1h-1.1zM484.6,216.5h1.1v1.1h-1.1zM328.9,214.7h1.1v1.1h-1.1zM454.5,216.8h1.1v1.1h-1.1zM474.5,211.9h1.1v1.1h-1.1zM326.5,217.3h1.1v1.1h-1.1zM469.4,215.8h1.1v1.1h-1.1zM425.2,206.2h1.1v1.1h-1.1zM417.0,211.8h1.1v1.1h-1.1zM346.9,210.7h1.1v1.1h-1.1zM361.8,208.7h1.1v1.1h-1.1zM343.1,209.8h1.1v1.1h-1.1zM384.5,209.3h1.1v1.1h-1.1zM425.9,208.4h1.1v1.1h-1.1zM442.1,209.9h1.1v1.1h-1.1zM437.5,210.5h1.1v1.1h-1.1zM365.5,206.2h1.1v1.1h-1.1zM363.4,211.6h1.1v1.1h-1.1zM449.1,209.7h1.1v1.1h-1.1zM491.3,213.2h1.1v1.1h-1.1zM340.4,212.0h1.1v1.1h-1.1zM378.8,208.6h1.1v1.1h-1.1zM351.4,211.5h1.1v1.1h-1.1zM491.4,216.2h1.1v1.1h-1.1zM299.3,233.3h1.1v1.1h-1.1zM474.9,213.1h1.1v1.1h-1.1zM449.9,212.4h1.1v1.1h-1.1zM362.5,210.2h1.1v1.1h-1.1zM432.4,212.3h1.1v1.1h-1.1zM370.1,207.5h1.1v1.1h-1.1zM423.7,206.4h1.1v1.1h-1.1zM381.3,212.7h1.1v1.1h-1.1zM479.5,215.9h1.1v1.1h-1.1zM387.8,209.2h1.1v1.1h-1.1zM458.9,213.6h1.1v1.1h-1.1zM411.5,208.5h1.1v1.1h-1.1zM370.7,206.6h1.1v1.1h-1.1zM489.8,213.9h1.1v1.1h-1.1zM335.2,213.7h1.1v1.1h-1.1zM478.1,212.8h1.1v1.1h-1.1zM492.7,211.9h1.1v1.1h-1.1zM466.2,212.8h1.1v1.1h-1.1zM418.4,211.1h1.1v1.1h-1.1zM420.8,209.2h1.1v1.1h-1.1zM482.2,214.2h1.1v1.1h-1.1zM382.8,204.7h1.1v1.1h-1.1zM461.3,212.7h1.1v1.1h-1.1zM451.3,212.2h1.1v1.1h-1.1zM468.2,211.1h1.1v1.1h-1.1zM384.4,205.4h1.1v1.1h-1.1zM426.8,211.4h1.1v1.1h-1.1zM314.5,221.2h1.1v1.1h-1.1zM310.5,225.8h1.1v1.1h-1.1zM317.5,220.3h1.1v1.1h-1.1zM443.4,213.0h1.1v1.1h-1.1zM367.2,207.9h1.1v1.1h-1.1zM478.1,211.1h1.1v1.1h-1.1zM311.9,223.9h1.1v1.1h-1.1zM330.6,214.8h1.1v1.1h-1.1zM463.7,214.5h1.1v1.1h-1.1zM379.9,207.7h1.1v1.1h-1.1zM340.2,211.9h1.1v1.1h-1.1zM452.6,214.1h1.1v1.1h-1.1zM343.0,214.1h1.1v1.1h-1.1zM491.2,216.0h1.1v1.1h-1.1zM351.1,212.0h1.1v1.1h-1.1zM468.1,214.3h1.1v1.1h-1.1zM392.2,210.3h1.1v1.1h-1.1zM483.5,215.9h1.1v1.1h-1.1zM355.4,210.2h1.1v1.1h-1.1zM481.5,214.3h1.1v1.1h-1.1zM356.7,209.6h1.1v1.1h-1.1zM385.9,213.3h1.1v1.1h-1.1zM422.8,210.3h1.1v1.1h-1.1zM407.2,208.8h1.1v1.1h-1.1zM430.5,210.1h1.1v1.1h-1.1zM435.5,211.1h1.1v1.1h-1.1zM349.7,210.8h1.1v1.1h-1.1zM297.8,233.9h1.1v1.1h-1.1zM441.1,207.9h1.1v1.1h-1.1zM416.4,210.4h1.1v1.1h-1.1zM409.0,206.3h1.1v1.1h-1.1zM395.4,209.4h1.1v1.1h-1.1zM482.1,214.5h1.1v1.1h-1.1zM355.6,211.6h1.1v1.1h-1.1zM478.9,217.2h1.1v1.1h-1.1zM329.7,216.4h1.1v1.1h-1.1zM435.2,210.1h1.1v1.1h-1.1zM484.8,212.1h1.1v1.1h-1.1zM326.9,215.1h1.1v1.1h-1.1zM450.4,212.4h1.1v1.1h-1.1zM350.7,206.2h1.1v1.1h-1.1zM307.8,226.7h1.1v1.1h-1.1zM382.5,208.6h1.1v1.1h-1.1zM436.1,212.5h1.1v1.1h-1.1zM352.8,209.2h1.1v1.1h-1.1zM486.5,214.6h1.1v1.1h-1.1zM296.5,237.2h1.1v1.1h-1.1zM349.7,209.4h1.1v1.1h-1.1zM364.5,205.2h1.1v1.1h-1.1zM370.4,208.7h1.1v1.1h-1.1zM356.1,212.3h1.1v1.1h-1.1zM300.3,233.0h1.1v1.1h-1.1zM338.1,214.0h1.1v1.1h-1.1zM348.5,208.7h1.1v1.1h-1.1zM430.8,213.6h1.1v1.1h-1.1zM371.7,207.1h1.1v1.1h-1.1zM440.8,213.1h1.1v1.1h-1.1zM384.7,208.9h1.1v1.1h-1.1zM364.3,206.7h1.1v1.1h-1.1zM327.9,218.2h1.1v1.1h-1.1zM341.8,212.2h1.1v1.1h-1.1zM476.7,214.3h1.1v1.1h-1.1zM387.3,209.6h1.1v1.1h-1.1zM358.9,209.0h1.1v1.1h-1.1zM339.8,212.1h1.1v1.1h-1.1zM471.8,214.6h1.1v1.1h-1.1zM437.2,210.5h1.1v1.1h-1.1zM435.2,211.3h1.1v1.1h-1.1zM457.3,211.6h1.1v1.1h-1.1zM344.4,208.7h1.1v1.1h-1.1zM442.6,210.5h1.1v1.1h-1.1zM310.3,224.1h1.1v1.1h-1.1zM429.3,210.8h1.1v1.1h-1.1zM360.6,211.1h1.1v1.1h-1.1zM428.7,207.5h1.1v1.1h-1.1zM341.4,212.5h1.1v1.1h-1.1zM366.9,204.3h1.1v1.1h-1.1zM430.4,208.8h1.1v1.1h-1.1zM484.4,213.3h1.1v1.1h-1.1zM364.3,204.3h1.1v1.1h-1.1zM329.9,212.1h1.1v1.1h-1.1zM321.0,219.5h1.1v1.1h-1.1zM430.6,211.0h1.1v1.1h-1.1zM475.3,213.6h1.1v1.1h-1.1zM299.4,232.2h1.1v1.1h-1.1zM365.2,212.6h1.1v1.1h-1.1zM329.9,215.3h1.1v1.1h-1.1zM487.4,212.8h1.1v1.1h-1.1zM322.5,221.6h1.1v1.1h-1.1zM309.8,226.5h1.1v1.1h-1.1zM450.0,211.6h1.1v1.1h-1.1zM496.3,217.1h1.1v1.1h-1.1zM451.1,212.7h1.1v1.1h-1.1zM319.0,221.5h1.1v1.1h-1.1zM377.8,209.0h1.1v1.1h-1.1zM400.3,207.1h1.1v1.1h-1.1zM476.2,215.7h1.1v1.1h-1.1zM447.0,212.4h1.1v1.1h-1.1zM308.0,224.5h1.1v1.1h-1.1zM386.8,207.3h1.1v1.1h-1.1zM452.1,214.3h1.1v1.1h-1.1zM404.9,208.5h1.1v1.1h-1.1zM429.7,210.9h1.1v1.1h-1.1zM490.0,215.8h1.1v1.1h-1.1zM492.2,214.9h1.1v1.1h-1.1zM463.8,210.3h1.1v1.1h-1.1zM410.7,210.7h1.1v1.1h-1.1zM357.7,210.9h1.1v1.1h-1.1zM328.0,217.9h1.1v1.1h-1.1zM329.6,218.8h1.1v1.1h-1.1zM424.4,211.1h1.1v1.1h-1.1zM451.0,213.9h1.1v1.1h-1.1zM468.2,216.5h1.1v1.1h-1.1zM479.3,213.5h1.1v1.1h-1.1zM353.7,213.0h1.1v1.1h-1.1zM363.1,211.9h1.1v1.1h-1.1zM335.3,215.5h1.1v1.1h-1.1zM405.1,212.7h1.1v1.1h-1.1zM485.8,216.0h1.1v1.1h-1.1zM447.9,210.5h1.1v1.1h-1.1zM383.6,210.8h1.1v1.1h-1.1zM327.9,216.9h1.1v1.1h-1.1zM465.0,214.1h1.1v1.1h-1.1zM475.7,214.2h1.1v1.1h-1.1zM450.0,214.9h1.1v1.1h-1.1zM354.6,210.6h1.1v1.1h-1.1zM374.2,207.2h1.1v1.1h-1.1zM413.0,210.5h1.1v1.1h-1.1zM480.0,215.5h1.1v1.1h-1.1zM344.7,210.0h1.1v1.1h-1.1zM380.2,207.8h1.1v1.1h-1.1zM308.1,225.7h1.1v1.1h-1.1zM296.6,237.1h1.1v1.1h-1.1zM344.8,212.0h1.1v1.1h-1.1zM458.2,214.8h1.1v1.1h-1.1zM431.4,214.5h1.1v1.1h-1.1zM391.6,211.1h1.1v1.1h-1.1zM378.1,210.5h1.1v1.1h-1.1zM349.1,212.6h1.1v1.1h-1.1zM449.6,214.8h1.1v1.1h-1.1zM393.8,208.1h1.1v1.1h-1.1zM310.0,226.5h1.1v1.1h-1.1zM421.7,210.8h1.1v1.1h-1.1zM495.1,214.5h1.1v1.1h-1.1zM310.6,224.0h1.1v1.1h-1.1zM495.9,213.8h1.1v1.1h-1.1zM316.0,221.4h1.1v1.1h-1.1zM357.7,206.8h1.1v1.1h-1.1zM491.8,215.6h1.1v1.1h-1.1zM490.9,214.5h1.1v1.1h-1.1zM333.0,214.9h1.1v1.1h-1.1zM440.4,212.2h1.1v1.1h-1.1zM418.8,211.4h1.1v1.1h-1.1zM375.8,207.4h1.1v1.1h-1.1zM453.1,212.3h1.1v1.1h-1.1zM423.2,207.3h1.1v1.1h-1.1zM341.1,208.2h1.1v1.1h-1.1zM394.3,205.2h1.1v1.1h-1.1zM438.3,214.3h1.1v1.1h-1.1zM420.6,206.7h1.1v1.1h-1.1zM404.9,210.1h1.1v1.1h-1.1zM443.9,214.6h1.1v1.1h-1.1zM323.0,217.3h1.1v1.1h-1.1zM304.6,231.9h1.1v1.1h-1.1zM302.6,233.9h1.1v1.1h-1.1zM420.4,211.9h1.1v1.1h-1.1zM383.1,213.2h1.1v1.1h-1.1zM463.6,214.4h1.1v1.1h-1.1zM490.8,213.2h1.1v1.1h-1.1zM318.5,221.6h1.1v1.1h-1.1zM372.0,207.7h1.1v1.1h-1.1zM380.1,206.1h1.1v1.1h-1.1zM405.6,206.8h1.1v1.1h-1.1zM478.4,218.4h1.1v1.1h-1.1zM416.3,208.8h1.1v1.1h-1.1zM357.1,209.2h1.1v1.1h-1.1zM428.9,209.5h1.1v1.1h-1.1zM362.0,209.0h1.1v1.1h-1.1zM407.3,208.8h1.1v1.1h-1.1zM315.8,221.3h1.1v1.1h-1.1zM409.1,207.1h1.1v1.1h-1.1zM392.0,206.1h1.1v1.1h-1.1zM425.4,209.1h1.1v1.1h-1.1zM409.6,210.0h1.1v1.1h-1.1zM410.8,213.4h1.1v1.1h-1.1zM443.8,213.9h1.1v1.1h-1.1zM322.8,221.8h1.1v1.1h-1.1zM446.7,213.0h1.1v1.1h-1.1zM421.1,210.0h1.1v1.1h-1.1zM434.1,208.6h1.1v1.1h-1.1zM376.1,208.6h1.1v1.1h-1.1zM313.1,219.4h1.1v1.1h-1.1zM480.9,213.6h1.1v1.1h-1.1zM461.8,216.2h1.1v1.1h-1.1zM491.7,215.3h1.1v1.1h-1.1zM388.3,210.9h1.1v1.1h-1.1zM473.4,213.1h1.1v1.1h-1.1zM470.7,211.0h1.1v1.1h-1.1zM406.3,208.4h1.1v1.1h-1.1zM476.6,213.2h1.1v1.1h-1.1zM459.3,215.3h1.1v1.1h-1.1zM316.6,225.4h1.1v1.1h-1.1zM322.8,216.9h1.1v1.1h-1.1zM377.7,207.9h1.1v1.1h-1.1zM402.8,208.9h1.1v1.1h-1.1zM426.9,210.0h1.1v1.1h-1.1zM409.2,207.1h1.1v1.1h-1.1zM471.6,213.9h1.1v1.1h-1.1zM456.5,213.5h1.1v1.1h-1.1zM316.5,222.4h1.1v1.1h-1.1zM364.0,206.3h1.1v1.1h-1.1zM474.0,213.6h1.1v1.1h-1.1zM447.4,208.9h1.1v1.1h-1.1zM299.2,235.8h1.1v1.1h-1.1zM421.7,208.3h1.1v1.1h-1.1zM321.3,218.5h1.1v1.1h-1.1zM396.9,208.1h1.1v1.1h-1.1zM495.3,213.7h1.1v1.1h-1.1zM311.1,222.6h1.1v1.1h-1.1zM461.1,209.8h1.1v1.1h-1.1zM393.0,212.2h1.1v1.1h-1.1zM492.2,215.2h1.1v1.1h-1.1zM468.3,214.0h1.1v1.1h-1.1zM309.0,229.8h1.1v1.1h-1.1zM425.0,210.3h1.1v1.1h-1.1zM468.5,214.6h1.1v1.1h-1.1zM352.0,210.0h1.1v1.1h-1.1zM437.3,213.6h1.1v1.1h-1.1zM347.0,211.9h1.1v1.1h-1.1zM337.2,214.2h1.1v1.1h-1.1zM362.6,208.2h1.1v1.1h-1.1zM354.8,210.1h1.1v1.1h-1.1zM489.0,216.8h1.1v1.1h-1.1zM343.1,207.9h1.1v1.1h-1.1zM381.1,208.4h1.1v1.1h-1.1zM393.4,208.1h1.1v1.1h-1.1zM434.6,210.6h1.1v1.1h-1.1zM490.5,210.9h1.1v1.1h-1.1zM419.1,211.5h1.1v1.1h-1.1zM468.6,211.9h1.1v1.1h-1.1zM322.4,218.1h1.1v1.1h-1.1zM428.6,209.8h1.1v1.1h-1.1zM330.6,212.3h1.1v1.1h-1.1zM470.7,212.8h1.1v1.1h-1.1zM415.4,206.3h1.1v1.1h-1.1zM323.3,216.3h1.1v1.1h-1.1zM466.4,212.8h1.1v1.1h-1.1zM401.3,209.1h1.1v1.1h-1.1zM393.4,209.0h1.1v1.1h-1.1zM312.3,223.7h1.1v1.1h-1.1zM477.8,218.1h1.1v1.1h-1.1zM399.0,209.9h1.1v1.1h-1.1zM469.3,211.3h1.1v1.1h-1.1zM311.1,223.4h1.1v1.1h-1.1zM432.3,209.8h1.1v1.1h-1.1zM371.3,208.2h1.1v1.1h-1.1zM403.6,208.0h1.1v1.1h-1.1zM421.2,208.6h1.1v1.1h-1.1zM461.6,216.3h1.1v1.1h-1.1zM481.1,214.3h1.1v1.1h-1.1zM329.4,215.2h1.1v1.1h-1.1zM468.3,213.1h1.1v1.1h-1.1zM319.4,219.7h1.1v1.1h-1.1zM298.2,238.1h1.1v1.1h-1.1zM356.4,210.3h1.1v1.1h-1.1zM353.1,212.0h1.1v1.1h-1.1zM450.6,206.5h1.1v1.1h-1.1zM408.4,210.0h1.1v1.1h-1.1zM373.8,210.6h1.1v1.1h-1.1zM454.5,216.5h1.1v1.1h-1.1zM483.6,214.4h1.1v1.1h-1.1zM424.6,207.2h1.1v1.1h-1.1zM426.9,211.8h1.1v1.1h-1.1zM468.8,212.4h1.1v1.1h-1.1zM354.7,206.2h1.1v1.1h-1.1zM495.7,213.7h1.1v1.1h-1.1zM331.3,217.3h1.1v1.1h-1.1zM305.1,230.8h1.1v1.1h-1.1zM461.0,214.5h1.1v1.1h-1.1zM331.0,213.4h1.1v1.1h-1.1zM363.3,213.5h1.1v1.1h-1.1zM398.9,206.8h1.1v1.1h-1.1zM318.3,220.6h1.1v1.1h-1.1zM381.0,205.9h1.1v1.1h-1.1zM367.0,211.1h1.1v1.1h-1.1zM313.2,224.3h1.1v1.1h-1.1zM416.9,211.6h1.1v1.1h-1.1zM386.4,208.9h1.1v1.1h-1.1zM328.0,216.2h1.1v1.1h-1.1zM454.0,213.0h1.1v1.1h-1.1zM378.2,205.1h1.1v1.1h-1.1zM301.2,233.7h1.1v1.1h-1.1zM472.3,215.5h1.1v1.1h-1.1zM378.0,207.9h1.1v1.1h-1.1zM314.4,222.8h1.1v1.1h-1.1zM353.9,210.3h1.1v1.1h-1.1zM347.1,213.9h1.1v1.1h-1.1zM304.8,229.5h1.1v1.1h-1.1zM362.3,208.8h1.1v1.1h-1.1zM329.8,214.7h1.1v1.1h-1.1zM338.8,210.3h1.1v1.1h-1.1zM431.2,209.8h1.1v1.1h-1.1zM327.7,216.5h1.1v1.1h-1.1zM300.3,232.2h1.1v1.1h-1.1zM331.8,215.3h1.1v1.1h-1.1zM355.2,211.0h1.1v1.1h-1.1zM329.1,216.8h1.1v1.1h-1.1zM415.8,210.4h1.1v1.1h-1.1zM472.4,215.0h1.1v1.1h-1.1zM462.5,213.6h1.1v1.1h-1.1zM390.3,208.8h1.1v1.1h-1.1zM453.5,213.5h1.1v1.1h-1.1zM454.5,209.4h1.1v1.1h-1.1zM423.3,212.8h1.1v1.1h-1.1zM456.9,210.4h1.1v1.1h-1.1zM371.9,210.2h1.1v1.1h-1.1zM446.0,212.1h1.1v1.1h-1.1zM400.8,211.2h1.1v1.1h-1.1zM444.1,212.0h1.1v1.1h-1.1zM444.2,210.2h1.1v1.1h-1.1zM309.2,227.8h1.1v1.1h-1.1zM463.1,213.6h1.1v1.1h-1.1zM303.2,230.2h1.1v1.1h-1.1zM381.7,208.9h1.1v1.1h-1.1zM414.5,211.7h1.1v1.1h-1.1zM461.1,214.7h1.1v1.1h-1.1zM307.5,227.3h1.1v1.1h-1.1z" fill="#d22d1e" opacity="0.75"/>
<polyline points="293.6,245.8 294.1,244.8 294.6,243.9 295.1,244.6 295.6,242.2 296.1,240.9 296.6,241.4 297.1,239.4 297.6,238.8 298.1,238.3 298.6,235.9 299.1,237.7 299.6,236.5 300.1,235.1 300.6,233.7 301.1,234.5 301.6,235.2 302.1,232.6 302.6,231.7 303.1,232.7 303.6,230.3 304.1,229.2 304.6,230.6 305.1,230.0 305.6,230.0 306.1,229.3 306.6,229.8 307.1,228.9 307.6,228.2 308.1,227.9 308.6,228.7 309.1,228.6 309.6,228.2 310.1,227.7 310.6,223.4 311.1,225.4 311.6,225.7 312.1,225.9 312.6,223.8 313.1,226.6 313.6,225.1 314.1,223.9 314.6,224.4 315.1,223.6 315.6,222.8 316.1,223.7 316.6,222.4 317.1,221.1 317.6,221.5 318.1,221.7 318.6,220.3 319.1,222.2 319.6,219.5 320.1,221.9 320.6,220.6 321.1,218.4 321.6,219.0 322.1,219.7 322.6,217.9 323.1,216.5 323.6,217.4 324.1,218.9 324.6,215.1 325.1,216.8 325.6,215.9 326.1,215.5 326.6,214.9 327.1,214.6 327.6,215.7 328.1,214.9 328.6,213.0 329.1,215.3 329.6,212.1 330.1,213.8 330.6,213.0 331.1,213.7 331.6,212.6 332.1,213.0 332.6,211.6 333.1,212.3 333.6,211.4 334.1,212.9 334.6,209.8 335.1,211.4 335.6,210.4 336.1,209.8 336.6,208.8 337.1,209.5 337.6,207.3 338.1,207.1 338.6,208.9 339.1,206.3 339.6,209.1 340.1,207.1 340.6,207.3 341.1,206.8 341.6,206.9 342.1,205.9 342.6,205.5 343.1,205.5 343.6,206.4 344.1,206.2 344.6,206.1 345.1,204.9 345.6,204.1 346.1,202.3 346.6,204.4 347.1,204.3 347.6,202.8 348.1,203.7 348.6,204.0 349.1,202.5 349.6,203.2 350.1,202.2 350.6,200.0 351.1,201.0 351.6,200.8 352.1,201.5 352.6,199.9 353.1,200.1 353.6,199.4 354.1,200.1 354.6,200.0 355.1,200.7 355.6,200.3 356.1,199.5 356.6,199.4 357.1,199.0 357.6,198.8 358.1,200.1 358.6,195.9 359.1,198.0 359.6,198.3 360.1,198.9 360.6,196.5 361.1,197.7 361.6,198.1 362.1,196.6 362.6,194.9 363.1,196.3 363.6,195.2 364.1,196.9 364.6,195.2 365.1,197.6 365.6,195.8 366.1,194.6 366.6,194.7 367.1,193.9 367.6,195.2 368.1,196.0 368.6,194.1 369.1,195.0 369.6,192.9 370.1,193.9 370.6,195.7 371.1,191.7 371.6,194.1 372.1,193.8 372.6,190.6 373.1,190.8 373.6,191.0 374.1,192.8 374.6,191.2 375.1,191.2 375.6,191.9 376.1,191.1 376.6,191.1 377.1,190.3 377.6,191.6 378.1,189.5 378.6,191.8 379.1,189.6 379.6,189.0 380.1,190.3 380.6,189.9 381.1,187.3 381.6,189.4 382.1,187.7 382.6,188.0 383.1,189.5 383.6,187.7 384.1,188.8 384.6,187.9 385.1,190.0 385.6,187.9 386.1,186.6 386.6,186.6 387.1,186.6 387.6,187.5 388.1,187.3 388.6,188.1 389.1,187.2 389.6,187.0 390.1,187.1 390.6,186.5 391.1,186.8 391.6,187.2 392.1,187.0 392.6,185.6 393.1,184.2 393.6,185.1 394.1,186.1 394.6,183.2 395.1,185.1 395.6,185.9 396.1,184.8 396.6,184.1 397.1,186.9 397.6,186.4 398.1,184.7 398.6,186.1 399.1,186.0 399.6,183.5 400.1,187.2 400.6,183.5 401.1,184.0 401.6,183.1 402.1,184.2 402.6,182.7 403.1,183.9 403.6,184.9 404.1,183.9 404.6,183.3 405.1,185.0 405.6,182.5 406.1,184.2 406.6,182.9 407.1,183.3 407.6,183.0 408.1,183.0 408.6,182.7 409.1,181.8 409.6,181.9 410.1,182.8 410.6,182.2 411.1,181.0 411.6,181.4 412.1,181.3 412.6,181.8 413.1,181.9 413.6,181.7 414.1,180.9 414.6,181.4 415.1,179.9 415.6,178.3 416.1,181.0 416.6,179.3 417.1,179.9 417.6,179.6 418.1,181.3 418.6,179.4 419.1,180.8 419.6,179.9 420.1,179.1 420.6,178.7 421.1,180.7 421.6,180.5 422.1,180.8 422.6,181.8 423.1,180.2 423.6,180.1 424.1,179.7 424.6,179.8 425.1,179.3 425.6,178.7 426.1,181.5 426.6,177.6 427.1,179.7 427.6,179.8 428.1,179.5 428.6,178.3 429.1,179.0 429.6,178.7 430.1,178.0 430.6,179.0 431.1,178.6 431.6,178.4 432.1,179.6 432.6,177.8 433.1,179.2 433.6,178.1 434.1,179.1 434.6,178.7 435.1,178.8 435.6,177.6 436.1,177.7 436.6,177.6 437.1,178.6 437.6,179.1 438.1,179.4 438.6,177.7 439.1,178.3 439.6,176.5 440.1,175.9 440.6,177.2 441.1,177.3 441.6,176.4 442.1,176.1 442.6,178.3 443.1,176.9 443.6,176.0 444.1,180.0 444.6,177.8 445.1,177.2 445.6,178.1 446.1,176.7 446.6,178.9 447.1,175.8 447.6,175.9 448.1,177.1 448.6,176.4 449.1,178.5 449.6,175.4 450.1,176.2 450.6,177.1 451.1,177.4 451.6,177.8 452.1,177.1 452.6,178.9 453.1,176.2 453.6,176.7 454.1,177.4 454.6,176.1 455.1,176.1 455.6,175.9 456.1,175.6 456.6,175.1 457.1,175.6 457.6,174.6 458.1,176.4 458.6,174.4 459.1,178.0 459.6,177.6 460.1,176.9 460.6,175.6 461.1,175.1 461.6,176.9 462.1,175.8 462.6,176.1 463.1,174.8 463.6,176.5 464.1,174.6 464.6,175.4 465.1,173.5 465.6,174.6 466.1,175.7 466.6,174.7 467.1,174.6 467.6,175.8 468.1,174.9 468.6,176.1 469.1,172.4 469.6,175.3 470.1,175.2 470.6,173.1 471.1,173.3 471.6,175.4 472.1,173.4 472.6,173.8 473.1,175.0 473.6,174.0 474.1,174.7 474.6,173.3 475.1,174.4 475.6,175.1 476.1,174.3 476.6,171.8 477.1,174.5 477.6,173.9 478.1,172.9 478.6,175.1 479.1,171.9 479.6,175.5 480.1,172.9 480.6,175.1 481.1,173.4 481.6,172.1 482.1,173.4 482.6,173.6 483.1,173.8 483.6,174.2 484.1,172.2 484.6,173.5 485.1,173.7 485.6,172.7 486.1,171.9 486.6,171.9 487.1,173.5 487.6,173.5 488.1,171.8 488.6,171.3 489.1,173.8 489.6,170.9 490.1,172.6 490.6,171.6 491.1,170.6 491.6,172.4 492.1,172.0 492.6,173.6 493.1,174.4 493.6,171.9 494.1,173.0 494.6,173.0 495.1,171.4 495.6,171.0 496.1,173.4" fill="none" stroke="#3e56a8" stroke-width="1.2" opacity="1.0"/>
<polyline points="293.6,246.9 294.1,245.0 294.6,243.4 295.1,242.6 295.6,241.2 296.1,241.6 296.6,241.4 297.1,239.0 297.6,237.3 298.1,238.0 298.6,235.8 299.1,236.0 299.6,237.2 300.1,237.6 300.6,235.1 301.1,233.1 301.6,234.4 302.1,230.9 302.6,232.0 303.1,233.7 303.6,232.5 304.1,230.0 304.6,229.3 305.1,231.4 305.6,230.1 306.1,229.2 306.6,229.8 307.1,228.4 307.6,226.7 308.1,229.1 308.6,227.3 309.1,226.6 309.6,225.9 310.1,227.1 310.6,225.8 311.1,226.9 311.6,225.7 312.1,226.7 312.6,224.9 313.1,224.4 313.6,222.8 314.1,223.3 314.6,224.8 315.1,226.8 315.6,222.2 316.1,222.1 316.6,223.1 317.1,222.9 317.6,221.4 318.1,221.7 318.6,219.7 319.1,220.6 319.6,221.4 320.1,221.7 320.6,219.5 321.1,218.9 321.6,219.2 322.1,219.5 322.6,218.5 323.1,216.8 323.6,217.6 324.1,217.8 324.6,215.8 325.1,214.8 325.6,216.3 326.1,215.8 326.6,216.1 327.1,214.9 327.6,213.9 328.1,213.8 328.6,212.9 329.1,212.6 329.6,212.7 330.1,212.5 330.6,213.8 331.1,211.2 331.6,212.0 332.1,211.2 332.6,213.0 333.1,211.5 333.6,210.6 334.1,211.5 334.6,210.4 335.1,209.6 335.6,211.3 336.1,210.2 336.6,210.9 337.1,210.1 337.6,209.4 338.1,208.5 338.6,207.0 339.1,208.5 339.6,207.6 340.1,207.9 340.6,206.9 341.1,206.0 341.6,205.4 342.1,206.8 342.6,207.1 343.1,205.2 343.6,205.7 344.1,206.3 344.6,203.8 345.1,204.1 345.6,203.0 346.1,205.0 346.6,203.9 347.1,202.9 347.6,201.4 348.1,202.6 348.6,203.6 349.1,202.0 349.6,201.6 350.1,202.5 350.6,200.4 351.1,201.4 351.6,201.7 352.1,200.1 352.6,199.8 353.1,200.7 353.6,200.1 354.1,199.8 354.6,200.0 355.1,199.8 355.6,198.5 356.1,198.5 356.6,199.4 357.1,199.9 357.6,200.0 358.1,197.6 358.6,199.3 359.1,198.8 359.6,197.8 360.1,198.1 360.6,198.3 361.1,199.0 361.6,196.0 362.1,197.5 362.6,196.6 363.1,196.3 363.6,197.4 364.1,196.9 364.6,194.9 365.1,195.4 365.6,195.7 366.1,193.9 366.6,196.0 367.1,194.8 367.6,194.8 368.1,194.8 368.6,196.0 369.1,194.0 369.6,193.4 370.1,195.2 370.6,192.8 371.1,192.5 371.6,191.4 372.1,193.6 372.6,192.6 373.1,192.6 373.6,192.1 374.1,191.5 374.6,190.7 375.1,190.5 375.6,191.5 376.1,191.0 376.6,192.3 377.1,189.8 377.6,189.9 378.1,189.2 378.6,191.4 379.1,188.6 379.6,190.5 380.1,191.0 380.6,189.2 381.1,189.9 381.6,187.0 382.1,188.5 382.6,187.1 383.1,188.8 383.6,188.5 384.1,187.5 384.6,189.1 385.1,188.4 385.6,187.3 386.1,187.2 386.6,186.1 387.1,187.3 387.6,189.4 388.1,186.5 388.6,187.5 389.1,186.4 389.6,187.6 390.1,187.1 390.6,186.3 391.1,184.6 391.6,185.8 392.1,187.3 392.6,185.8 393.1,186.5 393.6,185.3 394.1,183.8 394.6,186.0 395.1,185.8 395.6,184.8 396.1,184.9 396.6,185.4 397.1,184.4 397.6,185.3 398.1,184.6 398.6,182.4 399.1,184.5 399.6,183.9 400.1,183.6 400.6,184.7 401.1,183.7 401.6,184.6 402.1,185.1 402.6,184.1 403.1,182.3 403.6,183.0 404.1,184.5 404.6,183.3 405.1,182.6 405.6,183.2 406.1,183.7 406.6,183.4 407.1,183.6 407.6,182.1 408.1,182.5 408.6,182.4 409.1,182.5 409.6,180.4 410.1,182.1 410.6,180.9 411.1,183.5 411.6,183.5 412.1,183.5 412.6,182.6 413.1,181.2 413.6,182.5 414.1,181.3 414.6,181.9 415.1,180.3 415.6,180.6 416.1,181.5 416.6,182.7 417.1,180.8 417.6,183.0 418.1,183.4 418.6,179.3 419.1,180.4 419.6,179.4 420.1,180.2 420.6,179.7 421.1,180.1 421.6,181.0 422.1,180.9 422.6,180.2 423.1,179.9 423.6,179.9 424.1,179.9 424.6,180.2 425.1,179.6 425.6,180.1 426.1,178.2 426.6,180.2 427.1,181.1 427.6,179.5 428.1,177.9 428.6,180.6 429.1,178.8 429.6,176.2 430.1,178.9 430.6,179.6 431.1,179.4 431.6,180.2 432.1,179.5 432.6,179.0 433.1,176.8 433.6,177.6 434.1,178.9 434.6,179.3 435.1,177.6 435.6,177.9 436.1,179.0 436.6,176.6 437.1,176.5 437.6,178.1 438.1,178.5 438.6,177.8 439.1,175.9 439.6,178.2 440.1,176.8 440.6,178.7 441.1,177.9 441.6,178.2 442.1,178.5 442.6,177.3 443.1,178.6 443.6,178.9 444.1,178.0 444.6,178.9 445.1,176.9 445.6,178.4 446.1,177.7 446.6,176.4 447.1,177.2 447.6,176.7 448.1,176.7 448.6,177.2 449.1,178.1 449.6,176.7 450.1,177.1 450.6,175.5 451.1,177.0 451.6,178.0 452.1,177.6 452.6,177.2 453.1,176.1 453.6,175.6 454.1,176.4 454.6,175.2 455.1,175.2 455.6,177.3 456.1,175.4 456.6,178.0 457.1,174.8 457.6,176.6 458.1,174.9 458.6,176.2 459.1,174.9 459.6,176.0 460.1,175.7 460.6,175.4 461.1,176.3 461.6,177.2 462.1,175.1 462.6,176.5 463.1,175.6 463.6,175.4 464.1,177.6 464.6,173.2 465.1,174.6 465.6,173.5 466.1,174.9 466.6,174.9 467.1,178.9 467.6,175.4 468.1,176.7 468.6,176.2 469.1,174.4 469.6,175.3 470.1,176.4 470.6,174.9 471.1,174.8 471.6,175.1 472.1,173.0 472.6,173.6 473.1,174.7 473.6,174.9 474.1,173.4 474.6,173.9 475.1,174.0 475.6,174.0 476.1,174.7 476.6,174.1 477.1,174.1 477.6,172.5 478.1,172.8 478.6,174.1 479.1,172.1 479.6,173.9 480.1,172.9 480.6,172.7 481.1,174.1 481.6,172.8 482.1,172.5 482.6,172.6 483.1,173.3 483.6,175.9 484.1,171.0 484.6,173.1 485.1,172.8 485.6,173.9 486.1,172.5 486.6,170.4 487.1,174.1 487.6,171.7 488.1,172.6 488.6,171.3 489.1,171.5 489.6,172.0 490.1,173.3 490.6,173.3 491.1,171.8 491.6,172.8 492.1,171.9 492.6,172.3 493.1,172.3 493.6,172.7 494.1,171.4 494.6,171.8 495.1,172.1 495.6,172.0 496.1,171.0" fill="none" stroke="#3e56a8" stroke-width="1.2" opacity="1.0"/>
<polyline points="293.6,248.5 294.1,243.7 294.6,243.2 295.1,241.2 295.6,240.9 296.1,236.2 296.6,239.2 297.1,235.9 297.6,234.0 298.1,234.5 298.6,235.9 299.1,233.5 299.6,231.1 300.1,231.3 300.6,232.5 301.1,229.3 301.6,230.0 302.1,229.4 302.6,231.4 303.1,228.5 303.6,229.6 304.1,227.2 304.6,226.7 305.1,228.1 305.6,227.3 306.1,224.6 306.6,226.5 307.1,226.2 307.6,224.6 308.1,225.0 308.6,224.7 309.1,223.6 309.6,223.2 310.1,222.7 310.6,222.8 311.1,221.4 311.6,222.4 312.1,220.7 312.6,221.9 313.1,221.5 313.6,220.2 314.1,221.8 314.6,222.5 315.1,221.6 315.6,218.6 316.1,220.9 316.6,219.5 317.1,218.9 317.6,218.0 318.1,218.2 318.6,219.2 319.1,217.9 319.6,216.6 320.1,215.9 320.6,215.7 321.1,216.3 321.6,217.2 322.1,213.8 322.6,214.5 323.1,213.7 323.6,213.0 324.1,213.7 324.6,213.5 325.1,211.2 325.6,211.3 326.1,213.2 326.6,212.0 327.1,211.9 327.6,210.5 328.1,210.3 328.6,210.9 329.1,209.6 329.6,208.7 330.1,209.5 330.6,210.1 331.1,207.9 331.6,209.7 332.1,209.0 332.6,207.2 333.1,207.7 333.6,207.4 334.1,207.8 334.6,207.5 335.1,205.3 335.6,205.0 336.1,207.0 336.6,205.8 337.1,205.9 337.6,205.5 338.1,206.4 338.6,203.4 339.1,205.4 339.6,203.2 340.1,204.4 340.6,204.8 341.1,201.8 341.6,203.3 342.1,202.3 342.6,202.0 343.1,202.1 343.6,200.7 344.1,200.5 344.6,201.8 345.1,201.8 345.6,200.1 346.1,198.9 346.6,202.4 347.1,200.9 347.6,199.9 348.1,198.3 348.6,198.5 349.1,199.1 349.6,197.6 350.1,199.9 350.6,198.2 351.1,198.2 351.6,196.6 352.1,196.5 352.6,196.4 353.1,197.2 353.6,196.5 354.1,196.2 354.6,196.6 355.1,196.3 355.6,197.4 356.1,195.5 356.6,194.5 357.1,195.3 357.6,196.6 358.1,194.4 358.6,194.8 359.1,194.2 359.6,194.7 360.1,194.4 360.6,193.2 361.1,193.5 361.6,194.5 362.1,194.5 362.6,194.1 363.1,193.9 363.6,192.5 364.1,192.3 364.6,193.3 365.1,191.1 365.6,192.0 366.1,190.0 366.6,191.2 367.1,190.7 367.6,190.0 368.1,191.5 368.6,190.0 369.1,190.1 369.6,190.0 370.1,189.3 370.6,191.2 371.1,189.0 371.6,189.5 372.1,187.8 372.6,188.4 373.1,188.3 373.6,188.1 374.1,187.6 374.6,188.1 375.1,189.3 375.6,187.5 376.1,187.3 376.6,186.8 377.1,189.5 377.6,188.5 378.1,187.3 378.6,187.2 379.1,185.7 379.6,186.0 380.1,186.2 380.6,186.0 381.1,184.9 381.6,184.8 382.1,185.9 382.6,185.6 383.1,183.0 383.6,185.0 384.1,186.0 384.6,184.0 385.1,184.7 385.6,182.9 386.1,185.0 386.6,183.0 387.1,182.7 387.6,183.5 388.1,186.0 388.6,182.9 389.1,182.2 389.6,183.7 390.1,183.4 390.6,184.6 391.1,181.7 391.6,181.2 392.1,182.3 392.6,182.9 393.1,182.8 393.6,183.4 394.1,180.7 394.6,181.3 395.1,181.8 395.6,182.7 396.1,182.2 396.6,181.2 397.1,180.5 397.6,182.3 398.1,182.2 398.6,183.9 399.1,180.9 399.6,182.6 400.1,179.7 400.6,180.3 401.1,180.0 401.6,180.2 402.1,179.6 402.6,179.9 403.1,180.3 403.6,179.8 404.1,180.7 404.6,179.9 405.1,179.9 405.6,181.2 406.1,180.0 406.6,179.7 407.1,179.5 407.6,179.4 408.1,179.8 408.6,178.4 409.1,180.2 409.6,180.5 410.1,180.0 410.6,178.2 411.1,177.0 411.6,178.1 412.1,178.5 412.6,179.1 413.1,178.0 413.6,177.8 414.1,179.4 414.6,177.2 415.1,178.8 415.6,178.5 416.1,176.2 416.6,177.7 417.1,176.8 417.6,176.3 418.1,175.3 418.6,175.5 419.1,177.4 419.6,176.5 420.1,177.1 420.6,175.7 421.1,176.3 421.6,176.3 422.1,175.0 422.6,174.8 423.1,176.8 423.6,176.4 424.1,175.3 424.6,176.1 425.1,176.8 425.6,177.8 426.1,175.1 426.6,176.5 427.1,177.9 427.6,175.9 428.1,177.2 428.6,173.2 429.1,177.1 429.6,175.6 430.1,173.7 430.6,176.3 431.1,176.5 431.6,176.6 432.1,176.5 432.6,175.3 433.1,174.5 433.6,174.8 434.1,175.1 434.6,175.5 435.1,174.6 435.6,175.1 436.1,175.8 436.6,175.2 437.1,177.1 437.6,176.9 438.1,173.6 438.6,174.2 439.1,173.4 439.6,173.5 440.1,175.1 440.6,173.5 441.1,173.4 441.6,174.1 442.1,175.1 442.6,173.9 443.1,173.9 443.6,175.1 444.1,174.6 444.6,174.5 445.1,174.9 445.6,173.0 446.1,174.1 446.6,173.2 447.1,174.8 447.6,174.5 448.1,172.7 448.6,174.9 449.1,172.4 449.6,174.7 450.1,173.7 450.6,172.5 451.1,172.2 451.6,173.0 452.1,173.2 452.6,172.5 453.1,173.7 453.6,171.7 454.1,173.0 454.6,173.0 455.1,171.1 455.6,173.2 456.1,171.6 456.6,170.3 457.1,172.1 457.6,172.4 458.1,173.5 458.6,172.0 459.1,173.9 459.6,173.8 460.1,173.4 460.6,173.6 461.1,172.6 461.6,171.6 462.1,172.8 462.6,173.0 463.1,172.2 463.6,171.7 464.1,170.4 464.6,172.5 465.1,172.1 465.6,170.4 466.1,171.8 466.6,172.3 467.1,171.5 467.6,172.3 468.1,172.2 468.6,169.9 469.1,171.0 469.6,171.8 470.1,172.1 470.6,172.6 471.1,169.2 471.6,171.0 472.1,171.7 472.6,172.1 473.1,172.5 473.6,169.9 474.1,170.4 474.6,169.7 475.1,171.5 475.6,169.3 476.1,171.7 476.6,171.4 477.1,170.9 477.6,168.2 478.1,169.6 478.6,171.0 479.1,168.8 479.6,169.9 480.1,170.0 480.6,170.9 481.1,170.2 481.6,170.2 482.1,169.4 482.6,169.8 483.1,169.6 483.6,170.4 484.1,169.5 484.6,170.6 485.1,167.8 485.6,170.6 486.1,169.2 486.6,170.5 487.1,169.4 487.6,170.1 488.1,170.7 488.6,168.6 489.1,169.1 489.6,168.8 490.1,169.2 490.6,167.3 491.1,168.7 491.6,168.5 492.1,168.0 492.6,168.5 493.1,167.1 493.6,170.0 494.1,169.0 494.6,170.3 495.1,167.6 495.6,167.2 496.1,168.6" fill="none" stroke="#d22d1e" stroke-width="1.2" opacity="1.0"/>
<polyline points="293.6,245.2 294.1,244.4 294.6,241.7 295.1,240.7 295.6,239.9 296.1,238.4 296.6,239.0 297.1,236.7 297.6,233.9 298.1,235.4 298.6,232.3 299.1,233.1 299.6,231.1 300.1,230.9 300.6,232.5 301.1,230.1 301.6,229.5 302.1,229.1 302.6,228.9 303.1,230.2 303.6,227.1 304.1,226.6 304.6,228.0 305.1,225.5 305.6,226.3 306.1,227.4 306.6,225.9 307.1,225.1 307.6,224.5 308.1,223.9 308.6,223.9 309.1,224.2 309.6,225.0 310.1,224.4 310.6,222.5 311.1,222.0 311.6,223.1 312.1,220.3 312.6,221.4 313.1,221.2 313.6,220.1 314.1,219.9 314.6,220.9 315.1,218.7 315.6,219.1 316.1,219.0 316.6,219.4 317.1,217.6 317.6,219.6 318.1,217.9 318.6,217.5 319.1,217.0 319.6,216.3 320.1,215.6 320.6,217.3 321.1,215.9 321.6,215.2 322.1,215.9 322.6,213.8 323.1,214.7 323.6,213.7 324.1,212.4 324.6,213.7 325.1,211.1 325.6,212.9 326.1,211.1 326.6,212.0 327.1,212.7 327.6,211.5 328.1,210.1 328.6,210.3 329.1,209.7 329.6,208.6 330.1,208.4 330.6,209.2 331.1,209.4 331.6,206.8 332.1,208.2 332.6,208.5 333.1,207.8 333.6,206.4 334.1,208.1 334.6,205.6 335.1,207.2 335.6,207.8 336.1,204.0 336.6,205.9 337.1,205.7 337.6,205.3 338.1,204.1 338.6,204.2 339.1,202.9 339.6,204.1 340.1,204.2 340.6,202.7 341.1,202.2 341.6,202.3 342.1,202.5 342.6,202.3 343.1,201.9 343.6,201.8 344.1,200.1 344.6,198.4 345.1,201.5 345.6,202.0 346.1,198.9 346.6,199.4 347.1,200.1 347.6,200.5 348.1,199.9 348.6,200.3 349.1,198.7 349.6,198.9 350.1,198.7 350.6,197.6 351.1,199.0 351.6,198.2 352.1,198.3 352.6,196.7 353.1,197.9 353.6,195.6 354.1,196.8 354.6,193.7 355.1,195.1 355.6,196.6 356.1,195.2 356.6,195.6 357.1,193.7 357.6,196.6 358.1,195.4 358.6,194.6 359.1,194.9 359.6,194.6 360.1,195.5 360.6,194.1 361.1,192.3 361.6,193.3 362.1,194.6 362.6,193.7 363.1,192.5 363.6,193.3 364.1,192.7 364.6,192.9 365.1,190.6 365.6,191.1 366.1,192.4 366.6,191.3 367.1,191.7 367.6,193.0 368.1,190.6 368.6,190.9 369.1,189.9 369.6,189.6 370.1,189.9 370.6,188.3 371.1,187.4 371.6,190.6 372.1,188.9 372.6,189.9 373.1,188.7 373.6,188.5 374.1,188.8 374.6,188.6 375.1,186.5 375.6,188.7 376.1,186.4 376.6,187.4 377.1,189.5 377.6,186.9 378.1,188.3 378.6,186.1 379.1,186.9 379.6,186.2 380.1,186.4 380.6,185.0 381.1,184.7 381.6,185.8 382.1,183.8 382.6,184.4 383.1,185.7 383.6,184.3 384.1,183.9 384.6,183.5 385.1,184.6 385.6,183.9 386.1,184.3 386.6,183.8 387.1,185.7 387.6,183.3 388.1,181.7 388.6,183.6 389.1,183.3 389.6,183.4 390.1,181.5 390.6,184.1 391.1,182.8 391.6,182.7 392.1,181.0 392.6,182.9 393.1,182.3 393.6,183.5 394.1,181.7 394.6,180.8 395.1,182.0 395.6,180.9 396.1,182.1 396.6,180.5 397.1,181.3 397.6,181.1 398.1,181.2 398.6,180.6 399.1,180.3 399.6,180.9 400.1,180.3 400.6,180.9 401.1,180.4 401.6,178.4 402.1,180.4 402.6,181.7 403.1,180.5 403.6,180.7 404.1,180.5 404.6,179.5 405.1,178.5 405.6,180.5 406.1,180.6 406.6,180.1 407.1,179.8 407.6,179.7 408.1,179.2 408.6,179.4 409.1,179.0 409.6,179.2 410.1,177.8 410.6,178.0 411.1,179.1 411.6,178.1 412.1,176.0 412.6,178.3 413.1,175.9 413.6,179.8 414.1,178.6 414.6,178.4 415.1,177.0 415.6,176.5 416.1,177.3 416.6,177.4 417.1,176.5 417.6,177.3 418.1,177.7 418.6,177.6 419.1,175.9 419.6,174.7 420.1,176.7 420.6,176.0 421.1,177.0 421.6,178.1 422.1,178.0 422.6,176.6 423.1,177.4 423.6,177.8 424.1,176.2 424.6,176.4 425.1,176.9 425.6,175.9 426.1,175.4 426.6,175.2 427.1,175.8 427.6,175.2 428.1,176.5 428.6,175.3 429.1,177.0 429.6,176.7 430.1,174.3 430.6,176.5 431.1,175.0 431.6,176.7 432.1,175.8 432.6,175.2 433.1,175.9 433.6,174.6 434.1,175.4 434.6,175.4 435.1,174.9 435.6,175.3 436.1,174.0 436.6,175.4 437.1,173.7 437.6,175.4 438.1,175.2 438.6,175.4 439.1,174.1 439.6,177.5 440.1,174.3 440.6,174.6 441.1,173.7 441.6,175.7 442.1,173.9 442.6,175.2 443.1,173.3 443.6,174.4 444.1,173.7 444.6,174.9 445.1,173.7 445.6,173.1 446.1,174.3 446.6,172.7 447.1,172.9 447.6,174.4 448.1,171.9 448.6,174.3 449.1,173.2 449.6,172.6 450.1,173.7 450.6,174.0 451.1,172.8 451.6,173.1 452.1,174.0 452.6,173.9 453.1,173.1 453.6,172.3 454.1,172.1 454.6,172.4 455.1,173.5 455.6,173.4 456.1,173.1 456.6,174.0 457.1,172.4 457.6,172.3 458.1,172.2 458.6,174.3 459.1,170.5 459.6,172.7 460.1,172.8 460.6,172.3 461.1,174.4 461.6,173.3 462.1,172.9 462.6,171.2 463.1,172.5 463.6,171.6 464.1,171.9 464.6,172.0 465.1,171.3 465.6,172.3 466.1,173.2 466.6,172.6 467.1,171.8 467.6,169.7 468.1,172.5 468.6,172.4 469.1,171.2 469.6,170.8 470.1,171.9 470.6,170.4 471.1,171.9 471.6,170.0 472.1,170.1 472.6,171.0 473.1,169.5 473.6,170.8 474.1,171.3 474.6,169.5 475.1,171.5 475.6,170.1 476.1,171.1 476.6,170.7 477.1,170.0 477.6,169.9 478.1,168.7 478.6,169.6 479.1,169.5 479.6,171.7 480.1,171.1 480.6,168.8 481.1,170.7 481.6,170.1 482.1,169.5 482.6,170.3 483.1,170.5 483.6,169.2 484.1,169.4 484.6,169.8 485.1,168.6 485.6,169.7 486.1,169.4 486.6,168.7 487.1,168.5 487.6,169.5 488.1,170.0 488.6,169.5 489.1,168.3 489.6,169.7 490.1,169.1 490.6,169.5 491.1,170.0 491.6,168.0 492.1,168.6 492.6,168.2 493.1,167.8 493.6,170.5 494.1,169.4 494.6,166.8 495.1,168.8 495.6,167.9 496.1,169.4" fill="none" stroke="#d22d1e" stroke-width="1.2" opacity="1.0"/>
<polyline points="293.6,246.9 294.1,244.0 294.6,242.6 295.1,241.5 295.6,239.8 296.1,238.2 296.6,237.0 297.1,236.7 297.6,234.0 298.1,234.4 298.6,233.6 299.1,232.5 299.6,233.2 300.1,230.3 300.6,230.8 301.1,229.8 301.6,230.8 302.1,229.2 302.6,229.3 303.1,229.2 303.6,226.5 304.1,228.4 304.6,226.7 305.1,226.8 305.6,226.6 306.1,227.2 306.6,226.8 307.1,227.6 307.6,225.4 308.1,224.3 308.6,223.9 309.1,224.9 309.6,225.6 310.1,223.8 310.6,222.5 311.1,223.1 311.6,222.8 312.1,222.2 312.6,221.0 313.1,218.7 313.6,220.7 314.1,222.1 314.6,220.9 315.1,217.9 315.6,220.0 316.1,217.6 316.6,221.6 317.1,219.2 317.6,217.3 318.1,219.1 318.6,217.0 319.1,218.1 319.6,217.0 320.1,215.3 320.6,216.9 321.1,214.3 321.6,216.8 322.1,215.0 322.6,213.4 323.1,212.1 323.6,215.6 324.1,215.0 324.6,211.6 325.1,214.5 325.6,212.5 326.1,211.8 326.6,211.6 327.1,211.1 327.6,212.7 328.1,210.9 328.6,208.4 329.1,212.5 329.6,210.8 330.1,208.3 330.6,208.8 331.1,207.9 331.6,208.7 332.1,208.8 332.6,208.3 333.1,207.1 333.6,206.6 334.1,208.2 334.6,206.8 335.1,209.2 335.6,205.4 336.1,206.9 336.6,205.8 337.1,204.6 337.6,206.7 338.1,205.0 338.6,203.6 339.1,204.0 339.6,205.2 340.1,202.4 340.6,205.0 341.1,204.0 341.6,202.6 342.1,204.1 342.6,204.3 343.1,202.7 343.6,202.0 344.1,203.6 344.6,202.9 345.1,199.9 345.6,200.4 346.1,200.2 346.6,199.7 347.1,198.2 347.6,200.6 348.1,199.5 348.6,199.2 349.1,200.4 349.6,198.0 350.1,198.3 350.6,198.4 351.1,197.4 351.6,197.5 352.1,198.3 352.6,197.2 353.1,198.5 353.6,195.9 354.1,196.8 354.6,194.7 355.1,196.0 355.6,195.1 356.1,197.3 356.6,196.4 357.1,195.9 357.6,197.2 358.1,196.6 358.6,195.6 359.1,193.8 359.6,192.7 360.1,194.2 360.6,193.6 361.1,193.1 361.6,193.3 362.1,191.6 362.6,194.9 363.1,191.7 363.6,192.1 364.1,193.3 364.6,190.6 365.1,193.3 365.6,193.1 366.1,191.5 366.6,190.4 367.1,190.9 367.6,189.1 368.1,192.5 368.6,190.8 369.1,189.7 369.6,189.2 370.1,190.7 370.6,191.5 371.1,188.1 371.6,188.7 372.1,187.1 372.6,189.6 373.1,188.8 373.6,191.0 374.1,188.1 374.6,187.5 375.1,187.0 375.6,188.6 376.1,185.6 376.6,188.1 377.1,187.4 377.6,186.3 378.1,185.7 378.6,187.8 379.1,188.5 379.6,185.7 380.1,186.7 380.6,187.9 381.1,185.0 381.6,185.3 382.1,184.0 382.6,185.1 383.1,185.0 383.6,184.5 384.1,184.0 384.6,182.9 385.1,183.0 385.6,183.3 386.1,185.0 386.6,183.5 387.1,183.0 387.6,184.6 388.1,184.3 388.6,182.7 389.1,182.7 389.6,184.1 390.1,183.6 390.6,182.1 391.1,183.2 391.6,182.8 392.1,184.0 392.6,181.6 393.1,183.5 393.6,182.8 394.1,181.1 394.6,183.3 395.1,183.0 395.6,180.4 396.1,184.0 396.6,180.4 397.1,180.5 397.6,181.1 398.1,182.2 398.6,181.9 399.1,181.0 399.6,182.6 400.1,181.4 400.6,182.4 401.1,184.0 401.6,180.9 402.1,177.6 402.6,179.9 403.1,179.1 403.6,180.3 404.1,180.2 404.6,178.6 405.1,178.6 405.6,179.5 406.1,179.5 406.6,176.6 407.1,180.6 407.6,179.4 408.1,179.3 408.6,179.5 409.1,177.9 409.6,178.9 410.1,180.1 410.6,180.0 411.1,179.2 411.6,178.2 412.1,177.5 412.6,179.8 413.1,178.8 413.6,177.6 414.1,175.4 414.6,176.9 415.1,175.5 415.6,179.1 416.1,177.8 416.6,176.6 417.1,177.0 417.6,180.3 418.1,178.6 418.6,175.5 419.1,176.8 419.6,175.5 420.1,174.8 420.6,176.9 421.1,179.5 421.6,178.4 422.1,176.6 422.6,176.0 423.1,176.6 423.6,177.5 424.1,174.5 424.6,174.0 425.1,178.3 425.6,176.4 426.1,177.9 426.6,176.2 427.1,177.6 427.6,175.1 428.1,176.4 428.6,177.6 429.1,176.9 429.6,175.1 430.1,176.6 430.6,174.8 431.1,173.8 431.6,176.1 432.1,177.0 432.6,176.3 433.1,173.8 433.6,176.3 434.1,176.0 434.6,174.6 435.1,172.1 435.6,176.3 436.1,176.1 436.6,175.5 437.1,172.8 437.6,173.1 438.1,176.0 438.6,175.7 439.1,175.3 439.6,174.3 440.1,175.1 440.6,173.9 441.1,174.1 441.6,173.4 442.1,174.7 442.6,173.8 443.1,175.4 443.6,175.1 444.1,173.2 444.6,176.3 445.1,172.7 445.6,174.5 446.1,175.2 446.6,175.4 447.1,171.2 447.6,175.0 448.1,175.2 448.6,175.4 449.1,170.9 449.6,172.7 450.1,173.4 450.6,172.9 451.1,175.0 451.6,172.5 452.1,174.7 452.6,173.9 453.1,171.4 453.6,171.9 454.1,172.5 454.6,173.1 455.1,174.1 455.6,172.7 456.1,173.9 456.6,170.9 457.1,169.1 457.6,172.3 458.1,173.2 458.6,172.1 459.1,171.3 459.6,172.9 460.1,174.7 460.6,172.2 461.1,171.4 461.6,171.2 462.1,174.5 462.6,172.1 463.1,172.8 463.6,173.5 464.1,173.2 464.6,170.8 465.1,173.0 465.6,172.8 466.1,172.3 466.6,172.9 467.1,170.9 467.6,171.4 468.1,170.8 468.6,172.3 469.1,170.6 469.6,171.8 470.1,169.9 470.6,171.0 471.1,170.7 471.6,170.9 472.1,171.2 472.6,170.7 473.1,170.6 473.6,168.4 474.1,172.1 474.6,170.0 475.1,170.4 475.6,169.6 476.1,171.8 476.6,169.4 477.1,171.1 477.6,171.8 478.1,172.3 478.6,171.7 479.1,171.0 479.6,168.7 480.1,171.7 480.6,171.5 481.1,171.0 481.6,170.9 482.1,170.0 482.6,169.2 483.1,171.1 483.6,171.2 484.1,168.4 484.6,170.7 485.1,169.8 485.6,170.6 486.1,169.8 486.6,170.7 487.1,170.6 487.6,170.3 488.1,167.6 488.6,170.2 489.1,169.2 489.6,167.7 490.1,169.9 490.6,167.3 491.1,170.0 491.6,170.9 492.1,168.2 492.6,169.8 493.1,169.2 493.6,169.4 494.1,167.0 494.6,169.2 495.1,168.6 495.6,169.3 496.1,168.4" fill="none" stroke="#d22d1e" stroke-width="1.0" opacity="1.0"/>
<polyline points="292.00,283.5 292.10,280.4 292.20,277.4 292.30,274.4 292.40,271.4 292.50,268.5 292.60,265.5 292.70,262.3 292.80,259.2 292.90,256.5 293.00,254.5 293.10,252.9 293.20,251.5 293.30,250.2 293.40,249.0 293.50,248.1 293.60,247.3 293.70,246.7 293.80,246.3 293.90,245.8 294.00,245.5 294.10,245.1" fill="none" stroke="#3e56a8" stroke-width="0.9" opacity="0.85"/>
<polyline points="292.00,283.0 292.10,279.9 292.20,276.9 292.30,273.9 292.40,270.9 292.50,268.0 292.60,265.0 292.70,261.8 292.80,258.7 292.90,256.0 293.00,254.0 293.10,252.4 293.20,251.0 293.30,249.7 293.40,248.6 293.50,247.7 293.60,246.9 293.70,246.2 293.80,245.7 293.90,245.1 294.00,244.7 294.10,244.2" fill="none" stroke="#d22d1e" stroke-width="0.9" opacity="0.85"/>
<polyline points="280.8,280.9 281.2,279.9 281.6,280.4 282.0,281.3 282.4,279.8 282.8,280.8 283.2,279.8 283.6,280.2 284.0,278.9 284.4,280.5 284.8,281.1 285.2,279.4 285.6,280.6 286.0,280.1 286.4,278.1 286.8,280.0 287.2,281.2 287.6,278.9 288.0,277.3 288.4,279.8 288.8,278.7 289.2,282.0 289.6,279.5 290.0,279.5 290.4,278.7 290.8,279.9 291.2,278.8 291.6,278.4 292.0,279.5" fill="none" stroke="#3e56a8" stroke-width="1.0"/>
<polyline points="280.8,279.7 281.2,281.8 281.6,279.4 282.0,280.5 282.4,279.9 282.8,279.2 283.2,282.2 283.6,278.5 284.0,282.0 284.4,279.1 284.8,280.6 285.2,282.8 285.6,278.4 286.0,279.2 286.4,281.8 286.8,280.7 287.2,280.0 287.6,280.5 288.0,279.6 288.4,280.7 288.8,282.0 289.2,280.2 289.6,280.7 290.0,281.7 290.4,282.5 290.8,280.0 291.2,280.8 291.6,280.0 292.0,279.9" fill="none" stroke="#d22d1e" stroke-width="1.0"/>
<polyline points="280.8,265.0 281.2,265.4 281.6,265.1 282.0,265.5 282.4,267.1 282.8,268.4 283.2,269.8 283.6,269.0 284.0,269.9 284.4,271.1 284.8,271.8 285.2,271.7 285.6,272.3 286.0,274.4 286.4,273.3 286.8,273.7 287.2,273.4 287.6,275.6 288.0,275.7 288.4,278.0 288.8,276.8 289.2,278.3 289.6,279.0 290.0,280.1 290.4,278.4 290.8,281.2 291.2,280.6 291.6,281.1 292.0,281.5" fill="none" stroke="#d22d1e" stroke-width="1.6"/>
<line x1="334.80" y1="231.60" x2="342.70" y2="231.60" stroke="#2a4a95" stroke-width="1.5" />
<line x1="334.80" y1="242.30" x2="342.70" y2="242.30" stroke="#c0203a" stroke-width="1.5" />
<line x1="334.60" y1="264.70" x2="343.80" y2="264.70" stroke="#3e56a8" stroke-width="1.2" stroke-dasharray="1.2,1"/>
<line x1="334.60" y1="275.30" x2="343.80" y2="275.30" stroke="#c0203a" stroke-width="1.2" stroke-dasharray="1.2,1"/>
<text x="345.60" y="235.30" font-size="7.6" text-anchor="start" fill="#231f20" stroke="#231f20" stroke-width="0.13" textLength="13.20" lengthAdjust="spacingAndGlyphs" >Tln1</text>
<text x="359.60" y="231.80" font-size="5.4" text-anchor="start" fill="#231f20" stroke="#231f20" stroke-width="0.12" textLength="14.20" lengthAdjust="spacingAndGlyphs" >wt/wt</text>
<text x="376.20" y="235.30" font-size="7.6" text-anchor="start" fill="#231f20" stroke="#231f20" stroke-width="0.13" textLength="61.50" lengthAdjust="spacingAndGlyphs" >+ 500 &#956;M PAR4-AP</text>
<text x="345.60" y="245.50" font-size="7.6" text-anchor="start" fill="#231f20" stroke="#231f20" stroke-width="0.13" textLength="13.20" lengthAdjust="spacingAndGlyphs" >Tln1</text>
<text x="359.60" y="242.00" font-size="5.4" text-anchor="start" fill="#231f20" stroke="#231f20" stroke-width="0.12" textLength="24.90" lengthAdjust="spacingAndGlyphs" >R35E/R35E</text>
<text x="387.20" y="245.50" font-size="7.6" text-anchor="start" fill="#231f20" stroke="#231f20" stroke-width="0.13" textLength="61.30" lengthAdjust="spacingAndGlyphs" >+ 500 &#956;M PAR4-AP</text>
<text x="345.60" y="267.20" font-size="7.6" text-anchor="start" fill="#231f20" stroke="#231f20" stroke-width="0.13" textLength="13.20" lengthAdjust="spacingAndGlyphs" >Tln1</text>
<text x="359.60" y="263.70" font-size="5.4" text-anchor="start" fill="#231f20" stroke="#231f20" stroke-width="0.12" textLength="14.20" lengthAdjust="spacingAndGlyphs" >wt/wt</text>
<text x="377.30" y="267.20" font-size="7.6" text-anchor="start" fill="#231f20" stroke="#231f20" stroke-width="0.13" textLength="55.90" lengthAdjust="spacingAndGlyphs" >+ 75 &#956;M PAR4-AP</text>
<text x="345.60" y="277.40" font-size="7.6" text-anchor="start" fill="#231f20" stroke="#231f20" stroke-width="0.13" textLength="13.20" lengthAdjust="spacingAndGlyphs" >Tln1</text>
<text x="359.60" y="273.90" font-size="5.4" text-anchor="start" fill="#231f20" stroke="#231f20" stroke-width="0.12" textLength="24.90" lengthAdjust="spacingAndGlyphs" >R35E/R35E</text>
<text x="386.50" y="277.40" font-size="7.6" text-anchor="start" fill="#231f20" stroke="#231f20" stroke-width="0.13" textLength="55.50" lengthAdjust="spacingAndGlyphs" >+ 75 &#956;M PAR4-AP</text>
<line x1="53.20" y1="476.00" x2="56.40" y2="476.00" stroke="#231f20" stroke-width="1.1" />
<text x="49.50" y="478.80" font-size="8.0" text-anchor="end" fill="#231f20" stroke="#231f20" stroke-width="0.13" textLength="4.40" lengthAdjust="spacingAndGlyphs" >0</text>
<line x1="53.20" y1="444.75" x2="56.40" y2="444.75" stroke="#231f20" stroke-width="1.1" />
<text x="49.50" y="447.55" font-size="8.0" text-anchor="end" fill="#231f20" stroke="#231f20" stroke-width="0.13" textLength="17.30" lengthAdjust="spacingAndGlyphs" >1000</text>
<line x1="53.20" y1="413.50" x2="56.40" y2="413.50" stroke="#231f20" stroke-width="1.1" />
<text x="49.50" y="416.30" font-size="8.0" text-anchor="end" fill="#231f20" stroke="#231f20" stroke-width="0.13" textLength="17.30" lengthAdjust="spacingAndGlyphs" >2000</text>
<line x1="53.20" y1="382.25" x2="56.40" y2="382.25" stroke="#231f20" stroke-width="1.1" />
<text x="49.50" y="385.05" font-size="8.0" text-anchor="end" fill="#231f20" stroke="#231f20" stroke-width="0.13" textLength="17.30" lengthAdjust="spacingAndGlyphs" >3000</text>
<line x1="53.20" y1="351.00" x2="56.40" y2="351.00" stroke="#231f20" stroke-width="1.1" />
<text x="49.50" y="353.80" font-size="8.0" text-anchor="end" fill="#231f20" stroke="#231f20" stroke-width="0.13" textLength="17.30" lengthAdjust="spacingAndGlyphs" >4000</text>
<line x1="72.65" y1="468.19" x2="72.65" y2="468.97" stroke="#231f20" stroke-width="1.2" />
<line x1="69.05" y1="468.69" x2="76.25" y2="468.69" stroke="#231f20" stroke-width="1.1" />
<rect x="65.40" y="468.97" width="14.50" height="7.03" fill="#2f4d80" stroke="#2f4d80" stroke-width="0.4"/>
<line x1="90.85" y1="468.97" x2="90.85" y2="469.28" stroke="#231f20" stroke-width="1.2" />
<line x1="87.25" y1="469.47" x2="94.45" y2="469.47" stroke="#231f20" stroke-width="1.1" />
<rect x="83.60" y="469.28" width="14.50" height="6.72" fill="#a6002c" stroke="#a6002c" stroke-width="0.4"/>
<line x1="123.35" y1="433.19" x2="123.35" y2="440.69" stroke="#231f20" stroke-width="1.2" />
<line x1="119.75" y1="433.69" x2="126.95" y2="433.69" stroke="#231f20" stroke-width="1.1" />
<rect x="116.10" y="440.69" width="14.50" height="35.31" fill="#2f4d80" stroke="#2f4d80" stroke-width="0.4"/>
<line x1="141.55" y1="434.44" x2="141.55" y2="446.31" stroke="#231f20" stroke-width="1.2" />
<line x1="137.95" y1="434.94" x2="145.15" y2="434.94" stroke="#231f20" stroke-width="1.1" />
<rect x="134.30" y="446.31" width="14.50" height="29.69" fill="#a6002c" stroke="#a6002c" stroke-width="0.4"/>
<line x1="174.05" y1="351.62" x2="174.05" y2="356.94" stroke="#231f20" stroke-width="1.2" />
<line x1="170.45" y1="352.12" x2="177.65" y2="352.12" stroke="#231f20" stroke-width="1.1" />
<rect x="166.80" y="356.94" width="14.50" height="119.06" fill="#2f4d80" stroke="#2f4d80" stroke-width="0.4"/>
<line x1="192.25" y1="360.06" x2="192.25" y2="361.62" stroke="#231f20" stroke-width="1.2" />
<line x1="188.65" y1="360.56" x2="195.85" y2="360.56" stroke="#231f20" stroke-width="1.1" />
<rect x="185.00" y="361.62" width="14.50" height="114.38" fill="#a6002c" stroke="#a6002c" stroke-width="0.4"/>
<line x1="224.65" y1="462.25" x2="224.65" y2="462.88" stroke="#231f20" stroke-width="1.2" />
<line x1="221.05" y1="462.75" x2="228.25" y2="462.75" stroke="#231f20" stroke-width="1.1" />
<rect x="217.40" y="462.88" width="14.50" height="13.12" fill="#2f4d80" stroke="#2f4d80" stroke-width="0.4"/>
<line x1="242.85" y1="459.75" x2="242.85" y2="460.84" stroke="#231f20" stroke-width="1.2" />
<line x1="239.25" y1="460.25" x2="246.45" y2="460.25" stroke="#231f20" stroke-width="1.1" />
<rect x="235.60" y="460.84" width="14.50" height="15.16" fill="#a6002c" stroke="#a6002c" stroke-width="0.4"/>
<line x1="275.35" y1="428.19" x2="275.35" y2="430.38" stroke="#231f20" stroke-width="1.2" />
<line x1="271.75" y1="428.69" x2="278.95" y2="428.69" stroke="#231f20" stroke-width="1.1" />
<rect x="268.10" y="430.38" width="14.50" height="45.62" fill="#2f4d80" stroke="#2f4d80" stroke-width="0.4"/>
<line x1="293.55" y1="415.38" x2="293.55" y2="420.06" stroke="#231f20" stroke-width="1.2" />
<line x1="289.95" y1="415.88" x2="297.15" y2="415.88" stroke="#231f20" stroke-width="1.1" />
<rect x="286.30" y="420.06" width="14.50" height="55.94" fill="#a6002c" stroke="#a6002c" stroke-width="0.4"/>
<line x1="326.15" y1="461.47" x2="326.15" y2="462.25" stroke="#231f20" stroke-width="1.2" />
<line x1="322.55" y1="461.97" x2="329.75" y2="461.97" stroke="#231f20" stroke-width="1.1" />
<rect x="318.90" y="462.25" width="14.50" height="13.75" fill="#2f4d80" stroke="#2f4d80" stroke-width="0.4"/>
<line x1="344.35" y1="458.34" x2="344.35" y2="462.56" stroke="#231f20" stroke-width="1.2" />
<line x1="340.75" y1="458.84" x2="347.95" y2="458.84" stroke="#231f20" stroke-width="1.1" />
<rect x="337.10" y="462.56" width="14.50" height="13.44" fill="#a6002c" stroke="#a6002c" stroke-width="0.4"/>
<line x1="376.85" y1="437.25" x2="376.85" y2="439.75" stroke="#231f20" stroke-width="1.2" />
<line x1="373.25" y1="437.75" x2="380.45" y2="437.75" stroke="#231f20" stroke-width="1.1" />
<rect x="369.60" y="439.75" width="14.50" height="36.25" fill="#2f4d80" stroke="#2f4d80" stroke-width="0.4"/>
<line x1="395.05" y1="433.81" x2="395.05" y2="436.00" stroke="#231f20" stroke-width="1.2" />
<line x1="391.45" y1="434.31" x2="398.65" y2="434.31" stroke="#231f20" stroke-width="1.1" />
<rect x="387.80" y="436.00" width="14.50" height="40.00" fill="#a6002c" stroke="#a6002c" stroke-width="0.4"/>
<line x1="427.65" y1="452.25" x2="427.65" y2="454.44" stroke="#231f20" stroke-width="1.2" />
<line x1="424.05" y1="452.75" x2="431.25" y2="452.75" stroke="#231f20" stroke-width="1.1" />
<rect x="420.40" y="454.44" width="14.50" height="21.56" fill="#2f4d80" stroke="#2f4d80" stroke-width="0.4"/>
<line x1="445.85" y1="453.50" x2="445.85" y2="456.31" stroke="#231f20" stroke-width="1.2" />
<line x1="442.25" y1="454.00" x2="449.45" y2="454.00" stroke="#231f20" stroke-width="1.1" />
<rect x="438.60" y="456.31" width="14.50" height="19.69" fill="#a6002c" stroke="#a6002c" stroke-width="0.4"/>
<line x1="478.25" y1="436.00" x2="478.25" y2="441.94" stroke="#231f20" stroke-width="1.2" />
<line x1="474.65" y1="436.50" x2="481.85" y2="436.50" stroke="#231f20" stroke-width="1.1" />
<rect x="471.00" y="441.94" width="14.50" height="34.06" fill="#2f4d80" stroke="#2f4d80" stroke-width="0.4"/>
<line x1="496.45" y1="439.44" x2="496.45" y2="443.50" stroke="#231f20" stroke-width="1.2" />
<line x1="492.85" y1="439.94" x2="500.05" y2="439.94" stroke="#231f20" stroke-width="1.1" />
<rect x="489.20" y="443.50" width="14.50" height="32.50" fill="#a6002c" stroke="#a6002c" stroke-width="0.4"/>
<line x1="56.40" y1="348.00" x2="56.40" y2="476.60" stroke="#231f20" stroke-width="1.2" />
<line x1="55.80" y1="476.00" x2="512.00" y2="476.00" stroke="#231f20" stroke-width="1.15" />
<text x="82.10" y="487.40" font-size="8.3" text-anchor="middle" fill="#231f20" stroke="#231f20" stroke-width="0.13" textLength="16.07" lengthAdjust="spacingAndGlyphs" >Veh.</text>
<text x="132.80" y="487.40" font-size="8.3" text-anchor="middle" fill="#231f20" stroke="#231f20" stroke-width="0.13" textLength="9.06" lengthAdjust="spacingAndGlyphs" >75</text>
<text x="183.50" y="487.40" font-size="8.3" text-anchor="middle" fill="#231f20" stroke="#231f20" stroke-width="0.13" textLength="13.60" lengthAdjust="spacingAndGlyphs" >500</text>
<text x="234.10" y="487.40" font-size="8.3" text-anchor="middle" fill="#231f20" stroke="#231f20" stroke-width="0.13" textLength="10.61" lengthAdjust="spacingAndGlyphs" >0.5</text>
<text x="284.80" y="487.40" font-size="8.3" text-anchor="middle" fill="#231f20" stroke="#231f20" stroke-width="0.13" textLength="9.58" lengthAdjust="spacingAndGlyphs" >50</text>
<text x="335.60" y="487.40" font-size="8.3" text-anchor="middle" fill="#231f20" stroke="#231f20" stroke-width="0.13" textLength="10.61" lengthAdjust="spacingAndGlyphs" >0.5</text>
<text x="386.30" y="487.40" font-size="8.3" text-anchor="middle" fill="#231f20" stroke="#231f20" stroke-width="0.13" textLength="10.30" lengthAdjust="spacingAndGlyphs" >1.5</text>
<text x="437.10" y="487.40" font-size="8.3" text-anchor="middle" fill="#231f20" stroke="#231f20" stroke-width="0.13" textLength="3.91" lengthAdjust="spacingAndGlyphs" >2</text>
<text x="487.70" y="487.40" font-size="8.3" text-anchor="middle" fill="#231f20" stroke="#231f20" stroke-width="0.13" textLength="9.48" lengthAdjust="spacingAndGlyphs" >20</text>
<line x1="116.10" y1="490.30" x2="199.80" y2="490.30" stroke="#231f20" stroke-width="1.1" />
<text x="157.95" y="502.60" font-size="8.0" text-anchor="middle" fill="#231f20" stroke="#231f20" stroke-width="0.13" textLength="49.40" lengthAdjust="spacingAndGlyphs" >PAR4-AP (&#956;M)</text>
<line x1="217.40" y1="490.30" x2="301.10" y2="490.30" stroke="#231f20" stroke-width="1.1" />
<text x="259.25" y="502.60" font-size="8.0" text-anchor="middle" fill="#231f20" stroke="#231f20" stroke-width="0.13" textLength="34.70" lengthAdjust="spacingAndGlyphs" >ADP (&#956;M)</text>
<line x1="318.90" y1="490.30" x2="402.60" y2="490.30" stroke="#231f20" stroke-width="1.1" />
<text x="360.75" y="502.60" font-size="8.0" text-anchor="middle" fill="#231f20" stroke="#231f20" stroke-width="0.13" textLength="46.10" lengthAdjust="spacingAndGlyphs" >A23187 (&#956;M)</text>
<line x1="420.40" y1="490.30" x2="504.00" y2="490.30" stroke="#231f20" stroke-width="1.1" />
<text x="462.20" y="502.60" font-size="8.0" text-anchor="middle" fill="#231f20" stroke="#231f20" stroke-width="0.13" textLength="55.00" lengthAdjust="spacingAndGlyphs" >CRP-XL (&#956;g/ml)</text>
<g transform="translate(23.7,459.6) rotate(-90)">
<text x="0.00" y="0.00" font-size="9.0" text-anchor="start" fill="#231f20" stroke="#231f20" stroke-width="0.13" textLength="95.00" lengthAdjust="spacingAndGlyphs" >JonA/PE binding (MFI)</text>
</g>
<rect x="311.80" y="352.00" width="8.00" height="5.40" fill="#2f4d80" />
<rect x="311.80" y="362.80" width="8.00" height="5.40" fill="#a6002c" />
<text x="321.00" y="357.80" font-size="8.6" text-anchor="start" fill="#231f20" stroke="#231f20" stroke-width="0.13" textLength="14.20" lengthAdjust="spacingAndGlyphs" >Tln1</text>
<text x="335.60" y="353.80" font-size="5.4" text-anchor="start" fill="#231f20" stroke="#231f20" stroke-width="0.12" textLength="14.40" lengthAdjust="spacingAndGlyphs" >wt/wt</text>
<text x="321.00" y="368.60" font-size="8.6" text-anchor="start" fill="#231f20" stroke="#231f20" stroke-width="0.13" textLength="14.20" lengthAdjust="spacingAndGlyphs" >Tln1</text>
<text x="335.60" y="364.60" font-size="5.4" text-anchor="start" fill="#231f20" stroke="#231f20" stroke-width="0.12" textLength="25.40" lengthAdjust="spacingAndGlyphs" >R35E/R35E</text>
<line x1="53.20" y1="660.90" x2="56.40" y2="660.90" stroke="#231f20" stroke-width="1.1" />
<text x="49.50" y="663.70" font-size="8.0" text-anchor="end" fill="#231f20" stroke="#231f20" stroke-width="0.13" textLength="4.40" lengthAdjust="spacingAndGlyphs" >0</text>
<line x1="53.20" y1="619.37" x2="56.40" y2="619.37" stroke="#231f20" stroke-width="1.1" />
<text x="49.50" y="622.17" font-size="8.0" text-anchor="end" fill="#231f20" stroke="#231f20" stroke-width="0.13" textLength="17.30" lengthAdjust="spacingAndGlyphs" >1000</text>
<line x1="53.20" y1="577.83" x2="56.40" y2="577.83" stroke="#231f20" stroke-width="1.1" />
<text x="49.50" y="580.63" font-size="8.0" text-anchor="end" fill="#231f20" stroke="#231f20" stroke-width="0.13" textLength="17.30" lengthAdjust="spacingAndGlyphs" >2000</text>
<line x1="53.20" y1="536.30" x2="56.40" y2="536.30" stroke="#231f20" stroke-width="1.1" />
<text x="49.50" y="539.10" font-size="8.0" text-anchor="end" fill="#231f20" stroke="#231f20" stroke-width="0.13" textLength="17.30" lengthAdjust="spacingAndGlyphs" >3000</text>
<line x1="73.25" y1="654.67" x2="73.25" y2="655.29" stroke="#231f20" stroke-width="1.2" />
<line x1="69.65" y1="655.17" x2="76.85" y2="655.17" stroke="#231f20" stroke-width="1.1" />
<rect x="66.00" y="655.29" width="14.50" height="5.61" fill="#2f4d80" stroke="#2f4d80" stroke-width="0.4"/>
<line x1="91.45" y1="654.05" x2="91.45" y2="654.67" stroke="#231f20" stroke-width="1.2" />
<line x1="87.85" y1="654.55" x2="95.05" y2="654.55" stroke="#231f20" stroke-width="1.1" />
<rect x="84.20" y="654.67" width="14.50" height="6.23" fill="#a6002c" stroke="#a6002c" stroke-width="0.4"/>
<line x1="123.95" y1="554.57" x2="123.95" y2="555.41" stroke="#231f20" stroke-width="1.2" />
<line x1="120.35" y1="555.07" x2="127.55" y2="555.07" stroke="#231f20" stroke-width="1.1" />
<rect x="116.70" y="555.41" width="14.50" height="105.49" fill="#2f4d80" stroke="#2f4d80" stroke-width="0.4"/>
<line x1="142.15" y1="553.33" x2="142.15" y2="563.71" stroke="#231f20" stroke-width="1.2" />
<line x1="138.55" y1="553.83" x2="145.75" y2="553.83" stroke="#231f20" stroke-width="1.1" />
<rect x="134.90" y="563.71" width="14.50" height="97.19" fill="#a6002c" stroke="#a6002c" stroke-width="0.4"/>
<line x1="174.65" y1="548.76" x2="174.65" y2="550.84" stroke="#231f20" stroke-width="1.2" />
<line x1="171.05" y1="549.26" x2="178.25" y2="549.26" stroke="#231f20" stroke-width="1.1" />
<rect x="167.40" y="550.84" width="14.50" height="110.06" fill="#2f4d80" stroke="#2f4d80" stroke-width="0.4"/>
<line x1="192.85" y1="542.95" x2="192.85" y2="546.27" stroke="#231f20" stroke-width="1.2" />
<line x1="189.25" y1="543.45" x2="196.45" y2="543.45" stroke="#231f20" stroke-width="1.1" />
<rect x="185.60" y="546.27" width="14.50" height="114.63" fill="#a6002c" stroke="#a6002c" stroke-width="0.4"/>
<line x1="225.25" y1="608.36" x2="225.25" y2="615.21" stroke="#231f20" stroke-width="1.2" />
<line x1="221.65" y1="608.86" x2="228.85" y2="608.86" stroke="#231f20" stroke-width="1.1" />
<rect x="218.00" y="615.21" width="14.50" height="45.69" fill="#2f4d80" stroke="#2f4d80" stroke-width="0.4"/>
<line x1="243.45" y1="607.53" x2="243.45" y2="612.31" stroke="#231f20" stroke-width="1.2" />
<line x1="239.85" y1="608.03" x2="247.05" y2="608.03" stroke="#231f20" stroke-width="1.1" />
<rect x="236.20" y="612.31" width="14.50" height="48.59" fill="#a6002c" stroke="#a6002c" stroke-width="0.4"/>
<line x1="275.95" y1="566.62" x2="275.95" y2="567.45" stroke="#231f20" stroke-width="1.2" />
<line x1="272.35" y1="567.12" x2="279.55" y2="567.12" stroke="#231f20" stroke-width="1.1" />
<rect x="268.70" y="567.45" width="14.50" height="93.45" fill="#2f4d80" stroke="#2f4d80" stroke-width="0.4"/>
<line x1="294.15" y1="560.80" x2="294.15" y2="562.47" stroke="#231f20" stroke-width="1.2" />
<line x1="290.55" y1="561.30" x2="297.75" y2="561.30" stroke="#231f20" stroke-width="1.1" />
<rect x="286.90" y="562.47" width="14.50" height="98.43" fill="#a6002c" stroke="#a6002c" stroke-width="0.4"/>
<line x1="326.75" y1="616.87" x2="326.75" y2="624.35" stroke="#231f20" stroke-width="1.2" />
<line x1="323.15" y1="617.37" x2="330.35" y2="617.37" stroke="#231f20" stroke-width="1.1" />
<rect x="319.50" y="624.35" width="14.50" height="36.55" fill="#2f4d80" stroke="#2f4d80" stroke-width="0.4"/>
<line x1="344.95" y1="618.12" x2="344.95" y2="625.18" stroke="#231f20" stroke-width="1.2" />
<line x1="341.35" y1="618.62" x2="348.55" y2="618.62" stroke="#231f20" stroke-width="1.1" />
<rect x="337.70" y="625.18" width="14.50" height="35.72" fill="#a6002c" stroke="#a6002c" stroke-width="0.4"/>
<line x1="377.45" y1="577.63" x2="377.45" y2="589.05" stroke="#231f20" stroke-width="1.2" />
<line x1="373.85" y1="578.13" x2="381.05" y2="578.13" stroke="#231f20" stroke-width="1.1" />
<rect x="370.20" y="589.05" width="14.50" height="71.85" fill="#2f4d80" stroke="#2f4d80" stroke-width="0.4"/>
<line x1="395.65" y1="578.66" x2="395.65" y2="587.18" stroke="#231f20" stroke-width="1.2" />
<line x1="392.05" y1="579.16" x2="399.25" y2="579.16" stroke="#231f20" stroke-width="1.1" />
<rect x="388.40" y="587.18" width="14.50" height="73.72" fill="#a6002c" stroke="#a6002c" stroke-width="0.4"/>
<line x1="428.25" y1="580.53" x2="428.25" y2="587.39" stroke="#231f20" stroke-width="1.2" />
<line x1="424.65" y1="581.03" x2="431.85" y2="581.03" stroke="#231f20" stroke-width="1.1" />
<rect x="421.00" y="587.39" width="14.50" height="73.51" fill="#2f4d80" stroke="#2f4d80" stroke-width="0.4"/>
<line x1="446.45" y1="583.44" x2="446.45" y2="595.28" stroke="#231f20" stroke-width="1.2" />
<line x1="442.85" y1="583.94" x2="450.05" y2="583.94" stroke="#231f20" stroke-width="1.1" />
<rect x="439.20" y="595.28" width="14.50" height="65.62" fill="#a6002c" stroke="#a6002c" stroke-width="0.4"/>
<line x1="478.85" y1="568.28" x2="478.85" y2="570.77" stroke="#231f20" stroke-width="1.2" />
<line x1="475.25" y1="568.78" x2="482.45" y2="568.78" stroke="#231f20" stroke-width="1.1" />
<rect x="471.60" y="570.77" width="14.50" height="90.13" fill="#2f4d80" stroke="#2f4d80" stroke-width="0.4"/>
<line x1="497.05" y1="564.13" x2="497.05" y2="570.77" stroke="#231f20" stroke-width="1.2" />
<line x1="493.45" y1="564.63" x2="500.65" y2="564.63" stroke="#231f20" stroke-width="1.1" />
<rect x="489.80" y="570.77" width="14.50" height="90.13" fill="#a6002c" stroke="#a6002c" stroke-width="0.4"/>
<line x1="56.40" y1="532.80" x2="56.40" y2="661.50" stroke="#231f20" stroke-width="1.2" />
<line x1="55.80" y1="660.90" x2="512.00" y2="660.90" stroke="#231f20" stroke-width="1.15" />
<text x="82.10" y="672.00" font-size="8.3" text-anchor="middle" fill="#231f20" stroke="#231f20" stroke-width="0.13" textLength="16.07" lengthAdjust="spacingAndGlyphs" >Veh.</text>
<text x="132.80" y="672.00" font-size="8.3" text-anchor="middle" fill="#231f20" stroke="#231f20" stroke-width="0.13" textLength="9.06" lengthAdjust="spacingAndGlyphs" >75</text>
<text x="183.50" y="672.00" font-size="8.3" text-anchor="middle" fill="#231f20" stroke="#231f20" stroke-width="0.13" textLength="13.60" lengthAdjust="spacingAndGlyphs" >500</text>
<text x="234.10" y="672.00" font-size="8.3" text-anchor="middle" fill="#231f20" stroke="#231f20" stroke-width="0.13" textLength="10.61" lengthAdjust="spacingAndGlyphs" >0.5</text>
<text x="284.80" y="672.00" font-size="8.3" text-anchor="middle" fill="#231f20" stroke="#231f20" stroke-width="0.13" textLength="9.58" lengthAdjust="spacingAndGlyphs" >50</text>
<text x="335.60" y="672.00" font-size="8.3" text-anchor="middle" fill="#231f20" stroke="#231f20" stroke-width="0.13" textLength="10.61" lengthAdjust="spacingAndGlyphs" >0.5</text>
<text x="386.30" y="672.00" font-size="8.3" text-anchor="middle" fill="#231f20" stroke="#231f20" stroke-width="0.13" textLength="10.30" lengthAdjust="spacingAndGlyphs" >1.5</text>
<text x="437.10" y="672.00" font-size="8.3" text-anchor="middle" fill="#231f20" stroke="#231f20" stroke-width="0.13" textLength="3.91" lengthAdjust="spacingAndGlyphs" >2</text>
<text x="487.70" y="672.00" font-size="8.3" text-anchor="middle" fill="#231f20" stroke="#231f20" stroke-width="0.13" textLength="9.48" lengthAdjust="spacingAndGlyphs" >20</text>
<line x1="116.10" y1="674.70" x2="199.80" y2="674.70" stroke="#231f20" stroke-width="1.1" />
<text x="157.95" y="687.20" font-size="8.0" text-anchor="middle" fill="#231f20" stroke="#231f20" stroke-width="0.13" textLength="49.40" lengthAdjust="spacingAndGlyphs" >PAR4-AP (&#956;M)</text>
<line x1="217.40" y1="674.70" x2="301.10" y2="674.70" stroke="#231f20" stroke-width="1.1" />
<text x="259.25" y="687.20" font-size="8.0" text-anchor="middle" fill="#231f20" stroke="#231f20" stroke-width="0.13" textLength="34.70" lengthAdjust="spacingAndGlyphs" >ADP (&#956;M)</text>
<line x1="318.90" y1="674.70" x2="402.60" y2="674.70" stroke="#231f20" stroke-width="1.1" />
<text x="360.75" y="687.20" font-size="8.0" text-anchor="middle" fill="#231f20" stroke="#231f20" stroke-width="0.13" textLength="46.10" lengthAdjust="spacingAndGlyphs" >A23187 (&#956;M)</text>
<line x1="420.40" y1="674.70" x2="504.00" y2="674.70" stroke="#231f20" stroke-width="1.1" />
<text x="462.20" y="687.20" font-size="8.0" text-anchor="middle" fill="#231f20" stroke="#231f20" stroke-width="0.13" textLength="55.00" lengthAdjust="spacingAndGlyphs" >CRP-XL (&#956;g/ml)</text>
<g transform="translate(23.7,668.3) rotate(-90)">
<text x="0.00" y="0.00" font-size="9.0" text-anchor="start" fill="#231f20" stroke="#231f20" stroke-width="0.13" textLength="141.00" lengthAdjust="spacingAndGlyphs" >Fibrinogen/AF-488 binding (MFI)</text>
</g>
<rect x="311.80" y="536.60" width="8.00" height="5.40" fill="#2f4d80" />
<rect x="311.80" y="547.40" width="8.00" height="5.40" fill="#a6002c" />
<text x="321.00" y="542.40" font-size="8.6" text-anchor="start" fill="#231f20" stroke="#231f20" stroke-width="0.13" textLength="14.20" lengthAdjust="spacingAndGlyphs" >Tln1</text>
<text x="335.60" y="538.40" font-size="5.4" text-anchor="start" fill="#231f20" stroke="#231f20" stroke-width="0.12" textLength="14.40" lengthAdjust="spacingAndGlyphs" >wt/wt</text>
<text x="321.00" y="553.20" font-size="8.6" text-anchor="start" fill="#231f20" stroke="#231f20" stroke-width="0.13" textLength="14.20" lengthAdjust="spacingAndGlyphs" >Tln1</text>
<text x="335.60" y="549.20" font-size="5.4" text-anchor="start" fill="#231f20" stroke="#231f20" stroke-width="0.12" textLength="25.40" lengthAdjust="spacingAndGlyphs" >R35E/R35E</text>
<rect x="0" y="0" width="520" height="1.2" fill="#111"/>
<rect x="0" y="0" width="1.7" height="697" fill="#222"/>
<rect x="518.45" y="0" width="1.55" height="697" fill="#111"/>
<rect x="0" y="695.2" width="520" height="1.8" fill="#111"/>
</svg>
</body></html>
